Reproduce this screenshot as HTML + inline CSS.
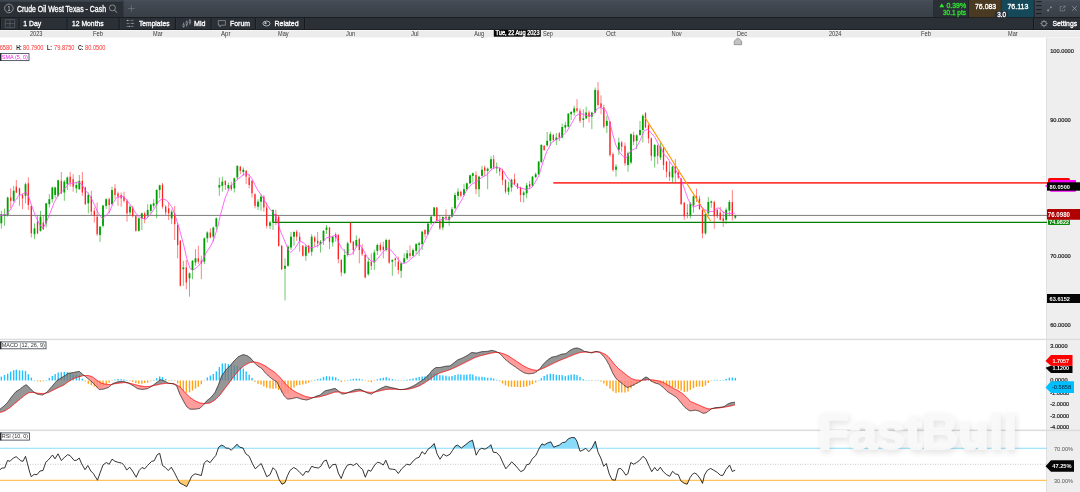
<!DOCTYPE html>
<html lang="en"><head><meta charset="utf-8"><title>Crude Oil West Texas - Cash</title>
<style>html,body{margin:0;padding:0;background:#fff;overflow:hidden}body{width:1080px;height:492px;font-family:"Liberation Sans", Arial, sans-serif}svg text{white-space:pre}</style>
</head><body>
<svg width="1080" height="492" viewBox="0 0 1080 492" font-family='"Liberation Sans", Arial, sans-serif' style="display:block">
<defs>
<linearGradient id="tabg" x1="0" y1="0" x2="0" y2="1"><stop offset="0" stop-color="#49515a"/><stop offset="0.12" stop-color="#434a53"/><stop offset="1" stop-color="#383f47"/></linearGradient>
<filter id="wmblur" x="-10%" y="-30%" width="120%" height="170%"><feGaussianBlur stdDeviation="3"/></filter>
<clipPath id="plot"><rect x="0" y="37.5" width="1047" height="455"/></clipPath>
</defs>
<rect x="0.00" y="0.00" width="1080.00" height="492.00" fill="#ffffff" />
<rect x="1047.00" y="37.50" width="33.00" height="455.00" fill="#eeeeee" />
<line x1="1046.50" y1="37.50" x2="1046.50" y2="492.00" stroke="#e0e0e0" stroke-width="1" />
<g clip-path="url(#plot)">
<line x1="0.00" y1="215.40" x2="1047.00" y2="215.40" stroke="#7a7a7a" stroke-width="1" />
<line x1="272.80" y1="222.30" x2="1047.00" y2="222.30" stroke="#008000" stroke-width="1.3" />
<line x1="553.30" y1="182.90" x2="1047.00" y2="182.90" stroke="#ff3b3b" stroke-width="1.6" />
<path d="M1.33 210.83V228.67" stroke="#00a000" stroke-width="0.75" stroke-opacity="0.75"/>
<rect x="0.43" y="214.17" width="1.8" height="9.17" fill="#00a000"/>
<path d="M4.50 208.67V225.83" stroke="#00a000" stroke-width="0.75" stroke-opacity="0.75"/>
<rect x="3.60" y="214.17" width="1.8" height="1.67" fill="#00a000"/>
<path d="M7.67 196.67V216.67" stroke="#00a000" stroke-width="0.75" stroke-opacity="0.75"/>
<rect x="6.77" y="197.50" width="1.8" height="17.50" fill="#00a000"/>
<path d="M10.67 188.33V208.33" stroke="#ff2222" stroke-width="0.75" stroke-opacity="0.75"/>
<rect x="10.02" y="197.50" width="1.3" height="3.33" fill="#ff2222"/>
<path d="M13.67 185.83V202.50" stroke="#00a000" stroke-width="0.75" stroke-opacity="0.75"/>
<rect x="12.77" y="190.83" width="1.8" height="10.00" fill="#00a000"/>
<path d="M16.33 180.00V193.33" stroke="#ff2222" stroke-width="0.75" stroke-opacity="0.75"/>
<rect x="15.68" y="186.67" width="1.3" height="5.83" fill="#ff2222"/>
<path d="M19.50 187.50V205.83" stroke="#ff2222" stroke-width="0.75" stroke-opacity="0.75"/>
<rect x="18.85" y="188.33" width="1.3" height="6.67" fill="#ff2222"/>
<path d="M22.50 193.33V209.17" stroke="#ff2222" stroke-width="0.75" stroke-opacity="0.75"/>
<rect x="21.85" y="195.00" width="1.3" height="3.33" fill="#ff2222"/>
<path d="M25.50 182.50V203.33" stroke="#00a000" stroke-width="0.75" stroke-opacity="0.75"/>
<rect x="24.60" y="184.17" width="1.8" height="11.67" fill="#00a000"/>
<path d="M28.33 177.50V210.00" stroke="#ff2222" stroke-width="0.75" stroke-opacity="0.75"/>
<rect x="27.68" y="183.33" width="1.3" height="21.67" fill="#ff2222"/>
<path d="M31.33 205.83V237.50" stroke="#ff2222" stroke-width="0.75" stroke-opacity="0.75"/>
<rect x="30.68" y="205.83" width="1.3" height="27.50" fill="#ff2222"/>
<path d="M34.50 223.33V239.17" stroke="#00a000" stroke-width="0.75" stroke-opacity="0.75"/>
<rect x="33.60" y="228.33" width="1.8" height="5.83" fill="#00a000"/>
<path d="M37.50 215.83V234.17" stroke="#ff2222" stroke-width="0.75" stroke-opacity="0.75"/>
<rect x="36.85" y="221.67" width="1.3" height="11.67" fill="#ff2222"/>
<path d="M40.50 210.83V231.67" stroke="#00a000" stroke-width="0.75" stroke-opacity="0.75"/>
<rect x="39.60" y="216.67" width="1.8" height="14.17" fill="#00a000"/>
<path d="M43.33 215.83V230.00" stroke="#ff2222" stroke-width="0.75" stroke-opacity="0.75"/>
<rect x="42.68" y="222.50" width="1.3" height="6.67" fill="#ff2222"/>
<path d="M46.17 203.00V227.50" stroke="#00a000" stroke-width="0.75" stroke-opacity="0.75"/>
<rect x="45.27" y="203.33" width="1.8" height="20.00" fill="#00a000"/>
<path d="M49.33 194.17V207.50" stroke="#00a000" stroke-width="0.75" stroke-opacity="0.75"/>
<rect x="48.43" y="199.17" width="1.8" height="5.00" fill="#00a000"/>
<path d="M52.33 186.67V202.50" stroke="#00a000" stroke-width="0.75" stroke-opacity="0.75"/>
<rect x="51.43" y="187.50" width="1.8" height="11.67" fill="#00a000"/>
<path d="M55.17 186.67V198.33" stroke="#00a000" stroke-width="0.75" stroke-opacity="0.75"/>
<rect x="54.27" y="187.50" width="1.8" height="7.50" fill="#00a000"/>
<path d="M58.17 179.67V196.67" stroke="#00a000" stroke-width="0.75" stroke-opacity="0.75"/>
<rect x="57.27" y="180.33" width="1.8" height="15.50" fill="#00a000"/>
<path d="M61.33 172.00V194.17" stroke="#ff2222" stroke-width="0.75" stroke-opacity="0.75"/>
<rect x="60.68" y="180.83" width="1.3" height="12.50" fill="#ff2222"/>
<path d="M64.33 180.00V200.83" stroke="#00a000" stroke-width="0.75" stroke-opacity="0.75"/>
<rect x="63.43" y="181.67" width="1.8" height="10.83" fill="#00a000"/>
<path d="M67.33 176.33V190.00" stroke="#00a000" stroke-width="0.75" stroke-opacity="0.75"/>
<rect x="66.43" y="177.50" width="1.8" height="6.67" fill="#00a000"/>
<path d="M70.17 172.00V186.67" stroke="#ff2222" stroke-width="0.75" stroke-opacity="0.75"/>
<rect x="69.52" y="176.67" width="1.3" height="5.83" fill="#ff2222"/>
<path d="M73.17 174.17V191.67" stroke="#ff2222" stroke-width="0.75" stroke-opacity="0.75"/>
<rect x="72.52" y="179.17" width="1.3" height="7.50" fill="#ff2222"/>
<path d="M76.33 181.67V193.00" stroke="#00a000" stroke-width="0.75" stroke-opacity="0.75"/>
<rect x="75.43" y="185.00" width="1.8" height="3.33" fill="#00a000"/>
<path d="M79.33 175.00V190.00" stroke="#00a000" stroke-width="0.75" stroke-opacity="0.75"/>
<rect x="78.43" y="180.83" width="1.8" height="8.33" fill="#00a000"/>
<path d="M82.33 172.00V195.83" stroke="#ff2222" stroke-width="0.75" stroke-opacity="0.75"/>
<rect x="81.68" y="180.83" width="1.3" height="11.67" fill="#ff2222"/>
<path d="M85.33 186.67V205.00" stroke="#ff2222" stroke-width="0.75" stroke-opacity="0.75"/>
<rect x="84.68" y="187.50" width="1.3" height="16.67" fill="#ff2222"/>
<path d="M88.33 192.50V213.33" stroke="#00a000" stroke-width="0.75" stroke-opacity="0.75"/>
<rect x="87.43" y="195.00" width="1.8" height="8.33" fill="#00a000"/>
<path d="M91.33 190.83V215.00" stroke="#ff2222" stroke-width="0.75" stroke-opacity="0.75"/>
<rect x="90.68" y="196.67" width="1.3" height="15.00" fill="#ff2222"/>
<path d="M94.33 207.50V222.50" stroke="#ff2222" stroke-width="0.75" stroke-opacity="0.75"/>
<rect x="93.68" y="210.83" width="1.3" height="5.00" fill="#ff2222"/>
<path d="M97.17 202.50V235.83" stroke="#ff2222" stroke-width="0.75" stroke-opacity="0.75"/>
<rect x="96.52" y="216.67" width="1.3" height="17.50" fill="#ff2222"/>
<path d="M100.00 225.83V242.00" stroke="#00a000" stroke-width="0.75" stroke-opacity="0.75"/>
<rect x="99.10" y="226.67" width="1.8" height="8.33" fill="#00a000"/>
<path d="M103.00 205.00V227.50" stroke="#00a000" stroke-width="0.75" stroke-opacity="0.75"/>
<rect x="102.10" y="205.50" width="1.8" height="20.33" fill="#00a000"/>
<path d="M106.17 198.33V209.17" stroke="#00a000" stroke-width="0.75" stroke-opacity="0.75"/>
<rect x="105.27" y="199.17" width="1.8" height="6.67" fill="#00a000"/>
<path d="M109.17 197.50V213.33" stroke="#ff2222" stroke-width="0.75" stroke-opacity="0.75"/>
<rect x="108.52" y="199.17" width="1.3" height="5.83" fill="#ff2222"/>
<path d="M112.00 186.67V205.00" stroke="#00a000" stroke-width="0.75" stroke-opacity="0.75"/>
<rect x="111.10" y="190.00" width="1.8" height="14.17" fill="#00a000"/>
<path d="M115.00 184.17V198.33" stroke="#ff2222" stroke-width="0.75" stroke-opacity="0.75"/>
<rect x="114.35" y="188.33" width="1.3" height="6.67" fill="#ff2222"/>
<path d="M118.00 191.67V205.83" stroke="#ff2222" stroke-width="0.75" stroke-opacity="0.75"/>
<rect x="117.35" y="193.33" width="1.3" height="3.33" fill="#ff2222"/>
<path d="M121.17 192.50V206.67" stroke="#ff2222" stroke-width="0.75" stroke-opacity="0.75"/>
<rect x="120.52" y="195.00" width="1.3" height="3.33" fill="#ff2222"/>
<path d="M124.00 191.67V202.50" stroke="#ff2222" stroke-width="0.75" stroke-opacity="0.75"/>
<rect x="123.35" y="196.67" width="1.3" height="4.17" fill="#ff2222"/>
<path d="M127.00 199.17V221.67" stroke="#ff2222" stroke-width="0.75" stroke-opacity="0.75"/>
<rect x="126.35" y="200.83" width="1.3" height="12.50" fill="#ff2222"/>
<path d="M130.00 205.00V215.00" stroke="#00a000" stroke-width="0.75" stroke-opacity="0.75"/>
<rect x="129.10" y="206.67" width="1.8" height="5.83" fill="#00a000"/>
<path d="M132.67 205.83V217.50" stroke="#ff2222" stroke-width="0.75" stroke-opacity="0.75"/>
<rect x="132.02" y="207.50" width="1.3" height="8.33" fill="#ff2222"/>
<path d="M135.83 215.83V231.67" stroke="#ff2222" stroke-width="0.75" stroke-opacity="0.75"/>
<rect x="135.18" y="215.83" width="1.3" height="15.00" fill="#ff2222"/>
<path d="M138.83 217.50V231.67" stroke="#00a000" stroke-width="0.75" stroke-opacity="0.75"/>
<rect x="137.93" y="218.33" width="1.8" height="12.50" fill="#00a000"/>
<path d="M141.83 212.50V230.00" stroke="#00a000" stroke-width="0.75" stroke-opacity="0.75"/>
<rect x="140.93" y="213.33" width="1.8" height="5.00" fill="#00a000"/>
<path d="M144.67 211.67V223.33" stroke="#ff2222" stroke-width="0.75" stroke-opacity="0.75"/>
<rect x="144.02" y="213.33" width="1.3" height="5.83" fill="#ff2222"/>
<path d="M147.67 204.17V217.50" stroke="#00a000" stroke-width="0.75" stroke-opacity="0.75"/>
<rect x="146.77" y="210.00" width="1.8" height="5.00" fill="#00a000"/>
<path d="M150.83 203.67V213.33" stroke="#00a000" stroke-width="0.75" stroke-opacity="0.75"/>
<rect x="149.93" y="204.67" width="1.8" height="6.17" fill="#00a000"/>
<path d="M153.67 199.17V208.33" stroke="#00a000" stroke-width="0.75" stroke-opacity="0.75"/>
<rect x="152.77" y="203.33" width="1.8" height="2.50" fill="#00a000"/>
<path d="M156.67 189.17V218.33" stroke="#00a000" stroke-width="0.75" stroke-opacity="0.75"/>
<rect x="155.77" y="190.00" width="1.8" height="14.17" fill="#00a000"/>
<path d="M159.67 184.67V198.33" stroke="#00a000" stroke-width="0.75" stroke-opacity="0.75"/>
<rect x="158.77" y="185.33" width="1.8" height="4.67" fill="#00a000"/>
<path d="M162.50 183.00V208.67" stroke="#ff2222" stroke-width="0.75" stroke-opacity="0.75"/>
<rect x="161.85" y="184.67" width="1.3" height="22.00" fill="#ff2222"/>
<path d="M165.67 205.00V215.00" stroke="#ff2222" stroke-width="0.75" stroke-opacity="0.75"/>
<rect x="165.02" y="206.67" width="1.3" height="5.83" fill="#ff2222"/>
<path d="M168.67 202.50V220.00" stroke="#ff2222" stroke-width="0.75" stroke-opacity="0.75"/>
<rect x="168.02" y="208.33" width="1.3" height="5.00" fill="#ff2222"/>
<path d="M171.67 209.67V224.17" stroke="#00a000" stroke-width="0.75" stroke-opacity="0.75"/>
<rect x="170.77" y="211.67" width="1.8" height="6.67" fill="#00a000"/>
<path d="M174.67 205.83V240.00" stroke="#ff2222" stroke-width="0.75" stroke-opacity="0.75"/>
<rect x="174.02" y="213.33" width="1.3" height="10.83" fill="#ff2222"/>
<path d="M177.67 223.33V258.33" stroke="#ff2222" stroke-width="0.75" stroke-opacity="0.75"/>
<rect x="177.02" y="225.00" width="1.3" height="20.00" fill="#ff2222"/>
<path d="M180.33 240.00V286.33" stroke="#ff2222" stroke-width="0.75" stroke-opacity="0.75"/>
<rect x="179.68" y="240.83" width="1.3" height="45.00" fill="#ff2222"/>
<path d="M183.33 260.83V285.83" stroke="#00a000" stroke-width="0.75" stroke-opacity="0.75"/>
<rect x="182.43" y="267.50" width="1.8" height="1.67" fill="#00a000"/>
<path d="M186.33 260.00V289.17" stroke="#ff2222" stroke-width="0.75" stroke-opacity="0.75"/>
<rect x="185.68" y="267.50" width="1.3" height="15.00" fill="#ff2222"/>
<path d="M189.50 272.50V296.67" stroke="#00a000" stroke-width="0.75" stroke-opacity="0.75"/>
<rect x="188.60" y="273.33" width="1.8" height="5.00" fill="#00a000"/>
<path d="M192.50 260.00V279.17" stroke="#00a000" stroke-width="0.75" stroke-opacity="0.75"/>
<rect x="191.60" y="260.83" width="1.8" height="9.17" fill="#00a000"/>
<path d="M195.50 249.17V265.83" stroke="#00a000" stroke-width="0.75" stroke-opacity="0.75"/>
<rect x="194.60" y="258.33" width="1.8" height="4.17" fill="#00a000"/>
<path d="M198.33 245.83V264.17" stroke="#ff2222" stroke-width="0.75" stroke-opacity="0.75"/>
<rect x="197.68" y="258.33" width="1.3" height="3.33" fill="#ff2222"/>
<path d="M201.33 255.83V279.17" stroke="#ff2222" stroke-width="0.75" stroke-opacity="0.75"/>
<rect x="200.68" y="260.83" width="1.3" height="2.50" fill="#ff2222"/>
<path d="M204.33 237.50V264.17" stroke="#00a000" stroke-width="0.75" stroke-opacity="0.75"/>
<rect x="203.43" y="238.33" width="1.8" height="23.33" fill="#00a000"/>
<path d="M207.33 231.33V242.50" stroke="#00a000" stroke-width="0.75" stroke-opacity="0.75"/>
<rect x="206.43" y="232.50" width="1.8" height="5.83" fill="#00a000"/>
<path d="M210.33 228.33V238.33" stroke="#ff2222" stroke-width="0.75" stroke-opacity="0.75"/>
<rect x="209.68" y="232.50" width="1.3" height="5.00" fill="#ff2222"/>
<path d="M213.33 226.67V241.67" stroke="#00a000" stroke-width="0.75" stroke-opacity="0.75"/>
<rect x="212.43" y="227.50" width="1.8" height="9.17" fill="#00a000"/>
<path d="M216.33 217.50V230.00" stroke="#00a000" stroke-width="0.75" stroke-opacity="0.75"/>
<rect x="215.43" y="218.33" width="1.8" height="8.33" fill="#00a000"/>
<path d="M219.33 177.50V195.83" stroke="#00a000" stroke-width="0.75" stroke-opacity="0.75"/>
<rect x="218.43" y="185.00" width="1.8" height="2.50" fill="#00a000"/>
<path d="M222.33 176.67V191.67" stroke="#00a000" stroke-width="0.75" stroke-opacity="0.75"/>
<rect x="221.43" y="181.67" width="1.8" height="4.17" fill="#00a000"/>
<path d="M225.33 180.33V190.00" stroke="#ff2222" stroke-width="0.75" stroke-opacity="0.75"/>
<rect x="224.68" y="180.83" width="1.3" height="4.17" fill="#ff2222"/>
<path d="M228.33 182.50V190.83" stroke="#00a000" stroke-width="0.75" stroke-opacity="0.75"/>
<rect x="227.43" y="185.00" width="1.8" height="3.33" fill="#00a000"/>
<path d="M231.33 181.67V190.83" stroke="#ff2222" stroke-width="0.75" stroke-opacity="0.75"/>
<rect x="230.68" y="185.00" width="1.3" height="4.17" fill="#ff2222"/>
<path d="M234.33 177.50V192.50" stroke="#00a000" stroke-width="0.75" stroke-opacity="0.75"/>
<rect x="233.43" y="178.33" width="1.8" height="10.00" fill="#00a000"/>
<path d="M237.33 165.33V179.17" stroke="#00a000" stroke-width="0.75" stroke-opacity="0.75"/>
<rect x="236.43" y="165.83" width="1.8" height="11.67" fill="#00a000"/>
<path d="M240.33 165.83V174.17" stroke="#ff2222" stroke-width="0.75" stroke-opacity="0.75"/>
<rect x="239.68" y="166.67" width="1.3" height="4.17" fill="#ff2222"/>
<path d="M243.33 167.50V175.83" stroke="#00a000" stroke-width="0.75" stroke-opacity="0.75"/>
<rect x="242.43" y="169.67" width="1.8" height="2.33" fill="#00a000"/>
<path d="M246.17 170.00V184.17" stroke="#ff2222" stroke-width="0.75" stroke-opacity="0.75"/>
<rect x="245.52" y="170.83" width="1.3" height="5.83" fill="#ff2222"/>
<path d="M249.17 174.17V188.33" stroke="#ff2222" stroke-width="0.75" stroke-opacity="0.75"/>
<rect x="248.52" y="177.50" width="1.3" height="7.50" fill="#ff2222"/>
<path d="M252.00 180.00V197.50" stroke="#ff2222" stroke-width="0.75" stroke-opacity="0.75"/>
<rect x="251.35" y="180.83" width="1.3" height="12.50" fill="#ff2222"/>
<path d="M255.00 193.33V208.33" stroke="#ff2222" stroke-width="0.75" stroke-opacity="0.75"/>
<rect x="254.35" y="194.17" width="1.3" height="11.67" fill="#ff2222"/>
<path d="M258.00 199.17V210.00" stroke="#00a000" stroke-width="0.75" stroke-opacity="0.75"/>
<rect x="257.10" y="201.67" width="1.8" height="5.00" fill="#00a000"/>
<path d="M261.00 194.17V210.83" stroke="#00a000" stroke-width="0.75" stroke-opacity="0.75"/>
<rect x="260.10" y="196.67" width="1.8" height="5.00" fill="#00a000"/>
<path d="M263.83 195.00V211.67" stroke="#ff2222" stroke-width="0.75" stroke-opacity="0.75"/>
<rect x="263.18" y="196.67" width="1.3" height="10.83" fill="#ff2222"/>
<path d="M266.67 202.50V228.33" stroke="#ff2222" stroke-width="0.75" stroke-opacity="0.75"/>
<rect x="266.02" y="207.50" width="1.3" height="18.33" fill="#ff2222"/>
<path d="M270.00 220.83V229.17" stroke="#00a000" stroke-width="0.75" stroke-opacity="0.75"/>
<rect x="269.10" y="222.50" width="1.8" height="3.33" fill="#00a000"/>
<path d="M273.00 209.17V230.00" stroke="#00a000" stroke-width="0.75" stroke-opacity="0.75"/>
<rect x="272.10" y="210.00" width="1.8" height="12.50" fill="#00a000"/>
<path d="M275.83 209.67V225.00" stroke="#ff2222" stroke-width="0.75" stroke-opacity="0.75"/>
<rect x="275.18" y="214.17" width="1.3" height="8.33" fill="#ff2222"/>
<path d="M278.67 215.00V246.67" stroke="#ff2222" stroke-width="0.75" stroke-opacity="0.75"/>
<rect x="278.02" y="216.67" width="1.3" height="29.17" fill="#ff2222"/>
<path d="M281.67 245.00V270.00" stroke="#ff2222" stroke-width="0.75" stroke-opacity="0.75"/>
<rect x="281.02" y="245.83" width="1.3" height="23.33" fill="#ff2222"/>
<path d="M285.00 258.33V300.33" stroke="#00a000" stroke-width="0.75" stroke-opacity="0.75"/>
<rect x="284.10" y="265.83" width="1.8" height="2.83" fill="#00a000"/>
<path d="M288.00 245.00V266.67" stroke="#00a000" stroke-width="0.75" stroke-opacity="0.75"/>
<rect x="287.10" y="246.67" width="1.8" height="19.17" fill="#00a000"/>
<path d="M291.00 232.00V250.00" stroke="#00a000" stroke-width="0.75" stroke-opacity="0.75"/>
<rect x="290.10" y="236.67" width="1.8" height="10.83" fill="#00a000"/>
<path d="M294.00 231.33V245.83" stroke="#00a000" stroke-width="0.75" stroke-opacity="0.75"/>
<rect x="293.10" y="232.00" width="1.8" height="4.67" fill="#00a000"/>
<path d="M296.67 230.00V240.83" stroke="#ff2222" stroke-width="0.75" stroke-opacity="0.75"/>
<rect x="296.02" y="231.67" width="1.3" height="5.00" fill="#ff2222"/>
<path d="M299.67 232.50V251.67" stroke="#ff2222" stroke-width="0.75" stroke-opacity="0.75"/>
<rect x="299.02" y="236.67" width="1.3" height="4.17" fill="#ff2222"/>
<path d="M302.83 245.00V256.67" stroke="#ff2222" stroke-width="0.75" stroke-opacity="0.75"/>
<rect x="302.18" y="245.83" width="1.3" height="10.00" fill="#ff2222"/>
<path d="M305.83 245.00V260.83" stroke="#00a000" stroke-width="0.75" stroke-opacity="0.75"/>
<rect x="304.93" y="246.67" width="1.8" height="9.17" fill="#00a000"/>
<path d="M308.67 244.67V253.33" stroke="#ff2222" stroke-width="0.75" stroke-opacity="0.75"/>
<rect x="308.02" y="245.83" width="1.3" height="6.67" fill="#ff2222"/>
<path d="M311.67 234.17V255.83" stroke="#00a000" stroke-width="0.75" stroke-opacity="0.75"/>
<rect x="310.77" y="236.67" width="1.8" height="15.00" fill="#00a000"/>
<path d="M314.67 235.83V246.67" stroke="#ff2222" stroke-width="0.75" stroke-opacity="0.75"/>
<rect x="314.02" y="237.50" width="1.3" height="4.17" fill="#ff2222"/>
<path d="M317.67 232.00V247.50" stroke="#ff2222" stroke-width="0.75" stroke-opacity="0.75"/>
<rect x="317.02" y="240.83" width="1.3" height="2.50" fill="#ff2222"/>
<path d="M320.50 240.00V252.50" stroke="#00a000" stroke-width="0.75" stroke-opacity="0.75"/>
<rect x="319.60" y="241.67" width="1.8" height="2.50" fill="#00a000"/>
<path d="M323.50 230.00V245.00" stroke="#00a000" stroke-width="0.75" stroke-opacity="0.75"/>
<rect x="322.60" y="230.83" width="1.8" height="10.00" fill="#00a000"/>
<path d="M326.50 225.00V234.17" stroke="#00a000" stroke-width="0.75" stroke-opacity="0.75"/>
<rect x="325.60" y="227.50" width="1.8" height="2.50" fill="#00a000"/>
<path d="M329.50 227.00V249.17" stroke="#ff2222" stroke-width="0.75" stroke-opacity="0.75"/>
<rect x="328.85" y="227.50" width="1.3" height="14.17" fill="#ff2222"/>
<path d="M332.67 235.83V246.67" stroke="#00a000" stroke-width="0.75" stroke-opacity="0.75"/>
<rect x="331.77" y="236.67" width="1.8" height="5.83" fill="#00a000"/>
<path d="M335.67 232.50V241.67" stroke="#ff2222" stroke-width="0.75" stroke-opacity="0.75"/>
<rect x="335.02" y="234.17" width="1.3" height="3.33" fill="#ff2222"/>
<path d="M338.33 234.17V263.33" stroke="#ff2222" stroke-width="0.75" stroke-opacity="0.75"/>
<rect x="337.68" y="235.00" width="1.3" height="24.17" fill="#ff2222"/>
<path d="M341.33 259.17V276.33" stroke="#ff2222" stroke-width="0.75" stroke-opacity="0.75"/>
<rect x="340.68" y="260.00" width="1.3" height="12.50" fill="#ff2222"/>
<path d="M344.67 249.17V274.17" stroke="#00a000" stroke-width="0.75" stroke-opacity="0.75"/>
<rect x="343.77" y="255.00" width="1.8" height="18.00" fill="#00a000"/>
<path d="M347.67 241.67V256.67" stroke="#00a000" stroke-width="0.75" stroke-opacity="0.75"/>
<rect x="346.77" y="243.33" width="1.8" height="11.67" fill="#00a000"/>
<path d="M350.50 222.50V243.33" stroke="#ff2222" stroke-width="0.75" stroke-opacity="0.75"/>
<rect x="349.85" y="223.00" width="1.3" height="19.50" fill="#ff2222"/>
<path d="M353.33 240.83V255.00" stroke="#ff2222" stroke-width="0.75" stroke-opacity="0.75"/>
<rect x="352.68" y="241.67" width="1.3" height="8.33" fill="#ff2222"/>
<path d="M356.33 235.33V247.50" stroke="#00a000" stroke-width="0.75" stroke-opacity="0.75"/>
<rect x="355.43" y="240.00" width="1.8" height="5.83" fill="#00a000"/>
<path d="M359.33 237.50V263.33" stroke="#ff2222" stroke-width="0.75" stroke-opacity="0.75"/>
<rect x="358.68" y="239.17" width="1.3" height="10.83" fill="#ff2222"/>
<path d="M362.17 244.17V255.83" stroke="#ff2222" stroke-width="0.75" stroke-opacity="0.75"/>
<rect x="361.52" y="248.33" width="1.3" height="5.83" fill="#ff2222"/>
<path d="M365.17 254.17V278.33" stroke="#ff2222" stroke-width="0.75" stroke-opacity="0.75"/>
<rect x="364.52" y="255.00" width="1.3" height="22.50" fill="#ff2222"/>
<path d="M368.33 257.50V275.83" stroke="#00a000" stroke-width="0.75" stroke-opacity="0.75"/>
<rect x="367.43" y="261.67" width="1.8" height="12.50" fill="#00a000"/>
<path d="M371.33 253.33V270.00" stroke="#ff2222" stroke-width="0.75" stroke-opacity="0.75"/>
<rect x="370.68" y="261.67" width="1.3" height="4.17" fill="#ff2222"/>
<path d="M374.33 249.67V270.00" stroke="#00a000" stroke-width="0.75" stroke-opacity="0.75"/>
<rect x="373.43" y="252.50" width="1.8" height="10.00" fill="#00a000"/>
<path d="M377.33 243.67V255.00" stroke="#00a000" stroke-width="0.75" stroke-opacity="0.75"/>
<rect x="376.43" y="245.00" width="1.8" height="5.83" fill="#00a000"/>
<path d="M380.33 242.50V251.67" stroke="#ff2222" stroke-width="0.75" stroke-opacity="0.75"/>
<rect x="379.68" y="245.00" width="1.3" height="5.00" fill="#ff2222"/>
<path d="M383.33 241.67V258.33" stroke="#ff2222" stroke-width="0.75" stroke-opacity="0.75"/>
<rect x="382.68" y="246.67" width="1.3" height="3.33" fill="#ff2222"/>
<path d="M386.17 238.67V251.67" stroke="#00a000" stroke-width="0.75" stroke-opacity="0.75"/>
<rect x="385.27" y="240.00" width="1.8" height="10.00" fill="#00a000"/>
<path d="M389.17 239.17V264.17" stroke="#ff2222" stroke-width="0.75" stroke-opacity="0.75"/>
<rect x="388.52" y="240.00" width="1.3" height="22.50" fill="#ff2222"/>
<path d="M392.33 259.17V275.83" stroke="#00a000" stroke-width="0.75" stroke-opacity="0.75"/>
<rect x="391.43" y="260.00" width="1.8" height="1.67" fill="#00a000"/>
<path d="M395.33 257.50V266.67" stroke="#ff2222" stroke-width="0.75" stroke-opacity="0.75"/>
<rect x="394.68" y="258.33" width="1.3" height="1.67" fill="#ff2222"/>
<path d="M398.33 256.67V274.17" stroke="#ff2222" stroke-width="0.75" stroke-opacity="0.75"/>
<rect x="397.68" y="261.67" width="1.3" height="8.33" fill="#ff2222"/>
<path d="M401.17 262.50V278.00" stroke="#00a000" stroke-width="0.75" stroke-opacity="0.75"/>
<rect x="400.27" y="263.33" width="1.8" height="7.50" fill="#00a000"/>
<path d="M404.17 253.33V263.33" stroke="#00a000" stroke-width="0.75" stroke-opacity="0.75"/>
<rect x="403.27" y="258.33" width="1.8" height="4.17" fill="#00a000"/>
<path d="M407.17 250.00V260.00" stroke="#00a000" stroke-width="0.75" stroke-opacity="0.75"/>
<rect x="406.27" y="253.33" width="1.8" height="5.00" fill="#00a000"/>
<path d="M410.00 245.33V258.33" stroke="#ff2222" stroke-width="0.75" stroke-opacity="0.75"/>
<rect x="409.35" y="253.33" width="1.3" height="2.50" fill="#ff2222"/>
<path d="M413.00 248.33V256.67" stroke="#00a000" stroke-width="0.75" stroke-opacity="0.75"/>
<rect x="412.10" y="250.00" width="1.8" height="5.83" fill="#00a000"/>
<path d="M416.17 243.00V254.17" stroke="#00a000" stroke-width="0.75" stroke-opacity="0.75"/>
<rect x="415.27" y="244.17" width="1.8" height="6.67" fill="#00a000"/>
<path d="M419.17 241.67V255.83" stroke="#00a000" stroke-width="0.75" stroke-opacity="0.75"/>
<rect x="418.27" y="243.33" width="1.8" height="1.67" fill="#00a000"/>
<path d="M422.17 230.83V250.00" stroke="#00a000" stroke-width="0.75" stroke-opacity="0.75"/>
<rect x="421.27" y="231.67" width="1.8" height="12.50" fill="#00a000"/>
<path d="M425.00 229.17V237.50" stroke="#ff2222" stroke-width="0.75" stroke-opacity="0.75"/>
<rect x="424.35" y="230.00" width="1.3" height="4.17" fill="#ff2222"/>
<path d="M428.00 223.00V235.00" stroke="#00a000" stroke-width="0.75" stroke-opacity="0.75"/>
<rect x="427.10" y="223.67" width="1.8" height="10.50" fill="#00a000"/>
<path d="M431.17 215.33V225.00" stroke="#00a000" stroke-width="0.75" stroke-opacity="0.75"/>
<rect x="430.27" y="216.67" width="1.8" height="6.67" fill="#00a000"/>
<path d="M434.17 207.00V216.67" stroke="#00a000" stroke-width="0.75" stroke-opacity="0.75"/>
<rect x="433.27" y="207.50" width="1.8" height="8.33" fill="#00a000"/>
<path d="M436.83 207.00V221.67" stroke="#ff2222" stroke-width="0.75" stroke-opacity="0.75"/>
<rect x="436.18" y="207.50" width="1.3" height="13.33" fill="#ff2222"/>
<path d="M439.83 215.83V230.00" stroke="#ff2222" stroke-width="0.75" stroke-opacity="0.75"/>
<rect x="439.18" y="220.83" width="1.3" height="7.50" fill="#ff2222"/>
<path d="M442.83 216.33V230.33" stroke="#00a000" stroke-width="0.75" stroke-opacity="0.75"/>
<rect x="441.93" y="217.00" width="1.8" height="10.50" fill="#00a000"/>
<path d="M446.00 209.17V220.83" stroke="#ff2222" stroke-width="0.75" stroke-opacity="0.75"/>
<rect x="445.35" y="216.67" width="1.3" height="1.67" fill="#ff2222"/>
<path d="M449.17 215.00V225.83" stroke="#00a000" stroke-width="0.75" stroke-opacity="0.75"/>
<rect x="448.27" y="216.67" width="1.8" height="3.33" fill="#00a000"/>
<path d="M452.00 207.00V217.50" stroke="#00a000" stroke-width="0.75" stroke-opacity="0.75"/>
<rect x="451.10" y="209.17" width="1.8" height="7.50" fill="#00a000"/>
<path d="M455.00 192.50V209.17" stroke="#00a000" stroke-width="0.75" stroke-opacity="0.75"/>
<rect x="454.10" y="195.00" width="1.8" height="13.33" fill="#00a000"/>
<path d="M458.00 188.33V200.00" stroke="#00a000" stroke-width="0.75" stroke-opacity="0.75"/>
<rect x="457.10" y="191.67" width="1.8" height="4.17" fill="#00a000"/>
<path d="M460.83 190.83V197.50" stroke="#ff2222" stroke-width="0.75" stroke-opacity="0.75"/>
<rect x="460.18" y="191.67" width="1.3" height="4.17" fill="#ff2222"/>
<path d="M464.00 184.17V195.83" stroke="#00a000" stroke-width="0.75" stroke-opacity="0.75"/>
<rect x="463.10" y="189.17" width="1.8" height="5.83" fill="#00a000"/>
<path d="M466.83 182.50V190.83" stroke="#00a000" stroke-width="0.75" stroke-opacity="0.75"/>
<rect x="465.93" y="183.33" width="1.8" height="5.83" fill="#00a000"/>
<path d="M470.00 174.67V184.17" stroke="#00a000" stroke-width="0.75" stroke-opacity="0.75"/>
<rect x="469.10" y="175.33" width="1.8" height="8.00" fill="#00a000"/>
<path d="M472.83 172.50V182.50" stroke="#00a000" stroke-width="0.75" stroke-opacity="0.75"/>
<rect x="471.93" y="173.33" width="1.8" height="2.50" fill="#00a000"/>
<path d="M476.00 171.33V194.17" stroke="#ff2222" stroke-width="0.75" stroke-opacity="0.75"/>
<rect x="475.35" y="175.00" width="1.3" height="14.17" fill="#ff2222"/>
<path d="M479.00 175.83V197.00" stroke="#00a000" stroke-width="0.75" stroke-opacity="0.75"/>
<rect x="478.10" y="176.67" width="1.8" height="12.50" fill="#00a000"/>
<path d="M482.00 165.83V176.67" stroke="#00a000" stroke-width="0.75" stroke-opacity="0.75"/>
<rect x="481.10" y="169.67" width="1.8" height="6.17" fill="#00a000"/>
<path d="M484.67 165.50V175.83" stroke="#ff2222" stroke-width="0.75" stroke-opacity="0.75"/>
<rect x="484.02" y="167.50" width="1.3" height="3.33" fill="#ff2222"/>
<path d="M487.67 167.50V189.17" stroke="#00a000" stroke-width="0.75" stroke-opacity="0.75"/>
<rect x="486.77" y="168.67" width="1.8" height="2.17" fill="#00a000"/>
<path d="M491.00 156.33V169.17" stroke="#00a000" stroke-width="0.75" stroke-opacity="0.75"/>
<rect x="490.10" y="159.17" width="1.8" height="9.17" fill="#00a000"/>
<path d="M493.67 155.00V169.17" stroke="#ff2222" stroke-width="0.75" stroke-opacity="0.75"/>
<rect x="493.02" y="159.17" width="1.3" height="8.33" fill="#ff2222"/>
<path d="M496.67 162.50V173.33" stroke="#00a000" stroke-width="0.75" stroke-opacity="0.75"/>
<rect x="495.77" y="166.67" width="1.8" height="1.67" fill="#00a000"/>
<path d="M499.67 167.50V175.83" stroke="#ff2222" stroke-width="0.75" stroke-opacity="0.75"/>
<rect x="499.02" y="168.33" width="1.3" height="3.00" fill="#ff2222"/>
<path d="M502.50 168.67V185.00" stroke="#ff2222" stroke-width="0.75" stroke-opacity="0.75"/>
<rect x="501.85" y="170.83" width="1.3" height="9.17" fill="#ff2222"/>
<path d="M505.50 179.17V193.67" stroke="#ff2222" stroke-width="0.75" stroke-opacity="0.75"/>
<rect x="504.85" y="180.00" width="1.3" height="11.67" fill="#ff2222"/>
<path d="M508.50 181.67V195.00" stroke="#00a000" stroke-width="0.75" stroke-opacity="0.75"/>
<rect x="507.60" y="187.50" width="1.8" height="4.17" fill="#00a000"/>
<path d="M511.50 178.67V191.67" stroke="#00a000" stroke-width="0.75" stroke-opacity="0.75"/>
<rect x="510.60" y="179.67" width="1.8" height="7.83" fill="#00a000"/>
<path d="M514.50 173.67V185.00" stroke="#ff2222" stroke-width="0.75" stroke-opacity="0.75"/>
<rect x="513.85" y="179.17" width="1.3" height="5.00" fill="#ff2222"/>
<path d="M517.50 183.00V189.17" stroke="#ff2222" stroke-width="0.75" stroke-opacity="0.75"/>
<rect x="516.85" y="183.67" width="1.3" height="3.83" fill="#ff2222"/>
<path d="M520.50 186.67V202.00" stroke="#ff2222" stroke-width="0.75" stroke-opacity="0.75"/>
<rect x="519.85" y="187.50" width="1.3" height="7.50" fill="#ff2222"/>
<path d="M523.67 190.83V202.50" stroke="#00a000" stroke-width="0.75" stroke-opacity="0.75"/>
<rect x="522.77" y="192.50" width="1.8" height="2.50" fill="#00a000"/>
<path d="M526.67 183.00V198.33" stroke="#00a000" stroke-width="0.75" stroke-opacity="0.75"/>
<rect x="525.77" y="185.33" width="1.8" height="8.00" fill="#00a000"/>
<path d="M529.67 180.83V189.17" stroke="#ff2222" stroke-width="0.75" stroke-opacity="0.75"/>
<rect x="529.02" y="184.17" width="1.3" height="2.50" fill="#ff2222"/>
<path d="M532.50 175.83V186.67" stroke="#00a000" stroke-width="0.75" stroke-opacity="0.75"/>
<rect x="531.60" y="176.67" width="1.8" height="9.17" fill="#00a000"/>
<path d="M535.67 172.50V178.33" stroke="#00a000" stroke-width="0.75" stroke-opacity="0.75"/>
<rect x="534.77" y="174.17" width="1.8" height="2.83" fill="#00a000"/>
<path d="M538.67 160.83V175.00" stroke="#00a000" stroke-width="0.75" stroke-opacity="0.75"/>
<rect x="537.77" y="161.67" width="1.8" height="12.50" fill="#00a000"/>
<path d="M541.33 144.17V163.33" stroke="#00a000" stroke-width="0.75" stroke-opacity="0.75"/>
<rect x="540.43" y="145.00" width="1.8" height="17.00" fill="#00a000"/>
<path d="M544.17 145.00V150.83" stroke="#ff2222" stroke-width="0.75" stroke-opacity="0.75"/>
<rect x="543.52" y="145.83" width="1.3" height="4.17" fill="#ff2222"/>
<path d="M547.17 132.00V146.67" stroke="#00a000" stroke-width="0.75" stroke-opacity="0.75"/>
<rect x="546.27" y="140.83" width="1.8" height="4.50" fill="#00a000"/>
<path d="M550.33 131.67V145.83" stroke="#00a000" stroke-width="0.75" stroke-opacity="0.75"/>
<rect x="549.43" y="134.17" width="1.8" height="6.67" fill="#00a000"/>
<path d="M553.33 133.67V141.67" stroke="#ff2222" stroke-width="0.75" stroke-opacity="0.75"/>
<rect x="552.68" y="135.00" width="1.3" height="5.00" fill="#ff2222"/>
<path d="M556.33 133.00V145.00" stroke="#00a000" stroke-width="0.75" stroke-opacity="0.75"/>
<rect x="555.43" y="137.50" width="1.8" height="2.50" fill="#00a000"/>
<path d="M559.33 132.00V140.83" stroke="#ff2222" stroke-width="0.75" stroke-opacity="0.75"/>
<rect x="558.68" y="133.33" width="1.3" height="4.17" fill="#ff2222"/>
<path d="M562.17 123.67V138.33" stroke="#00a000" stroke-width="0.75" stroke-opacity="0.75"/>
<rect x="561.27" y="127.00" width="1.8" height="10.50" fill="#00a000"/>
<path d="M565.33 121.67V131.67" stroke="#00a000" stroke-width="0.75" stroke-opacity="0.75"/>
<rect x="564.43" y="125.00" width="1.8" height="2.50" fill="#00a000"/>
<path d="M568.33 113.00V127.50" stroke="#00a000" stroke-width="0.75" stroke-opacity="0.75"/>
<rect x="567.43" y="113.67" width="1.8" height="13.00" fill="#00a000"/>
<path d="M571.17 110.83V120.00" stroke="#00a000" stroke-width="0.75" stroke-opacity="0.75"/>
<rect x="570.27" y="112.00" width="1.8" height="2.17" fill="#00a000"/>
<path d="M574.17 105.83V115.83" stroke="#00a000" stroke-width="0.75" stroke-opacity="0.75"/>
<rect x="573.27" y="108.33" width="1.8" height="4.17" fill="#00a000"/>
<path d="M577.00 99.17V112.50" stroke="#ff2222" stroke-width="0.75" stroke-opacity="0.75"/>
<rect x="576.35" y="108.33" width="1.3" height="2.50" fill="#ff2222"/>
<path d="M580.00 108.33V123.00" stroke="#ff2222" stroke-width="0.75" stroke-opacity="0.75"/>
<rect x="579.35" y="110.83" width="1.3" height="10.00" fill="#ff2222"/>
<path d="M583.33 109.17V127.50" stroke="#00a000" stroke-width="0.75" stroke-opacity="0.75"/>
<rect x="582.43" y="118.33" width="1.8" height="1.67" fill="#00a000"/>
<path d="M586.17 106.67V119.17" stroke="#00a000" stroke-width="0.75" stroke-opacity="0.75"/>
<rect x="585.27" y="112.50" width="1.8" height="5.83" fill="#00a000"/>
<path d="M589.00 110.33V122.50" stroke="#ff2222" stroke-width="0.75" stroke-opacity="0.75"/>
<rect x="588.35" y="112.50" width="1.3" height="4.17" fill="#ff2222"/>
<path d="M591.83 111.67V129.17" stroke="#00a000" stroke-width="0.75" stroke-opacity="0.75"/>
<rect x="590.93" y="112.50" width="1.8" height="4.17" fill="#00a000"/>
<path d="M595.17 87.50V113.33" stroke="#00a000" stroke-width="0.75" stroke-opacity="0.75"/>
<rect x="594.27" y="90.00" width="1.8" height="22.50" fill="#00a000"/>
<path d="M598.00 82.00V106.67" stroke="#ff2222" stroke-width="0.75" stroke-opacity="0.75"/>
<rect x="597.35" y="90.33" width="1.3" height="14.67" fill="#ff2222"/>
<path d="M601.00 95.33V114.17" stroke="#ff2222" stroke-width="0.75" stroke-opacity="0.75"/>
<rect x="600.35" y="103.33" width="1.3" height="4.17" fill="#ff2222"/>
<path d="M603.83 104.67V128.33" stroke="#ff2222" stroke-width="0.75" stroke-opacity="0.75"/>
<rect x="603.18" y="107.50" width="1.3" height="19.17" fill="#ff2222"/>
<path d="M606.83 115.83V133.00" stroke="#00a000" stroke-width="0.75" stroke-opacity="0.75"/>
<rect x="605.93" y="120.83" width="1.8" height="5.00" fill="#00a000"/>
<path d="M610.00 120.83V156.67" stroke="#ff2222" stroke-width="0.75" stroke-opacity="0.75"/>
<rect x="609.35" y="121.67" width="1.3" height="33.33" fill="#ff2222"/>
<path d="M613.00 152.50V171.67" stroke="#ff2222" stroke-width="0.75" stroke-opacity="0.75"/>
<rect x="612.35" y="154.17" width="1.3" height="15.83" fill="#ff2222"/>
<path d="M616.00 164.17V176.67" stroke="#00a000" stroke-width="0.75" stroke-opacity="0.75"/>
<rect x="615.10" y="166.67" width="1.8" height="3.00" fill="#00a000"/>
<path d="M618.83 137.50V155.00" stroke="#00a000" stroke-width="0.75" stroke-opacity="0.75"/>
<rect x="617.93" y="142.50" width="1.8" height="7.50" fill="#00a000"/>
<path d="M621.67 140.83V151.67" stroke="#ff2222" stroke-width="0.75" stroke-opacity="0.75"/>
<rect x="621.02" y="142.50" width="1.3" height="4.17" fill="#ff2222"/>
<path d="M625.00 142.50V165.83" stroke="#ff2222" stroke-width="0.75" stroke-opacity="0.75"/>
<rect x="624.35" y="145.83" width="1.3" height="17.50" fill="#ff2222"/>
<path d="M628.00 151.67V171.67" stroke="#00a000" stroke-width="0.75" stroke-opacity="0.75"/>
<rect x="627.10" y="153.33" width="1.8" height="11.67" fill="#00a000"/>
<path d="M631.00 133.33V164.17" stroke="#00a000" stroke-width="0.75" stroke-opacity="0.75"/>
<rect x="630.10" y="134.17" width="1.8" height="28.33" fill="#00a000"/>
<path d="M633.67 131.67V145.00" stroke="#ff2222" stroke-width="0.75" stroke-opacity="0.75"/>
<rect x="633.02" y="135.00" width="1.3" height="6.67" fill="#ff2222"/>
<path d="M636.67 134.17V149.17" stroke="#00a000" stroke-width="0.75" stroke-opacity="0.75"/>
<rect x="635.77" y="135.33" width="1.8" height="5.50" fill="#00a000"/>
<path d="M640.00 120.83V135.83" stroke="#00a000" stroke-width="0.75" stroke-opacity="0.75"/>
<rect x="639.10" y="130.00" width="1.8" height="5.00" fill="#00a000"/>
<path d="M642.83 114.17V142.50" stroke="#00a000" stroke-width="0.75" stroke-opacity="0.75"/>
<rect x="641.93" y="115.83" width="1.8" height="14.17" fill="#00a000"/>
<path d="M645.50 112.00V128.33" stroke="#ff2222" stroke-width="0.75" stroke-opacity="0.75"/>
<rect x="644.85" y="113.33" width="1.3" height="14.17" fill="#ff2222"/>
<path d="M648.50 124.17V143.33" stroke="#ff2222" stroke-width="0.75" stroke-opacity="0.75"/>
<rect x="647.85" y="125.33" width="1.3" height="13.00" fill="#ff2222"/>
<path d="M651.33 137.50V160.83" stroke="#ff2222" stroke-width="0.75" stroke-opacity="0.75"/>
<rect x="650.68" y="138.33" width="1.3" height="17.50" fill="#ff2222"/>
<path d="M654.67 144.17V167.50" stroke="#00a000" stroke-width="0.75" stroke-opacity="0.75"/>
<rect x="653.77" y="145.00" width="1.8" height="11.67" fill="#00a000"/>
<path d="M657.67 144.67V164.17" stroke="#ff2222" stroke-width="0.75" stroke-opacity="0.75"/>
<rect x="657.02" y="145.33" width="1.3" height="10.50" fill="#ff2222"/>
<path d="M660.50 142.50V160.00" stroke="#00a000" stroke-width="0.75" stroke-opacity="0.75"/>
<rect x="659.60" y="146.67" width="1.8" height="10.83" fill="#00a000"/>
<path d="M663.50 146.67V170.00" stroke="#ff2222" stroke-width="0.75" stroke-opacity="0.75"/>
<rect x="662.85" y="148.00" width="1.3" height="17.00" fill="#ff2222"/>
<path d="M666.50 160.83V177.50" stroke="#ff2222" stroke-width="0.75" stroke-opacity="0.75"/>
<rect x="665.85" y="161.67" width="1.3" height="10.00" fill="#ff2222"/>
<path d="M669.50 161.67V180.83" stroke="#ff2222" stroke-width="0.75" stroke-opacity="0.75"/>
<rect x="668.85" y="171.67" width="1.3" height="5.00" fill="#ff2222"/>
<path d="M672.50 165.83V182.50" stroke="#00a000" stroke-width="0.75" stroke-opacity="0.75"/>
<rect x="671.60" y="166.67" width="1.8" height="10.83" fill="#00a000"/>
<path d="M675.33 159.17V182.50" stroke="#ff2222" stroke-width="0.75" stroke-opacity="0.75"/>
<rect x="674.68" y="165.83" width="1.3" height="7.50" fill="#ff2222"/>
<path d="M678.33 170.00V179.17" stroke="#ff2222" stroke-width="0.75" stroke-opacity="0.75"/>
<rect x="677.68" y="172.50" width="1.3" height="5.00" fill="#ff2222"/>
<path d="M681.14 177.84V204.87" stroke="#ff2222" stroke-width="0.75" stroke-opacity="0.75"/>
<rect x="680.49" y="178.56" width="1.3" height="25.60" fill="#ff2222"/>
<path d="M684.27 202.03V219.81" stroke="#ff2222" stroke-width="0.75" stroke-opacity="0.75"/>
<rect x="683.62" y="202.74" width="1.3" height="13.51" fill="#ff2222"/>
<path d="M687.40 204.16V218.39" stroke="#ff2222" stroke-width="0.75" stroke-opacity="0.75"/>
<rect x="686.75" y="212.70" width="1.3" height="1.42" fill="#ff2222"/>
<path d="M690.38 202.03V218.39" stroke="#00a000" stroke-width="0.75" stroke-opacity="0.75"/>
<rect x="689.48" y="203.45" width="1.8" height="12.09" fill="#00a000"/>
<path d="M693.51 195.63V212.70" stroke="#00a000" stroke-width="0.75" stroke-opacity="0.75"/>
<rect x="692.61" y="196.34" width="1.8" height="9.25" fill="#00a000"/>
<path d="M696.50 188.51V202.03" stroke="#ff2222" stroke-width="0.75" stroke-opacity="0.75"/>
<rect x="695.85" y="196.34" width="1.3" height="2.13" fill="#ff2222"/>
<path d="M699.49 195.63V209.85" stroke="#ff2222" stroke-width="0.75" stroke-opacity="0.75"/>
<rect x="698.84" y="198.47" width="1.3" height="10.67" fill="#ff2222"/>
<path d="M702.48 209.14V238.30" stroke="#ff2222" stroke-width="0.75" stroke-opacity="0.75"/>
<rect x="701.83" y="209.85" width="1.3" height="23.47" fill="#ff2222"/>
<path d="M705.46 213.41V234.74" stroke="#00a000" stroke-width="0.75" stroke-opacity="0.75"/>
<rect x="704.56" y="214.12" width="1.8" height="19.20" fill="#00a000"/>
<path d="M708.31 197.05V214.83" stroke="#00a000" stroke-width="0.75" stroke-opacity="0.75"/>
<rect x="707.41" y="202.03" width="1.8" height="11.38" fill="#00a000"/>
<path d="M711.29 200.60V207.72" stroke="#00a000" stroke-width="0.75" stroke-opacity="0.75"/>
<rect x="710.39" y="201.32" width="1.8" height="1.42" fill="#00a000"/>
<path d="M714.28 200.60V228.77" stroke="#ff2222" stroke-width="0.75" stroke-opacity="0.75"/>
<rect x="713.63" y="202.03" width="1.3" height="14.22" fill="#ff2222"/>
<path d="M717.27 208.43V218.39" stroke="#ff2222" stroke-width="0.75" stroke-opacity="0.75"/>
<rect x="716.62" y="209.85" width="1.3" height="6.40" fill="#ff2222"/>
<path d="M720.26 207.01V220.52" stroke="#ff2222" stroke-width="0.75" stroke-opacity="0.75"/>
<rect x="719.61" y="212.70" width="1.3" height="7.11" fill="#ff2222"/>
<path d="M723.24 211.27V226.92" stroke="#ff2222" stroke-width="0.75" stroke-opacity="0.75"/>
<rect x="722.59" y="218.39" width="1.3" height="2.84" fill="#ff2222"/>
<path d="M726.09 207.72V224.08" stroke="#00a000" stroke-width="0.75" stroke-opacity="0.75"/>
<rect x="725.19" y="209.85" width="1.8" height="9.96" fill="#00a000"/>
<path d="M729.36 199.89V216.25" stroke="#00a000" stroke-width="0.75" stroke-opacity="0.75"/>
<rect x="728.46" y="202.03" width="1.8" height="8.53" fill="#00a000"/>
<path d="M732.35 189.94V220.52" stroke="#ff2222" stroke-width="0.75" stroke-opacity="0.75"/>
<rect x="731.70" y="202.03" width="1.3" height="13.51" fill="#ff2222"/>
<path d="M735.33 214.83V219.10" stroke="#00a000" stroke-width="0.75" stroke-opacity="0.75"/>
<rect x="734.43" y="215.54" width="1.8" height="2.13" fill="#00a000"/>
<line x1="645.30" y1="118.00" x2="710.60" y2="221.00" stroke="#ff9900" stroke-width="1.2" />
<polyline points="0.0,215.8 6.7,214.2 10.8,209.2 15.0,200.8 19.2,195.0 22.5,194.7 25.5,191.7 28.3,195.8 31.7,205.8 35.8,216.7 40.0,225.0 43.0,228.3 45.8,223.3 50.0,213.3 54.2,202.5 58.3,195.0 64.2,189.2 69.2,183.3 73.3,183.3 78.3,182.0 81.7,184.2 85.0,190.0 90.0,195.8 94.2,204.2 98.3,213.3 102.5,218.7 106.7,215.0 110.0,210.8 113.3,202.5 116.7,197.5 123.3,196.3 126.7,200.0 131.7,206.7 135.8,213.3 140.0,217.5 145.8,219.2 150.0,215.0 155.0,207.5 159.2,200.8 162.5,198.8 166.7,200.3 171.7,206.7 175.0,215.0 179.8,230.0 180.0,231.7 183.3,243.3 186.7,258.3 190.0,268.3 192.5,270.3 196.7,267.5 201.7,262.5 205.8,253.3 210.8,245.8 214.2,238.3 218.3,225.0 220.0,216.7 225.0,198.3 230.0,186.7 236.7,180.0 244.2,174.2 248.3,174.2 251.7,178.3 256.7,188.3 261.7,195.8 266.7,204.2 270.0,209.2 273.3,212.5 276.7,218.3 280.0,230.0 285.0,241.7 286.7,245.8 288.3,250.0 290.8,252.5 295.0,248.3 299.7,240.8 304.2,243.3 308.7,248.0 313.3,247.5 318.3,245.3 323.3,241.7 326.7,237.5 330.8,237.0 335.8,235.0 338.3,241.7 341.7,248.3 346.7,253.3 350.0,255.0 353.3,252.5 356.7,245.8 359.8,245.3 360.0,245.0 363.3,250.0 367.5,257.5 370.8,260.8 375.0,261.7 379.2,256.7 383.3,251.7 386.7,248.7 390.8,250.0 395.0,255.0 399.2,260.8 402.5,263.7 406.7,262.5 411.7,258.3 416.7,254.2 421.7,247.5 426.7,236.7 431.7,226.7 435.8,220.8 440.0,220.3 444.2,218.3 448.3,220.0 452.5,215.8 456.7,208.3 461.7,200.0 466.7,190.0 471.7,184.2 476.7,181.7 481.7,177.5 486.7,175.0 491.7,169.2 495.8,167.5 500.0,168.0 503.3,170.8 506.7,176.7 511.7,182.5 516.7,186.7 521.7,188.3 526.7,189.7 531.7,187.5 535.0,182.5 539.2,175.0 540.0,171.7 543.7,160.0 546.7,151.7 551.7,142.5 556.7,139.2 561.7,136.7 566.7,131.7 571.7,123.3 575.8,115.8 580.0,113.3 584.2,114.7 589.2,116.3 593.3,114.2 597.5,108.3 600.8,107.5 605.8,110.3 609.2,120.0 612.5,133.3 615.8,145.0 619.2,151.7 623.3,156.7 626.7,157.5 630.8,150.8 635.8,148.3 640.0,140.8 644.2,130.8 647.5,129.2 650.8,132.5 655.0,137.5 658.3,144.2 661.7,150.0 665.0,155.8 666.7,156.7 670.8,163.3 675.0,168.3 678.3,175.0 681.3,180.0 682.1,182.1 685.0,190.6 687.8,198.5 690.7,204.2 693.5,207.0 697.1,205.6 699.9,204.9 702.8,208.4 706.3,210.6 709.9,211.7 714.1,211.3 717.7,207.7 720.5,209.1 723.4,212.3 726.9,213.4 731.2,213.4 734.8,213.1" fill="none" stroke="#ff44ff" stroke-width="0.8" stroke-linejoin="round" />
<rect x="0.63" y="376.61" width="1.40" height="3.89" fill="#22c1ff" />
<rect x="3.80" y="375.00" width="1.40" height="5.50" fill="#22c1ff" />
<rect x="6.97" y="373.71" width="1.40" height="6.79" fill="#22c1ff" />
<rect x="9.97" y="371.62" width="1.40" height="8.88" fill="#22c1ff" />
<rect x="12.97" y="370.32" width="1.40" height="10.18" fill="#22c1ff" />
<rect x="15.63" y="369.64" width="1.40" height="10.86" fill="#22c1ff" />
<rect x="18.80" y="370.38" width="1.40" height="10.12" fill="#22c1ff" />
<rect x="21.80" y="370.46" width="1.40" height="10.04" fill="#22c1ff" />
<rect x="24.80" y="370.93" width="1.40" height="9.57" fill="#22c1ff" />
<rect x="27.63" y="374.17" width="1.40" height="6.33" fill="#22c1ff" />
<rect x="30.63" y="377.67" width="1.40" height="2.83" fill="#22c1ff" />
<rect x="33.80" y="380.00" width="1.40" height="0.50" fill="#22c1ff" />
<rect x="36.80" y="380.50" width="1.40" height="0.97" fill="#ffa31a" />
<rect x="39.80" y="380.50" width="1.40" height="1.19" fill="#ffa31a" />
<rect x="42.63" y="380.50" width="1.40" height="0.83" fill="#ffa31a" />
<rect x="45.47" y="380.00" width="1.40" height="0.50" fill="#22c1ff" />
<rect x="48.63" y="377.89" width="1.40" height="2.61" fill="#22c1ff" />
<rect x="51.63" y="375.90" width="1.40" height="4.60" fill="#22c1ff" />
<rect x="54.47" y="374.08" width="1.40" height="6.42" fill="#22c1ff" />
<rect x="57.47" y="372.54" width="1.40" height="7.96" fill="#22c1ff" />
<rect x="60.63" y="372.11" width="1.40" height="8.39" fill="#22c1ff" />
<rect x="63.63" y="371.90" width="1.40" height="8.60" fill="#22c1ff" />
<rect x="66.63" y="372.10" width="1.40" height="8.40" fill="#22c1ff" />
<rect x="69.47" y="372.96" width="1.40" height="7.54" fill="#22c1ff" />
<rect x="72.47" y="374.26" width="1.40" height="6.24" fill="#22c1ff" />
<rect x="75.63" y="374.73" width="1.40" height="5.77" fill="#22c1ff" />
<rect x="78.63" y="375.27" width="1.40" height="5.23" fill="#22c1ff" />
<rect x="81.63" y="378.73" width="1.40" height="1.77" fill="#22c1ff" />
<rect x="84.63" y="380.50" width="1.40" height="0.93" fill="#ffa31a" />
<rect x="87.63" y="380.50" width="1.40" height="3.33" fill="#ffa31a" />
<rect x="90.63" y="380.50" width="1.40" height="4.75" fill="#ffa31a" />
<rect x="93.63" y="380.50" width="1.40" height="6.01" fill="#ffa31a" />
<rect x="96.47" y="380.50" width="1.40" height="6.98" fill="#ffa31a" />
<rect x="99.30" y="380.50" width="1.40" height="7.03" fill="#ffa31a" />
<rect x="102.30" y="380.50" width="1.40" height="5.59" fill="#ffa31a" />
<rect x="105.47" y="380.50" width="1.40" height="3.94" fill="#ffa31a" />
<rect x="108.47" y="380.50" width="1.40" height="2.22" fill="#ffa31a" />
<rect x="111.30" y="380.50" width="1.40" height="0.50" fill="#ffa31a" />
<rect x="114.30" y="379.61" width="1.40" height="0.89" fill="#22c1ff" />
<rect x="117.30" y="379.01" width="1.40" height="1.49" fill="#22c1ff" />
<rect x="120.47" y="379.09" width="1.40" height="1.41" fill="#22c1ff" />
<rect x="123.30" y="379.46" width="1.40" height="1.04" fill="#22c1ff" />
<rect x="126.30" y="380.00" width="1.40" height="0.50" fill="#22c1ff" />
<rect x="129.30" y="380.50" width="1.40" height="0.61" fill="#ffa31a" />
<rect x="131.97" y="380.50" width="1.40" height="1.41" fill="#ffa31a" />
<rect x="135.13" y="380.50" width="1.40" height="2.67" fill="#ffa31a" />
<rect x="138.13" y="380.50" width="1.40" height="3.33" fill="#ffa31a" />
<rect x="141.13" y="380.50" width="1.40" height="3.25" fill="#ffa31a" />
<rect x="143.97" y="380.50" width="1.40" height="2.53" fill="#ffa31a" />
<rect x="146.97" y="380.50" width="1.40" height="2.08" fill="#ffa31a" />
<rect x="150.13" y="380.50" width="1.40" height="0.61" fill="#ffa31a" />
<rect x="152.97" y="379.80" width="1.40" height="0.70" fill="#22c1ff" />
<rect x="155.97" y="378.06" width="1.40" height="2.44" fill="#22c1ff" />
<rect x="158.97" y="376.44" width="1.40" height="4.06" fill="#22c1ff" />
<rect x="161.80" y="377.08" width="1.40" height="3.42" fill="#22c1ff" />
<rect x="164.97" y="378.90" width="1.40" height="1.60" fill="#22c1ff" />
<rect x="167.97" y="380.50" width="1.40" height="0.50" fill="#ffa31a" />
<rect x="170.97" y="380.00" width="1.40" height="0.50" fill="#22c1ff" />
<rect x="173.97" y="380.50" width="1.40" height="0.42" fill="#ffa31a" />
<rect x="176.97" y="380.50" width="1.40" height="2.92" fill="#ffa31a" />
<rect x="179.63" y="380.50" width="1.40" height="7.89" fill="#ffa31a" />
<rect x="182.63" y="380.50" width="1.40" height="10.22" fill="#ffa31a" />
<rect x="185.63" y="380.50" width="1.40" height="12.25" fill="#ffa31a" />
<rect x="188.80" y="380.50" width="1.40" height="11.79" fill="#ffa31a" />
<rect x="191.80" y="380.50" width="1.40" height="10.00" fill="#ffa31a" />
<rect x="194.80" y="380.50" width="1.40" height="8.03" fill="#ffa31a" />
<rect x="197.63" y="380.50" width="1.40" height="6.33" fill="#ffa31a" />
<rect x="200.63" y="380.50" width="1.40" height="3.82" fill="#ffa31a" />
<rect x="203.63" y="380.50" width="1.40" height="0.50" fill="#ffa31a" />
<rect x="206.63" y="377.44" width="1.40" height="3.06" fill="#22c1ff" />
<rect x="209.63" y="375.60" width="1.40" height="4.90" fill="#22c1ff" />
<rect x="212.63" y="374.00" width="1.40" height="6.50" fill="#22c1ff" />
<rect x="215.63" y="371.33" width="1.40" height="9.17" fill="#22c1ff" />
<rect x="218.63" y="367.08" width="1.40" height="13.42" fill="#22c1ff" />
<rect x="221.63" y="363.51" width="1.40" height="16.99" fill="#22c1ff" />
<rect x="224.63" y="363.31" width="1.40" height="17.19" fill="#22c1ff" />
<rect x="227.63" y="364.11" width="1.40" height="16.39" fill="#22c1ff" />
<rect x="230.63" y="364.84" width="1.40" height="15.66" fill="#22c1ff" />
<rect x="233.63" y="365.28" width="1.40" height="15.22" fill="#22c1ff" />
<rect x="236.63" y="365.89" width="1.40" height="14.61" fill="#22c1ff" />
<rect x="239.63" y="367.41" width="1.40" height="13.09" fill="#22c1ff" />
<rect x="242.63" y="368.61" width="1.40" height="11.89" fill="#22c1ff" />
<rect x="245.47" y="371.49" width="1.40" height="9.01" fill="#22c1ff" />
<rect x="248.47" y="374.67" width="1.40" height="5.83" fill="#22c1ff" />
<rect x="251.30" y="377.99" width="1.40" height="2.51" fill="#22c1ff" />
<rect x="254.30" y="380.50" width="1.40" height="1.33" fill="#ffa31a" />
<rect x="257.30" y="380.50" width="1.40" height="3.33" fill="#ffa31a" />
<rect x="260.30" y="380.50" width="1.40" height="4.10" fill="#ffa31a" />
<rect x="263.13" y="380.50" width="1.40" height="5.79" fill="#ffa31a" />
<rect x="265.97" y="380.50" width="1.40" height="7.22" fill="#ffa31a" />
<rect x="269.30" y="380.50" width="1.40" height="8.00" fill="#ffa31a" />
<rect x="272.30" y="380.50" width="1.40" height="8.30" fill="#ffa31a" />
<rect x="275.13" y="380.50" width="1.40" height="7.83" fill="#ffa31a" />
<rect x="277.97" y="380.50" width="1.40" height="9.50" fill="#ffa31a" />
<rect x="280.97" y="380.50" width="1.40" height="11.89" fill="#ffa31a" />
<rect x="284.30" y="380.50" width="1.40" height="13.33" fill="#ffa31a" />
<rect x="287.30" y="380.50" width="1.40" height="12.77" fill="#ffa31a" />
<rect x="290.30" y="380.50" width="1.40" height="9.75" fill="#ffa31a" />
<rect x="293.30" y="380.50" width="1.40" height="7.12" fill="#ffa31a" />
<rect x="295.97" y="380.50" width="1.40" height="5.00" fill="#ffa31a" />
<rect x="298.97" y="380.50" width="1.40" height="4.50" fill="#ffa31a" />
<rect x="302.13" y="380.50" width="1.40" height="3.97" fill="#ffa31a" />
<rect x="305.13" y="380.50" width="1.40" height="3.33" fill="#ffa31a" />
<rect x="307.97" y="380.50" width="1.40" height="2.14" fill="#ffa31a" />
<rect x="310.97" y="380.50" width="1.40" height="0.83" fill="#ffa31a" />
<rect x="313.97" y="379.89" width="1.40" height="0.61" fill="#22c1ff" />
<rect x="316.97" y="379.19" width="1.40" height="1.31" fill="#22c1ff" />
<rect x="319.80" y="378.55" width="1.40" height="1.95" fill="#22c1ff" />
<rect x="322.80" y="376.85" width="1.40" height="3.65" fill="#22c1ff" />
<rect x="325.80" y="376.15" width="1.40" height="4.35" fill="#22c1ff" />
<rect x="328.80" y="376.45" width="1.40" height="4.05" fill="#22c1ff" />
<rect x="331.97" y="376.68" width="1.40" height="3.82" fill="#22c1ff" />
<rect x="334.97" y="377.33" width="1.40" height="3.17" fill="#22c1ff" />
<rect x="337.63" y="379.33" width="1.40" height="1.17" fill="#22c1ff" />
<rect x="340.63" y="380.50" width="1.40" height="1.57" fill="#ffa31a" />
<rect x="343.97" y="380.50" width="1.40" height="0.78" fill="#ffa31a" />
<rect x="346.97" y="380.00" width="1.40" height="0.50" fill="#22c1ff" />
<rect x="349.80" y="379.55" width="1.40" height="0.95" fill="#22c1ff" />
<rect x="352.63" y="378.89" width="1.40" height="1.61" fill="#22c1ff" />
<rect x="355.63" y="378.59" width="1.40" height="1.91" fill="#22c1ff" />
<rect x="358.63" y="378.80" width="1.40" height="1.70" fill="#22c1ff" />
<rect x="361.47" y="379.57" width="1.40" height="0.93" fill="#22c1ff" />
<rect x="364.47" y="380.50" width="1.40" height="0.50" fill="#ffa31a" />
<rect x="367.63" y="380.50" width="1.40" height="1.03" fill="#ffa31a" />
<rect x="370.63" y="380.50" width="1.40" height="1.80" fill="#ffa31a" />
<rect x="373.63" y="380.50" width="1.40" height="0.50" fill="#ffa31a" />
<rect x="376.63" y="379.31" width="1.40" height="1.19" fill="#22c1ff" />
<rect x="379.63" y="378.27" width="1.40" height="2.23" fill="#22c1ff" />
<rect x="382.63" y="377.68" width="1.40" height="2.82" fill="#22c1ff" />
<rect x="385.47" y="377.21" width="1.40" height="3.29" fill="#22c1ff" />
<rect x="388.47" y="378.31" width="1.40" height="2.19" fill="#22c1ff" />
<rect x="391.63" y="379.13" width="1.40" height="1.37" fill="#22c1ff" />
<rect x="394.63" y="379.73" width="1.40" height="0.77" fill="#22c1ff" />
<rect x="397.63" y="380.00" width="1.40" height="0.50" fill="#22c1ff" />
<rect x="400.47" y="380.50" width="1.40" height="0.50" fill="#ffa31a" />
<rect x="403.47" y="380.00" width="1.40" height="0.50" fill="#22c1ff" />
<rect x="406.47" y="379.73" width="1.40" height="0.77" fill="#22c1ff" />
<rect x="409.30" y="379.17" width="1.40" height="1.33" fill="#22c1ff" />
<rect x="412.30" y="378.47" width="1.40" height="2.03" fill="#22c1ff" />
<rect x="415.47" y="377.69" width="1.40" height="2.81" fill="#22c1ff" />
<rect x="418.47" y="376.89" width="1.40" height="3.61" fill="#22c1ff" />
<rect x="421.47" y="376.52" width="1.40" height="3.98" fill="#22c1ff" />
<rect x="424.30" y="376.33" width="1.40" height="4.17" fill="#22c1ff" />
<rect x="427.30" y="375.33" width="1.40" height="5.17" fill="#22c1ff" />
<rect x="430.47" y="373.89" width="1.40" height="6.61" fill="#22c1ff" />
<rect x="433.47" y="373.28" width="1.40" height="7.22" fill="#22c1ff" />
<rect x="436.13" y="373.58" width="1.40" height="6.92" fill="#22c1ff" />
<rect x="439.13" y="375.08" width="1.40" height="5.42" fill="#22c1ff" />
<rect x="442.13" y="375.36" width="1.40" height="5.14" fill="#22c1ff" />
<rect x="445.30" y="375.73" width="1.40" height="4.77" fill="#22c1ff" />
<rect x="448.47" y="376.47" width="1.40" height="4.03" fill="#22c1ff" />
<rect x="451.30" y="376.03" width="1.40" height="4.47" fill="#22c1ff" />
<rect x="454.30" y="375.00" width="1.40" height="5.50" fill="#22c1ff" />
<rect x="457.30" y="374.30" width="1.40" height="6.20" fill="#22c1ff" />
<rect x="460.13" y="374.58" width="1.40" height="5.92" fill="#22c1ff" />
<rect x="463.30" y="374.67" width="1.40" height="5.83" fill="#22c1ff" />
<rect x="466.13" y="374.64" width="1.40" height="5.86" fill="#22c1ff" />
<rect x="469.30" y="374.11" width="1.40" height="6.39" fill="#22c1ff" />
<rect x="472.13" y="374.53" width="1.40" height="5.97" fill="#22c1ff" />
<rect x="475.30" y="376.27" width="1.40" height="4.23" fill="#22c1ff" />
<rect x="478.30" y="376.71" width="1.40" height="3.79" fill="#22c1ff" />
<rect x="481.30" y="376.78" width="1.40" height="3.72" fill="#22c1ff" />
<rect x="483.97" y="377.25" width="1.40" height="3.25" fill="#22c1ff" />
<rect x="486.97" y="377.84" width="1.40" height="2.66" fill="#22c1ff" />
<rect x="490.30" y="377.83" width="1.40" height="2.67" fill="#22c1ff" />
<rect x="492.97" y="378.59" width="1.40" height="1.91" fill="#22c1ff" />
<rect x="495.97" y="379.80" width="1.40" height="0.70" fill="#22c1ff" />
<rect x="498.97" y="380.50" width="1.40" height="0.84" fill="#ffa31a" />
<rect x="501.80" y="380.50" width="1.40" height="2.98" fill="#ffa31a" />
<rect x="504.80" y="380.50" width="1.40" height="4.98" fill="#ffa31a" />
<rect x="507.80" y="380.50" width="1.40" height="6.14" fill="#ffa31a" />
<rect x="510.80" y="380.50" width="1.40" height="6.39" fill="#ffa31a" />
<rect x="513.80" y="380.50" width="1.40" height="6.39" fill="#ffa31a" />
<rect x="516.80" y="380.50" width="1.40" height="6.56" fill="#ffa31a" />
<rect x="519.80" y="380.50" width="1.40" height="6.69" fill="#ffa31a" />
<rect x="522.97" y="380.50" width="1.40" height="6.53" fill="#ffa31a" />
<rect x="525.97" y="380.50" width="1.40" height="5.93" fill="#ffa31a" />
<rect x="528.97" y="380.50" width="1.40" height="4.92" fill="#ffa31a" />
<rect x="531.80" y="380.50" width="1.40" height="3.69" fill="#ffa31a" />
<rect x="534.97" y="380.50" width="1.40" height="1.98" fill="#ffa31a" />
<rect x="537.97" y="380.00" width="1.40" height="0.50" fill="#22c1ff" />
<rect x="540.63" y="378.20" width="1.40" height="2.30" fill="#22c1ff" />
<rect x="543.47" y="375.98" width="1.40" height="4.52" fill="#22c1ff" />
<rect x="546.47" y="374.42" width="1.40" height="6.08" fill="#22c1ff" />
<rect x="549.63" y="373.74" width="1.40" height="6.76" fill="#22c1ff" />
<rect x="552.63" y="374.00" width="1.40" height="6.50" fill="#22c1ff" />
<rect x="555.63" y="374.81" width="1.40" height="5.69" fill="#22c1ff" />
<rect x="558.63" y="374.98" width="1.40" height="5.52" fill="#22c1ff" />
<rect x="561.47" y="375.14" width="1.40" height="5.36" fill="#22c1ff" />
<rect x="564.63" y="376.04" width="1.40" height="4.46" fill="#22c1ff" />
<rect x="567.63" y="375.28" width="1.40" height="5.22" fill="#22c1ff" />
<rect x="570.47" y="374.57" width="1.40" height="5.93" fill="#22c1ff" />
<rect x="573.47" y="374.33" width="1.40" height="6.17" fill="#22c1ff" />
<rect x="576.30" y="375.05" width="1.40" height="5.45" fill="#22c1ff" />
<rect x="579.30" y="376.88" width="1.40" height="3.62" fill="#22c1ff" />
<rect x="582.63" y="379.12" width="1.40" height="1.38" fill="#22c1ff" />
<rect x="585.47" y="380.04" width="1.40" height="0.46" fill="#22c1ff" />
<rect x="588.30" y="380.00" width="1.40" height="0.50" fill="#22c1ff" />
<rect x="591.13" y="380.50" width="1.40" height="0.62" fill="#ffa31a" />
<rect x="594.47" y="380.10" width="1.40" height="0.40" fill="#22c1ff" />
<rect x="597.30" y="380.00" width="1.40" height="0.50" fill="#22c1ff" />
<rect x="600.30" y="380.50" width="1.40" height="1.22" fill="#ffa31a" />
<rect x="603.13" y="380.50" width="1.40" height="3.01" fill="#ffa31a" />
<rect x="606.13" y="380.50" width="1.40" height="5.38" fill="#ffa31a" />
<rect x="609.30" y="380.50" width="1.40" height="8.13" fill="#ffa31a" />
<rect x="612.30" y="380.50" width="1.40" height="10.88" fill="#ffa31a" />
<rect x="615.30" y="380.50" width="1.40" height="12.47" fill="#ffa31a" />
<rect x="618.13" y="380.50" width="1.40" height="11.90" fill="#ffa31a" />
<rect x="620.97" y="380.50" width="1.40" height="11.97" fill="#ffa31a" />
<rect x="624.30" y="380.50" width="1.40" height="12.04" fill="#ffa31a" />
<rect x="627.30" y="380.50" width="1.40" height="11.13" fill="#ffa31a" />
<rect x="630.30" y="380.50" width="1.40" height="7.89" fill="#ffa31a" />
<rect x="632.97" y="380.50" width="1.40" height="5.49" fill="#ffa31a" />
<rect x="635.97" y="380.50" width="1.40" height="3.20" fill="#ffa31a" />
<rect x="639.30" y="380.50" width="1.40" height="1.33" fill="#ffa31a" />
<rect x="642.13" y="379.51" width="1.40" height="0.99" fill="#22c1ff" />
<rect x="644.80" y="377.83" width="1.40" height="2.67" fill="#22c1ff" />
<rect x="647.80" y="379.01" width="1.40" height="1.49" fill="#22c1ff" />
<rect x="650.63" y="380.50" width="1.40" height="1.23" fill="#ffa31a" />
<rect x="653.97" y="380.50" width="1.40" height="2.60" fill="#ffa31a" />
<rect x="656.97" y="380.50" width="1.40" height="3.02" fill="#ffa31a" />
<rect x="659.80" y="380.50" width="1.40" height="3.68" fill="#ffa31a" />
<rect x="662.80" y="380.50" width="1.40" height="5.07" fill="#ffa31a" />
<rect x="665.80" y="380.50" width="1.40" height="6.37" fill="#ffa31a" />
<rect x="668.80" y="380.50" width="1.40" height="6.83" fill="#ffa31a" />
<rect x="671.80" y="380.50" width="1.40" height="6.89" fill="#ffa31a" />
<rect x="674.63" y="380.50" width="1.40" height="7.28" fill="#ffa31a" />
<rect x="677.63" y="380.50" width="1.40" height="8.67" fill="#ffa31a" />
<rect x="680.44" y="380.50" width="1.40" height="10.16" fill="#ffa31a" />
<rect x="683.57" y="380.50" width="1.40" height="11.52" fill="#ffa31a" />
<rect x="686.70" y="380.50" width="1.40" height="11.07" fill="#ffa31a" />
<rect x="689.68" y="380.50" width="1.40" height="9.45" fill="#ffa31a" />
<rect x="692.81" y="380.50" width="1.40" height="7.65" fill="#ffa31a" />
<rect x="695.80" y="380.50" width="1.40" height="6.28" fill="#ffa31a" />
<rect x="698.79" y="380.50" width="1.40" height="5.93" fill="#ffa31a" />
<rect x="701.78" y="380.50" width="1.40" height="6.44" fill="#ffa31a" />
<rect x="704.76" y="380.50" width="1.40" height="5.08" fill="#ffa31a" />
<rect x="707.61" y="380.50" width="1.40" height="2.50" fill="#ffa31a" />
<rect x="710.59" y="380.50" width="1.40" height="0.50" fill="#ffa31a" />
<rect x="713.58" y="380.01" width="1.40" height="0.49" fill="#22c1ff" />
<rect x="716.57" y="379.84" width="1.40" height="0.66" fill="#22c1ff" />
<rect x="719.56" y="380.00" width="1.40" height="0.50" fill="#22c1ff" />
<rect x="722.54" y="379.95" width="1.40" height="0.55" fill="#22c1ff" />
<rect x="725.39" y="378.87" width="1.40" height="1.63" fill="#22c1ff" />
<rect x="728.66" y="377.62" width="1.40" height="2.88" fill="#22c1ff" />
<rect x="731.65" y="377.49" width="1.40" height="3.01" fill="#22c1ff" />
<rect x="734.63" y="377.94" width="1.40" height="2.56" fill="#22c1ff" />
<polygon points="0.0,409.2 0.5,408.8 1.0,408.4 1.5,408.0 2.0,407.7 2.5,407.3 3.0,406.9 3.5,406.5 4.0,406.0 4.5,405.5 5.0,405.0 5.5,404.5 6.0,404.0 6.5,403.5 7.0,403.0 7.5,402.5 8.0,401.8 8.5,401.1 9.0,400.4 9.5,399.7 10.0,399.0 10.5,398.3 11.0,397.6 11.5,396.9 12.0,396.3 12.5,395.7 13.0,395.1 13.5,394.5 14.0,393.9 14.5,393.3 15.0,392.7 15.5,392.1 16.0,391.6 16.5,391.3 17.0,391.0 17.5,390.7 18.0,390.4 18.5,390.1 19.0,389.8 19.5,389.5 20.0,389.2 20.5,388.7 21.0,388.3 21.5,387.9 22.0,387.5 22.5,387.0 23.0,386.6 23.5,386.2 24.0,386.0 24.5,385.7 25.0,385.4 25.5,385.1 26.0,384.9 26.5,384.8 27.0,385.3 27.5,385.8 28.0,386.3 28.5,386.8 29.0,387.3 29.5,387.8 30.0,388.3 30.5,388.8 31.0,389.3 31.5,389.8 32.0,390.3 32.5,390.8 33.0,391.3 33.5,391.8 34.0,392.1 34.5,392.4 35.0,392.7 35.0,392.8 34.5,392.7 34.0,392.6 33.5,392.5 33.0,392.5 32.5,392.5 32.0,392.5 31.5,392.5 31.0,392.5 30.5,392.5 30.0,392.5 29.5,392.5 29.0,392.6 28.5,392.9 28.0,393.2 27.5,393.5 27.0,393.8 26.5,394.1 26.0,394.4 25.5,394.7 25.0,395.0 24.5,395.4 24.0,395.8 23.5,396.2 23.0,396.7 22.5,397.1 22.0,397.5 21.5,397.9 21.0,398.3 20.5,398.8 20.0,399.2 19.5,399.6 19.0,400.0 18.5,400.4 18.0,400.8 17.5,401.2 17.0,401.7 16.5,402.1 16.0,402.5 15.5,402.9 15.0,403.3 14.5,403.8 14.0,404.2 13.5,404.6 13.0,405.0 12.5,405.4 12.0,405.8 11.5,406.2 11.0,406.7 10.5,407.1 10.0,407.5 9.5,407.8 9.0,408.2 8.5,408.5 8.0,408.8 7.5,409.2 7.0,409.5 6.5,409.8 6.0,410.2 5.5,410.5 5.0,410.8 4.5,411.0 4.0,411.2 3.5,411.3 3.0,411.5 2.5,411.7 2.0,411.8 1.5,412.0 1.0,412.2 0.5,412.3 0.0,412.5" fill="#787878" fill-opacity="0.78"/>
<polygon points="46.0,392.9 46.5,392.6 47.0,392.1 47.5,391.5 48.0,390.9 48.5,390.4 49.0,389.8 49.5,389.2 50.0,388.6 50.5,388.0 51.0,387.4 51.5,386.9 52.0,386.3 52.5,385.7 53.0,385.1 53.5,384.6 54.0,384.0 54.5,383.4 55.0,382.9 55.5,382.3 56.0,381.7 56.5,381.1 57.0,380.6 57.5,380.0 58.0,379.7 58.5,379.4 59.0,379.1 59.5,378.9 60.0,378.6 60.5,378.3 61.0,378.0 61.5,377.7 62.0,377.4 62.5,377.1 63.0,376.9 63.5,376.6 64.0,376.2 64.5,375.9 65.0,375.6 65.5,375.2 66.0,374.9 66.5,374.6 67.0,374.2 67.5,373.9 68.0,373.6 68.5,373.3 69.0,373.2 69.5,373.1 70.0,373.1 70.5,373.0 71.0,372.9 71.5,372.8 72.0,372.7 72.5,372.6 73.0,372.6 73.5,372.5 74.0,372.4 74.5,372.3 75.0,372.2 75.5,372.1 76.0,372.0 76.5,371.9 77.0,371.8 77.5,371.7 78.0,371.6 78.5,371.5 79.0,371.4 79.5,371.6 80.0,372.0 80.5,372.5 81.0,372.9 81.5,373.3 82.0,373.7 82.5,374.2 83.0,374.6 83.5,375.0 84.0,375.4 84.0,375.5 83.5,375.5 83.0,375.6 82.5,375.8 82.0,375.9 81.5,376.1 81.0,376.2 80.5,376.4 80.0,376.5 79.5,376.6 79.0,376.8 78.5,376.9 78.0,377.1 77.5,377.3 77.0,377.4 76.5,377.6 76.0,377.8 75.5,377.9 75.0,378.1 74.5,378.3 74.0,378.4 73.5,378.6 73.0,378.9 72.5,379.2 72.0,379.5 71.5,379.8 71.0,380.1 70.5,380.4 70.0,380.7 69.5,381.0 69.0,381.3 68.5,381.6 68.0,381.9 67.5,382.3 67.0,382.6 66.5,383.0 66.0,383.4 65.5,383.7 65.0,384.1 64.5,384.5 64.0,384.8 63.5,385.2 63.0,385.5 62.5,385.7 62.0,385.9 61.5,386.1 61.0,386.3 60.5,386.6 60.0,386.8 59.5,387.0 59.0,387.2 58.5,387.4 58.0,387.7 57.5,387.9 57.0,388.2 56.5,388.4 56.0,388.7 55.5,388.9 55.0,389.2 54.5,389.4 54.0,389.7 53.5,389.9 53.0,390.2 52.5,390.4 52.0,390.7 51.5,390.9 51.0,391.2 50.5,391.4 50.0,391.7 49.5,391.9 49.0,392.2 48.5,392.4 48.0,392.6 47.5,392.7 47.0,392.8 46.5,392.9 46.0,393.0" fill="#787878" fill-opacity="0.78"/>
<polygon points="112.5,384.0 113.0,383.6 113.5,383.3 114.0,383.1 114.5,382.9 115.0,382.8 115.5,382.6 116.0,382.4 116.5,382.3 117.0,382.1 117.5,381.9 118.0,381.8 118.5,381.7 119.0,381.6 119.5,381.6 120.0,381.6 120.5,381.5 121.0,381.5 121.5,381.5 122.0,381.4 122.5,381.4 123.0,381.4 123.5,381.4 124.0,381.6 124.5,381.7 125.0,381.9 125.5,382.1 126.0,382.2 126.5,382.4 127.0,382.6 127.5,382.7 128.0,382.9 128.0,383.0 127.5,382.9 127.0,382.8 126.5,382.8 126.0,382.7 125.5,382.6 125.0,382.5 124.5,382.6 124.0,382.6 123.5,382.6 123.0,382.7 122.5,382.8 122.0,382.8 121.5,382.9 121.0,382.9 120.5,382.9 120.0,383.0 119.5,383.1 119.0,383.1 118.5,383.2 118.0,383.3 117.5,383.3 117.0,383.4 116.5,383.5 116.0,383.5 115.5,383.6 115.0,383.7 114.5,383.8 114.0,383.9 113.5,384.0 113.0,384.1 112.5,384.2" fill="#787878" fill-opacity="0.78"/>
<polygon points="153.0,385.4 153.5,385.0 154.0,384.6 154.5,384.2 155.0,383.8 155.5,383.4 156.0,383.0 156.5,382.6 157.0,382.2 157.5,381.9 158.0,381.5 158.5,381.1 159.0,380.7 159.5,380.3 160.0,379.9 160.5,379.7 161.0,379.9 161.5,380.0 162.0,380.2 162.5,380.3 163.0,380.5 163.5,380.6 164.0,380.8 164.5,381.0 165.0,381.3 165.5,381.6 166.0,381.9 166.5,382.2 167.0,382.5 167.5,382.8 168.0,383.1 168.0,383.3 167.5,383.3 167.0,383.3 166.5,383.3 166.0,383.3 165.5,383.3 165.0,383.3 164.5,383.4 164.0,383.5 163.5,383.6 163.0,383.7 162.5,383.8 162.0,383.8 161.5,383.9 161.0,384.0 160.5,384.1 160.0,384.2 159.5,384.3 159.0,384.4 158.5,384.5 158.0,384.6 157.5,384.8 157.0,384.9 156.5,385.0 156.0,385.1 155.5,385.2 155.0,385.3 154.5,385.4 154.0,385.5 153.5,385.6 153.0,385.7" fill="#787878" fill-opacity="0.78"/>
<polygon points="171.5,383.5 172.0,383.6 172.5,383.6 173.0,383.6 173.5,383.8 173.5,383.9 173.0,383.8 172.5,383.8 172.0,383.7 171.5,383.6" fill="#787878" fill-opacity="0.78"/>
<polygon points="204.5,403.5 205.0,402.9 205.5,402.3 206.0,401.7 206.5,401.0 207.0,400.6 207.5,400.2 208.0,399.8 208.5,399.4 209.0,399.0 209.5,398.6 210.0,398.2 210.5,397.8 211.0,397.3 211.5,396.7 212.0,396.1 212.5,395.5 213.0,394.9 213.5,394.3 214.0,393.7 214.5,393.1 215.0,392.5 215.5,391.4 216.0,390.2 216.5,389.1 217.0,388.0 217.5,386.9 218.0,385.8 218.5,384.5 219.0,383.2 219.5,381.8 220.0,380.4 220.5,379.0 221.0,377.7 221.5,376.3 222.0,375.4 222.5,374.7 223.0,374.0 223.5,373.3 224.0,372.6 224.5,371.9 225.0,371.2 225.5,370.5 226.0,369.8 226.5,369.3 227.0,368.8 227.5,368.3 228.0,367.8 228.5,367.3 229.0,366.8 229.5,366.3 230.0,365.8 230.5,365.2 231.0,364.6 231.5,364.0 232.0,363.4 232.5,362.8 233.0,362.2 233.5,361.6 234.0,361.0 234.5,360.5 235.0,360.0 235.5,359.5 236.0,359.0 236.5,358.5 237.0,358.0 237.5,357.5 238.0,357.0 238.5,356.6 239.0,356.4 239.5,356.2 240.0,355.9 240.5,355.7 241.0,355.5 241.5,355.3 242.0,355.1 242.5,354.9 243.0,354.6 243.5,354.6 244.0,354.7 244.5,354.9 245.0,355.0 245.5,355.2 246.0,355.4 246.5,355.5 247.0,355.7 247.5,355.8 248.0,356.2 248.5,356.6 249.0,357.0 249.5,357.3 250.0,357.7 250.5,358.1 251.0,358.5 251.5,359.2 252.0,359.8 252.5,360.4 253.0,361.0 253.5,361.7 253.5,362.1 253.0,362.2 252.5,362.2 252.0,362.3 251.5,362.4 251.0,362.4 250.5,362.4 250.0,362.5 249.5,362.8 249.0,363.0 248.5,363.2 248.0,363.5 247.5,363.8 247.0,364.0 246.5,364.2 246.0,364.5 245.5,364.8 245.0,365.0 244.5,365.4 244.0,365.8 243.5,366.2 243.0,366.7 242.5,367.1 242.0,367.5 241.5,367.9 241.0,368.3 240.5,368.8 240.0,369.2 239.5,369.8 239.0,370.3 238.5,370.9 238.0,371.5 237.5,372.1 237.0,372.7 236.5,373.2 236.0,373.8 235.5,374.4 235.0,375.0 234.5,375.7 234.0,376.3 233.5,377.0 233.0,377.7 232.5,378.3 232.0,379.0 231.5,379.7 231.0,380.3 230.5,381.0 230.0,381.7 229.5,382.3 229.0,383.0 228.5,383.7 228.0,384.3 227.5,385.0 227.0,385.7 226.5,386.3 226.0,387.0 225.5,387.7 225.0,388.3 224.5,389.0 224.0,389.7 223.5,390.3 223.0,391.0 222.5,391.7 222.0,392.3 221.5,393.0 221.0,393.7 220.5,394.3 220.0,395.0 219.5,395.5 219.0,396.0 218.5,396.5 218.0,397.0 217.5,397.5 217.0,398.0 216.5,398.5 216.0,399.0 215.5,399.5 215.0,400.0 214.5,400.3 214.0,400.6 213.5,400.9 213.0,401.2 212.5,401.5 212.0,401.8 211.5,402.1 211.0,402.4 210.5,402.7 210.0,403.0 209.5,403.1 209.0,403.1 208.5,403.2 208.0,403.3 207.5,403.3 207.0,403.4 206.5,403.5 206.0,403.5 205.5,403.6 205.0,403.7 204.5,403.6" fill="#787878" fill-opacity="0.78"/>
<polygon points="313.5,397.5 314.0,397.2 314.5,397.0 315.0,396.7 315.5,396.5 316.0,396.3 316.5,396.1 317.0,396.0 317.5,395.8 318.0,395.6 318.5,395.5 319.0,395.3 319.5,395.2 320.0,395.0 320.5,394.6 321.0,394.2 321.5,393.8 322.0,393.3 322.5,392.9 323.0,392.5 323.5,392.1 324.0,391.7 324.5,391.2 325.0,390.8 325.5,390.7 326.0,390.6 326.5,390.5 327.0,390.4 327.5,390.2 328.0,390.1 328.5,390.0 329.0,389.9 329.5,389.8 330.0,389.7 330.5,389.5 331.0,389.4 331.5,389.3 332.0,389.1 332.5,389.0 333.0,388.9 333.5,388.7 334.0,388.6 334.5,388.5 335.0,388.3 335.5,388.7 336.0,389.1 336.5,389.5 337.0,389.8 337.5,390.2 338.0,390.6 338.5,391.0 339.0,391.5 339.0,392.0 338.5,392.0 338.0,392.0 337.5,392.0 337.0,392.0 336.5,392.0 336.0,392.0 335.5,392.0 335.0,392.0 334.5,392.2 334.0,392.3 333.5,392.5 333.0,392.7 332.5,392.8 332.0,393.0 331.5,393.2 331.0,393.3 330.5,393.5 330.0,393.7 329.5,393.8 329.0,394.0 328.5,394.2 328.0,394.3 327.5,394.5 327.0,394.7 326.5,394.8 326.0,395.0 325.5,395.2 325.0,395.3 324.5,395.5 324.0,395.6 323.5,395.7 323.0,395.9 322.5,396.0 322.0,396.1 321.5,396.3 321.0,396.4 320.5,396.5 320.0,396.7 319.5,396.8 319.0,396.8 318.5,396.9 318.0,397.0 317.5,397.1 317.0,397.2 316.5,397.2 316.0,397.3 315.5,397.4 315.0,397.5 314.5,397.5 314.0,397.5 313.5,397.5" fill="#787878" fill-opacity="0.78"/>
<polygon points="347.5,392.7 348.0,392.5 348.5,392.3 349.0,392.1 349.5,391.9 350.0,391.7 350.5,391.5 351.0,391.3 351.5,391.1 352.0,390.9 352.5,390.7 353.0,390.5 353.5,390.3 354.0,390.1 354.5,389.9 355.0,389.7 355.5,389.6 356.0,389.6 356.5,389.5 357.0,389.5 357.5,389.4 358.0,389.4 358.5,389.3 359.0,389.3 359.5,389.2 360.0,389.2 360.5,389.5 361.0,389.7 361.5,390.0 362.0,390.2 362.5,390.4 363.0,390.7 363.5,390.9 364.0,391.2 364.5,391.4 364.5,391.6 364.0,391.5 363.5,391.4 363.0,391.3 362.5,391.3 362.0,391.2 361.5,391.1 361.0,391.0 360.5,390.9 360.0,390.9 359.5,390.9 359.0,391.0 358.5,391.1 358.0,391.1 357.5,391.2 357.0,391.3 356.5,391.4 356.0,391.5 355.5,391.6 355.0,391.7 354.5,391.8 354.0,391.8 353.5,391.9 353.0,392.0 352.5,392.1 352.0,392.2 351.5,392.2 351.0,392.3 350.5,392.4 350.0,392.5 349.5,392.6 349.0,392.6 348.5,392.6 348.0,392.7 347.5,392.8" fill="#787878" fill-opacity="0.78"/>
<polygon points="374.5,392.0 375.0,391.7 375.5,391.4 376.0,391.1 376.5,390.8 377.0,390.5 377.5,390.2 378.0,389.9 378.5,389.6 379.0,389.3 379.5,389.0 380.0,388.7 380.5,388.5 381.0,388.2 381.5,388.0 382.0,387.8 382.5,387.6 383.0,387.4 383.5,387.2 384.0,387.0 384.5,386.7 385.0,386.5 385.5,386.3 386.0,386.2 386.5,386.3 387.0,386.5 387.5,386.6 388.0,386.7 388.5,386.9 389.0,387.0 389.5,387.1 390.0,387.3 390.5,387.4 391.0,387.5 391.5,387.6 392.0,387.7 392.5,387.8 393.0,387.9 393.5,388.0 394.0,388.1 394.5,388.2 395.0,388.3 395.5,388.5 396.0,388.6 396.5,388.7 397.0,388.9 397.5,389.0 398.0,389.1 398.5,389.3 399.0,389.4 399.0,389.4 398.5,389.4 398.0,389.4 397.5,389.3 397.0,389.3 396.5,389.3 396.0,389.2 395.5,389.2 395.0,389.2 394.5,389.2 394.0,389.2 393.5,389.2 393.0,389.2 392.5,389.2 392.0,389.2 391.5,389.2 391.0,389.2 390.5,389.2 390.0,389.2 389.5,389.2 389.0,389.3 388.5,389.3 388.0,389.4 387.5,389.4 387.0,389.5 386.5,389.5 386.0,389.6 385.5,389.6 385.0,389.7 384.5,389.8 384.0,389.9 383.5,390.0 383.0,390.1 382.5,390.2 382.0,390.4 381.5,390.5 381.0,390.6 380.5,390.7 380.0,390.8 379.5,390.9 379.0,391.1 378.5,391.2 378.0,391.3 377.5,391.4 377.0,391.5 376.5,391.6 376.0,391.8 375.5,391.9 375.0,392.0 374.5,392.1" fill="#787878" fill-opacity="0.78"/>
<polygon points="402.0,389.5 402.5,389.4 403.0,389.4 403.5,389.3 404.0,389.3 404.5,389.2 405.0,389.2 405.5,389.0 406.0,388.8 406.5,388.7 407.0,388.5 407.5,388.3 408.0,388.2 408.5,388.0 409.0,387.8 409.5,387.7 410.0,387.5 410.5,387.2 411.0,387.0 411.5,386.8 412.0,386.5 412.5,386.2 413.0,386.0 413.5,385.8 414.0,385.5 414.5,385.2 415.0,385.0 415.5,384.7 416.0,384.3 416.5,384.0 417.0,383.7 417.5,383.3 418.0,383.0 418.5,382.7 419.0,382.3 419.5,382.0 420.0,381.7 420.5,381.3 421.0,381.0 421.5,380.7 422.0,380.3 422.5,380.0 423.0,379.7 423.5,379.3 424.0,379.0 424.5,378.7 425.0,378.3 425.5,377.8 426.0,377.3 426.5,376.8 427.0,376.3 427.5,375.8 428.0,375.3 428.5,374.8 429.0,374.3 429.5,373.8 430.0,373.1 430.5,372.5 431.0,371.9 431.5,371.2 432.0,370.6 432.5,370.0 433.0,369.6 433.5,369.2 434.0,368.9 434.5,368.5 435.0,368.1 435.5,367.8 436.0,367.5 436.5,367.5 437.0,367.5 437.5,367.5 438.0,367.5 438.5,367.5 439.0,367.5 439.5,367.5 440.0,367.5 440.5,367.4 441.0,367.3 441.5,367.1 442.0,367.0 442.5,366.9 443.0,366.8 443.5,366.7 444.0,366.6 444.5,366.4 445.0,366.3 445.5,366.3 446.0,366.2 446.5,366.2 447.0,366.1 447.5,366.1 448.0,366.0 448.5,366.0 449.0,365.9 449.5,365.9 450.0,365.8 450.5,365.5 451.0,365.1 451.5,364.7 452.0,364.3 452.5,364.0 453.0,363.6 453.5,363.2 454.0,362.8 454.5,362.4 455.0,362.0 455.5,361.6 456.0,361.2 456.5,360.8 457.0,360.4 457.5,360.0 458.0,359.8 458.5,359.6 459.0,359.4 459.5,359.2 460.0,359.0 460.5,358.8 461.0,358.6 461.5,358.4 462.0,358.2 462.5,357.9 463.0,357.7 463.5,357.4 464.0,357.2 464.5,356.9 465.0,356.7 465.5,356.4 466.0,356.2 466.5,355.9 467.0,355.6 467.5,355.3 468.0,354.9 468.5,354.6 469.0,354.3 469.5,353.9 470.0,353.6 470.5,353.3 471.0,352.9 471.5,352.6 472.0,352.5 472.5,352.6 473.0,352.6 473.5,352.7 474.0,352.7 474.5,352.8 475.0,352.8 475.5,352.9 476.0,352.9 476.5,353.0 477.0,352.9 477.5,352.8 478.0,352.6 478.5,352.5 479.0,352.4 479.5,352.2 480.0,352.1 480.5,352.0 481.0,351.8 481.5,351.7 482.0,351.6 482.5,351.6 483.0,351.6 483.5,351.6 484.0,351.5 484.5,351.5 485.0,351.5 485.5,351.4 486.0,351.4 486.5,351.4 487.0,351.4 487.5,351.3 488.0,351.2 488.5,351.1 489.0,351.0 489.5,350.9 490.0,350.7 490.5,350.6 491.0,350.5 491.5,350.4 492.0,350.4 492.5,350.5 493.0,350.7 493.5,350.8 494.0,350.9 494.5,351.0 495.0,351.1 495.5,351.3 496.0,351.4 496.5,351.7 497.0,352.0 497.5,352.3 497.5,352.5 497.0,352.5 496.5,352.5 496.0,352.5 495.5,352.5 495.0,352.5 494.5,352.6 494.0,352.7 493.5,352.8 493.0,352.8 492.5,352.9 492.0,353.0 491.5,353.1 491.0,353.2 490.5,353.2 490.0,353.3 489.5,353.5 489.0,353.6 488.5,353.7 488.0,353.9 487.5,354.0 487.0,354.1 486.5,354.3 486.0,354.4 485.5,354.5 485.0,354.7 484.5,354.8 484.0,354.9 483.5,355.0 483.0,355.1 482.5,355.2 482.0,355.4 481.5,355.5 481.0,355.6 480.5,355.7 480.0,355.8 479.5,356.0 479.0,356.2 478.5,356.3 478.0,356.5 477.5,356.7 477.0,356.8 476.5,357.0 476.0,357.2 475.5,357.3 475.0,357.5 474.5,357.8 474.0,358.0 473.5,358.2 473.0,358.5 472.5,358.8 472.0,359.0 471.5,359.2 471.0,359.5 470.5,359.8 470.0,360.0 469.5,360.2 469.0,360.5 468.5,360.8 468.0,361.0 467.5,361.2 467.0,361.5 466.5,361.8 466.0,362.0 465.5,362.2 465.0,362.5 464.5,362.8 464.0,363.0 463.5,363.2 463.0,363.5 462.5,363.8 462.0,364.0 461.5,364.2 461.0,364.5 460.5,364.8 460.0,365.0 459.5,365.2 459.0,365.5 458.5,365.8 458.0,366.0 457.5,366.2 457.0,366.5 456.5,366.8 456.0,367.0 455.5,367.2 455.0,367.5 454.5,367.7 454.0,367.9 453.5,368.1 453.0,368.4 452.5,368.6 452.0,368.8 451.5,369.0 451.0,369.2 450.5,369.5 450.0,369.7 449.5,369.8 449.0,370.0 448.5,370.2 448.0,370.3 447.5,370.5 447.0,370.7 446.5,370.8 446.0,371.0 445.5,371.2 445.0,371.3 444.5,371.5 444.0,371.6 443.5,371.8 443.0,371.9 442.5,372.1 442.0,372.2 441.5,372.4 441.0,372.5 440.5,372.7 440.0,372.8 439.5,373.1 439.0,373.3 438.5,373.6 438.0,373.8 437.5,374.1 437.0,374.3 436.5,374.6 436.0,374.8 435.5,375.1 435.0,375.3 434.5,375.7 434.0,376.1 433.5,376.5 433.0,376.9 432.5,377.2 432.0,377.6 431.5,378.0 431.0,378.4 430.5,378.8 430.0,379.2 429.5,379.5 429.0,379.8 428.5,380.2 428.0,380.5 427.5,380.8 427.0,381.2 426.5,381.5 426.0,381.8 425.5,382.2 425.0,382.5 424.5,382.8 424.0,383.1 423.5,383.4 423.0,383.7 422.5,384.0 422.0,384.3 421.5,384.6 421.0,384.9 420.5,385.2 420.0,385.5 419.5,385.7 419.0,385.9 418.5,386.1 418.0,386.3 417.5,386.5 417.0,386.7 416.5,386.9 416.0,387.1 415.5,387.3 415.0,387.5 414.5,387.6 414.0,387.8 413.5,387.9 413.0,388.0 412.5,388.2 412.0,388.3 411.5,388.4 411.0,388.6 410.5,388.7 410.0,388.8 409.5,388.9 409.0,389.0 408.5,389.0 408.0,389.1 407.5,389.2 407.0,389.2 406.5,389.3 406.0,389.4 405.5,389.4 405.0,389.5 404.5,389.5 404.0,389.5 403.5,389.5 403.0,389.5 402.5,389.5 402.0,389.5" fill="#787878" fill-opacity="0.78"/>
<polygon points="538.5,369.9 539.0,369.5 539.5,369.0 540.0,368.5 540.5,367.8 541.0,367.2 541.5,366.5 542.0,365.9 542.5,365.2 543.0,364.6 543.5,364.0 544.0,363.5 544.5,363.0 545.0,362.5 545.5,362.0 546.0,361.5 546.5,361.0 547.0,360.5 547.5,360.0 548.0,359.7 548.5,359.3 549.0,359.0 549.5,358.6 550.0,358.3 550.5,358.0 551.0,357.6 551.5,357.3 552.0,357.1 552.5,357.0 553.0,356.9 553.5,356.8 554.0,356.7 554.5,356.6 555.0,356.5 555.5,356.4 556.0,356.3 556.5,356.2 557.0,356.0 557.5,355.8 558.0,355.6 558.5,355.4 559.0,355.2 559.5,355.0 560.0,354.8 560.5,354.6 561.0,354.4 561.5,354.2 562.0,354.1 562.5,354.1 563.0,354.0 563.5,353.9 564.0,353.9 564.5,353.8 565.0,353.8 565.5,353.7 566.0,353.5 566.5,353.1 567.0,352.7 567.5,352.3 568.0,351.9 568.5,351.5 569.0,351.1 569.5,350.7 570.0,350.3 570.5,350.1 571.0,349.9 571.5,349.6 572.0,349.4 572.5,349.1 573.0,348.9 573.5,348.7 574.0,348.4 574.5,348.3 575.0,348.2 575.5,348.2 576.0,348.1 576.5,348.1 577.0,348.1 577.5,348.0 578.0,348.2 578.5,348.4 579.0,348.5 579.5,348.7 580.0,348.9 580.5,349.1 581.0,349.3 581.5,349.6 582.0,349.9 582.5,350.2 583.0,350.6 583.5,350.9 584.0,351.2 584.5,351.4 585.0,351.5 585.5,351.5 586.0,351.6 586.5,351.7 587.0,351.8 587.5,351.9 588.0,351.9 588.5,352.1 589.0,352.2 589.5,352.4 589.5,352.4 589.0,352.4 588.5,352.4 588.0,352.3 587.5,352.2 587.0,352.2 586.5,352.1 586.0,352.1 585.5,352.1 585.0,352.0 584.5,352.1 584.0,352.1 583.5,352.1 583.0,352.2 582.5,352.2 582.0,352.3 581.5,352.4 581.0,352.4 580.5,352.4 580.0,352.5 579.5,352.7 579.0,352.8 578.5,353.0 578.0,353.2 577.5,353.3 577.0,353.5 576.5,353.7 576.0,353.8 575.5,354.0 575.0,354.2 574.5,354.4 574.0,354.6 573.5,354.8 573.0,355.0 572.5,355.2 572.0,355.4 571.5,355.6 571.0,355.8 570.5,356.0 570.0,356.2 569.5,356.4 569.0,356.6 568.5,356.8 568.0,357.0 567.5,357.2 567.0,357.5 566.5,357.7 566.0,357.9 565.5,358.1 565.0,358.3 564.5,358.5 564.0,358.7 563.5,358.9 563.0,359.1 562.5,359.3 562.0,359.5 561.5,359.7 561.0,359.9 560.5,360.1 560.0,360.3 559.5,360.5 559.0,360.8 558.5,361.0 558.0,361.2 557.5,361.4 557.0,361.6 556.5,361.9 556.0,362.1 555.5,362.3 555.0,362.5 554.5,362.8 554.0,363.0 553.5,363.2 553.0,363.5 552.5,363.8 552.0,364.0 551.5,364.2 551.0,364.5 550.5,364.8 550.0,365.0 549.5,365.2 549.0,365.5 548.5,365.8 548.0,366.0 547.5,366.2 547.0,366.5 546.5,366.8 546.0,367.0 545.5,367.2 545.0,367.5 544.5,367.7 544.0,367.9 543.5,368.1 543.0,368.3 542.5,368.5 542.0,368.8 541.5,369.0 541.0,369.2 540.5,369.4 540.0,369.6 539.5,369.8 539.0,369.9 538.5,370.0" fill="#787878" fill-opacity="0.78"/>
<polygon points="594.0,352.1 594.5,351.9 595.0,351.7 595.5,351.5 596.0,351.4 596.5,351.5 597.0,351.6 597.5,351.7 598.0,351.8 598.5,351.9 599.0,352.0 599.0,352.0 598.5,352.0 598.0,352.0 597.5,352.0 597.0,352.0 596.5,352.0 596.0,352.0 595.5,352.0 595.0,352.0 594.5,352.1 594.0,352.1" fill="#787878" fill-opacity="0.78"/>
<polygon points="642.0,379.9 642.5,379.4 643.0,379.0 643.5,378.6 644.0,378.2 644.5,377.9 645.0,377.6 645.5,377.2 646.0,377.1 646.5,377.3 647.0,377.5 647.5,377.7 648.0,377.9 648.5,378.2 649.0,378.8 649.5,379.3 649.5,379.7 649.0,379.7 648.5,379.7 648.0,379.7 647.5,379.7 647.0,379.8 646.5,379.8 646.0,379.9 645.5,379.9 645.0,379.9 644.5,380.0 644.0,380.0 643.5,380.1 643.0,380.1 642.5,380.1 642.0,380.2" fill="#787878" fill-opacity="0.78"/>
<polygon points="711.5,408.7 712.0,408.6 712.5,408.4 713.0,408.3 713.5,408.2 714.0,408.0 714.5,407.9 715.0,407.8 715.5,407.6 716.0,407.6 716.5,407.6 717.0,407.5 717.5,407.5 718.0,407.5 718.5,407.4 719.0,407.4 719.5,407.4 720.0,407.3 720.5,407.2 721.0,407.1 721.5,407.1 722.0,407.0 722.5,406.9 723.0,406.8 723.5,406.7 724.0,406.6 724.5,406.4 725.0,406.0 725.5,405.6 726.0,405.3 726.5,404.9 727.0,404.6 727.5,404.2 728.0,403.9 728.5,403.7 729.0,403.5 729.5,403.3 730.0,403.1 730.5,402.9 731.0,402.7 731.5,402.6 732.0,402.6 732.5,402.5 733.0,402.4 733.5,402.4 734.0,402.3 734.5,402.3 735.0,402.2 735.0,404.8 734.5,405.0 734.0,405.1 733.5,405.2 733.0,405.4 732.5,405.5 732.0,405.6 731.5,405.7 731.0,405.9 730.5,406.0 730.0,406.1 729.5,406.2 729.0,406.3 728.5,406.4 728.0,406.5 727.5,406.6 727.0,406.7 726.5,406.8 726.0,406.9 725.5,406.9 725.0,407.0 724.5,407.1 724.0,407.2 723.5,407.3 723.0,407.4 722.5,407.4 722.0,407.5 721.5,407.6 721.0,407.7 720.5,407.7 720.0,407.8 719.5,407.9 719.0,408.0 718.5,408.0 718.0,408.1 717.5,408.1 717.0,408.2 716.5,408.2 716.0,408.3 715.5,408.3 715.0,408.4 714.5,408.4 714.0,408.5 713.5,408.5 713.0,408.6 712.5,408.6 712.0,408.7 711.5,408.8" fill="#787878" fill-opacity="0.78"/>
<polygon points="35.5,393.0 36.0,393.3 36.5,393.6 37.0,393.9 37.5,394.2 38.0,394.2 38.5,394.3 39.0,394.4 39.5,394.5 40.0,394.6 40.5,394.7 41.0,394.8 41.5,394.8 42.0,394.9 42.5,395.0 43.0,394.7 43.5,394.4 44.0,394.1 44.5,393.8 45.0,393.5 45.5,393.2 45.5,393.2 45.0,393.3 44.5,393.4 44.0,393.5 43.5,393.6 43.0,393.6 42.5,393.6 42.0,393.6 41.5,393.5 41.0,393.5 40.5,393.5 40.0,393.4 39.5,393.4 39.0,393.4 38.5,393.3 38.0,393.3 37.5,393.2 37.0,393.1 36.5,393.0 36.0,392.9 35.5,392.9" fill="#ff8585" fill-opacity="0.8"/>
<polygon points="84.5,375.8 85.0,376.2 85.5,376.6 86.0,377.0 86.5,377.4 87.0,377.8 87.5,378.2 88.0,378.6 88.5,379.0 89.0,379.4 89.5,379.8 90.0,380.2 90.5,380.6 91.0,381.0 91.5,381.5 92.0,382.0 92.5,382.5 93.0,383.0 93.5,383.5 94.0,384.0 94.5,384.5 95.0,385.0 95.5,385.5 96.0,386.1 96.5,386.6 97.0,387.2 97.5,387.7 98.0,388.2 98.5,388.8 99.0,389.3 99.5,389.5 100.0,389.4 100.5,389.4 101.0,389.4 101.5,389.3 102.0,389.3 102.5,389.2 103.0,389.2 103.5,389.1 104.0,388.9 104.5,388.8 105.0,388.6 105.5,388.4 106.0,388.3 106.5,388.1 107.0,387.9 107.5,387.8 108.0,387.6 108.5,387.4 109.0,386.9 109.5,386.5 110.0,386.1 110.5,385.7 111.0,385.3 111.5,384.9 112.0,384.4 112.0,384.3 111.5,384.4 111.0,384.5 110.5,384.6 110.0,384.7 109.5,384.6 109.0,384.6 108.5,384.5 108.0,384.5 107.5,384.4 107.0,384.4 106.5,384.3 106.0,384.3 105.5,384.2 105.0,384.2 104.5,384.0 104.0,383.9 103.5,383.7 103.0,383.6 102.5,383.5 102.0,383.3 101.5,383.2 101.0,383.0 100.5,382.8 100.0,382.4 99.5,382.0 99.0,381.7 98.5,381.3 98.0,381.0 97.5,380.6 97.0,380.2 96.5,379.9 96.0,379.5 95.5,379.2 95.0,378.8 94.5,378.4 94.0,378.1 93.5,377.7 93.0,377.4 92.5,377.0 92.0,376.8 91.5,376.6 91.0,376.5 90.5,376.3 90.0,376.1 89.5,375.9 89.0,375.7 88.5,375.6 88.0,375.5 87.5,375.5 87.0,375.5 86.5,375.5 86.0,375.5 85.5,375.5 85.0,375.5 84.5,375.5" fill="#ff8585" fill-opacity="0.8"/>
<polygon points="128.5,383.1 129.0,383.4 129.5,383.7 130.0,383.9 130.5,384.2 131.0,384.5 131.5,384.8 132.0,385.1 132.5,385.4 133.0,385.6 133.5,385.9 134.0,386.3 134.5,386.6 135.0,387.0 135.5,387.3 136.0,387.6 136.5,388.0 137.0,388.3 137.5,388.7 138.0,388.8 138.5,388.8 139.0,388.9 139.5,389.0 140.0,389.1 140.5,389.2 141.0,389.2 141.5,389.3 142.0,389.4 142.5,389.5 143.0,389.4 143.5,389.3 144.0,389.2 144.5,389.2 145.0,389.1 145.5,389.0 146.0,388.9 146.5,388.8 147.0,388.8 147.5,388.7 148.0,388.4 148.5,388.1 149.0,387.8 149.5,387.5 150.0,387.2 150.5,387.0 151.0,386.7 151.5,386.4 152.0,386.1 152.5,385.8 152.5,385.8 152.0,385.9 151.5,386.0 151.0,386.1 150.5,386.2 150.0,386.3 149.5,386.4 149.0,386.4 148.5,386.4 148.0,386.5 147.5,386.5 147.0,386.5 146.5,386.6 146.0,386.6 145.5,386.6 145.0,386.7 144.5,386.6 144.0,386.5 143.5,386.4 143.0,386.3 142.5,386.2 142.0,386.2 141.5,386.1 141.0,386.0 140.5,385.9 140.0,385.8 139.5,385.7 139.0,385.6 138.5,385.5 138.0,385.4 137.5,385.2 137.0,385.1 136.5,385.0 136.0,384.9 135.5,384.8 135.0,384.7 134.5,384.5 134.0,384.4 133.5,384.3 133.0,384.1 132.5,384.0 132.0,383.9 131.5,383.7 131.0,383.6 130.5,383.5 130.0,383.3 129.5,383.2 129.0,383.2 128.5,383.1" fill="#ff8585" fill-opacity="0.8"/>
<polygon points="168.5,383.3 169.0,383.4 169.5,383.4 170.0,383.4 170.5,383.5 171.0,383.5 171.0,383.5 170.5,383.4 170.0,383.3 169.5,383.3 169.0,383.3 168.5,383.3" fill="#ff8585" fill-opacity="0.8"/>
<polygon points="174.0,384.1 174.5,384.4 175.0,384.8 175.5,385.1 176.0,385.4 176.5,385.7 177.0,386.7 177.5,388.0 178.0,389.3 178.5,390.7 179.0,392.0 179.5,393.3 180.0,394.5 180.5,395.4 181.0,396.4 181.5,397.3 182.0,398.3 182.5,399.2 183.0,400.2 183.5,401.1 184.0,402.0 184.5,402.9 185.0,403.8 185.5,404.6 186.0,405.5 186.5,406.4 187.0,406.9 187.5,407.3 188.0,407.7 188.5,408.0 189.0,408.4 189.5,408.8 190.0,409.2 190.5,409.2 191.0,409.2 191.5,409.2 192.0,409.2 192.5,409.2 193.0,409.2 193.5,409.2 194.0,409.2 194.5,409.2 195.0,409.2 195.5,409.1 196.0,409.0 196.5,408.9 197.0,408.8 197.5,408.8 198.0,408.7 198.5,408.6 199.0,408.5 199.5,408.4 200.0,408.3 200.5,407.8 201.0,407.3 201.5,406.8 202.0,406.3 202.5,405.8 203.0,405.3 203.5,404.8 204.0,404.2 204.0,403.5 203.5,403.5 203.0,403.4 202.5,403.3 202.0,403.3 201.5,403.2 201.0,403.1 200.5,403.1 200.0,403.0 199.5,402.8 199.0,402.6 198.5,402.4 198.0,402.1 197.5,401.9 197.0,401.7 196.5,401.5 196.0,401.3 195.5,401.0 195.0,400.8 194.5,400.5 194.0,400.2 193.5,399.8 193.0,399.5 192.5,399.2 192.0,398.8 191.5,398.5 191.0,398.2 190.5,397.8 190.0,397.5 189.5,397.0 189.0,396.5 188.5,396.0 188.0,395.5 187.5,395.0 187.0,394.5 186.5,394.0 186.0,393.5 185.5,393.0 185.0,392.5 184.5,391.9 184.0,391.4 183.5,390.8 183.0,390.2 182.5,389.7 182.0,389.1 181.5,388.5 181.0,388.0 180.5,387.4 180.0,386.9 179.5,386.5 179.0,386.2 178.5,386.0 178.0,385.7 177.5,385.5 177.0,385.2 176.5,384.9 176.0,384.7 175.5,384.4 175.0,384.2 174.5,384.1 174.0,384.0" fill="#ff8585" fill-opacity="0.8"/>
<polygon points="254.0,362.3 254.5,362.8 255.0,363.3 255.5,363.8 256.0,364.3 256.5,364.8 257.0,365.3 257.5,365.8 258.0,366.1 258.5,366.4 259.0,366.7 259.5,367.0 260.0,367.3 260.5,367.6 261.0,367.9 261.5,368.2 262.0,368.7 262.5,369.4 263.0,370.0 263.5,370.6 264.0,371.2 264.5,371.9 265.0,372.5 265.5,373.0 266.0,373.5 266.5,374.0 267.0,374.5 267.5,375.0 268.0,375.5 268.5,376.0 269.0,376.4 269.5,376.8 270.0,377.2 270.5,377.6 271.0,378.0 271.5,378.4 272.0,378.8 272.5,379.2 273.0,379.5 273.5,379.8 274.0,380.1 274.5,380.4 275.0,380.7 275.5,381.0 276.0,381.3 276.5,381.6 277.0,382.3 277.5,383.3 278.0,384.3 278.5,385.3 279.0,386.3 279.5,387.3 280.0,388.3 280.5,389.2 281.0,390.1 281.5,391.0 282.0,391.9 282.5,392.8 283.0,393.7 283.5,394.6 284.0,395.5 284.5,396.2 285.0,396.7 285.5,397.2 286.0,397.7 286.5,398.2 287.0,398.7 287.5,399.2 288.0,399.1 288.5,399.0 289.0,399.0 289.5,398.9 290.0,398.9 290.5,398.8 291.0,398.7 291.5,398.7 292.0,398.6 292.5,398.5 293.0,398.4 293.5,398.2 294.0,398.1 294.5,398.0 295.0,397.9 295.5,397.8 296.0,397.7 296.5,397.5 297.0,397.6 297.5,397.8 298.0,397.9 298.5,398.1 299.0,398.3 299.5,398.4 300.0,398.6 300.5,398.8 301.0,398.9 301.5,399.1 302.0,399.2 302.5,399.3 303.0,399.4 303.5,399.5 304.0,399.6 304.5,399.6 305.0,399.7 305.5,399.8 306.0,399.9 306.5,400.0 307.0,399.9 307.5,399.7 308.0,399.6 308.5,399.4 309.0,399.2 309.5,399.1 310.0,398.9 310.5,398.7 311.0,398.6 311.5,398.4 312.0,398.2 312.5,397.9 313.0,397.7 313.0,397.5 312.5,397.5 312.0,397.5 311.5,397.5 311.0,397.5 310.5,397.5 310.0,397.5 309.5,397.4 309.0,397.3 308.5,397.1 308.0,397.0 307.5,396.9 307.0,396.8 306.5,396.7 306.0,396.6 305.5,396.4 305.0,396.3 304.5,396.1 304.0,395.9 303.5,395.7 303.0,395.5 302.5,395.2 302.0,395.0 301.5,394.8 301.0,394.6 300.5,394.4 300.0,394.2 299.5,393.9 299.0,393.7 298.5,393.4 298.0,393.2 297.5,392.9 297.0,392.7 296.5,392.4 296.0,392.2 295.5,391.9 295.0,391.7 294.5,391.3 294.0,391.0 293.5,390.7 293.0,390.3 292.5,390.0 292.0,389.7 291.5,389.3 291.0,389.0 290.5,388.7 290.0,388.3 289.5,387.8 289.0,387.3 288.5,386.8 288.0,386.3 287.5,385.8 287.0,385.3 286.5,384.8 286.0,384.3 285.5,383.8 285.0,383.3 284.5,382.8 284.0,382.2 283.5,381.6 283.0,381.0 282.5,380.4 282.0,379.8 281.5,379.2 281.0,378.7 280.5,378.1 280.0,377.5 279.5,377.0 279.0,376.5 278.5,376.0 278.0,375.5 277.5,375.0 277.0,374.5 276.5,374.0 276.0,373.5 275.5,373.0 275.0,372.5 274.5,372.2 274.0,371.8 273.5,371.5 273.0,371.2 272.5,370.8 272.0,370.5 271.5,370.2 271.0,369.8 270.5,369.5 270.0,369.2 269.5,368.8 269.0,368.5 268.5,368.2 268.0,367.8 267.5,367.5 267.0,367.2 266.5,366.8 266.0,366.5 265.5,366.2 265.0,365.8 264.5,365.6 264.0,365.3 263.5,365.1 263.0,364.8 262.5,364.6 262.0,364.3 261.5,364.1 261.0,363.8 260.5,363.6 260.0,363.3 259.5,363.2 259.0,363.1 258.5,362.9 258.0,362.8 257.5,362.7 257.0,362.5 256.5,362.4 256.0,362.3 255.5,362.1 255.0,362.0 254.5,362.1 254.0,362.1" fill="#ff8585" fill-opacity="0.8"/>
<polygon points="339.5,392.0 340.0,392.5 340.5,393.0 341.0,393.5 341.5,394.0 342.0,394.1 342.5,394.0 343.0,394.0 343.5,393.9 344.0,393.8 344.5,393.7 345.0,393.7 345.5,393.5 346.0,393.3 346.5,393.1 347.0,392.9 347.0,392.8 346.5,392.9 346.0,392.9 345.5,392.9 345.0,393.0 344.5,392.9 344.0,392.8 343.5,392.7 343.0,392.6 342.5,392.5 342.0,392.4 341.5,392.3 341.0,392.2 340.5,392.1 340.0,392.0 339.5,392.0" fill="#ff8585" fill-opacity="0.8"/>
<polygon points="365.0,391.7 365.5,392.0 366.0,392.2 366.5,392.5 367.0,392.7 367.5,393.0 368.0,393.2 368.5,393.3 369.0,393.5 369.5,393.6 370.0,393.8 370.5,393.9 371.0,394.1 371.5,394.1 372.0,393.7 372.5,393.4 373.0,393.0 373.5,392.7 374.0,392.3 374.0,392.1 373.5,392.1 373.0,392.2 372.5,392.2 372.0,392.3 371.5,392.4 371.0,392.4 370.5,392.4 370.0,392.5 369.5,392.4 369.0,392.3 368.5,392.2 368.0,392.2 367.5,392.1 367.0,392.0 366.5,391.9 366.0,391.8 365.5,391.8 365.0,391.7" fill="#ff8585" fill-opacity="0.8"/>
<polygon points="399.5,389.5 400.0,389.7 400.5,389.6 401.0,389.6 401.5,389.5 401.5,389.5 401.0,389.5 400.5,389.5 400.0,389.5 399.5,389.5" fill="#ff8585" fill-opacity="0.8"/>
<polygon points="498.0,352.5 498.5,352.8 499.0,353.1 499.5,353.4 500.0,353.7 500.5,354.2 501.0,354.8 501.5,355.3 502.0,355.9 502.5,356.4 503.0,357.0 503.5,357.5 504.0,358.1 504.5,358.6 505.0,359.2 505.5,359.6 506.0,360.0 506.5,360.4 507.0,360.8 507.5,361.2 508.0,361.7 508.5,362.1 509.0,362.5 509.5,362.9 510.0,363.3 510.5,363.7 511.0,364.0 511.5,364.3 512.0,364.7 512.5,365.0 513.0,365.3 513.5,365.7 514.0,366.0 514.5,366.3 515.0,366.7 515.5,367.0 516.0,367.4 516.5,367.8 517.0,368.1 517.5,368.5 518.0,368.9 518.5,369.2 519.0,369.6 519.5,370.0 520.0,370.3 520.5,370.6 521.0,370.9 521.5,371.2 522.0,371.5 522.5,371.8 523.0,372.1 523.5,372.4 524.0,372.7 524.5,372.9 525.0,373.0 525.5,373.2 526.0,373.3 526.5,373.4 527.0,373.5 527.5,373.6 528.0,373.8 528.5,373.8 529.0,373.8 529.5,373.7 530.0,373.7 530.5,373.6 531.0,373.6 531.5,373.5 532.0,373.5 532.5,373.4 533.0,373.4 533.5,373.2 534.0,373.0 534.5,372.8 535.0,372.5 535.5,372.2 536.0,372.0 536.5,371.8 537.0,371.4 537.5,370.9 538.0,370.4 538.0,370.2 537.5,370.3 537.0,370.3 536.5,370.3 536.0,370.2 535.5,370.2 535.0,370.1 534.5,370.1 534.0,370.1 533.5,370.0 533.0,369.9 532.5,369.7 532.0,369.6 531.5,369.4 531.0,369.2 530.5,369.1 530.0,368.9 529.5,368.7 529.0,368.6 528.5,368.4 528.0,368.2 527.5,367.9 527.0,367.7 526.5,367.4 526.0,367.2 525.5,366.9 525.0,366.7 524.5,366.4 524.0,366.2 523.5,365.9 523.0,365.6 522.5,365.3 522.0,364.9 521.5,364.6 521.0,364.3 520.5,363.9 520.0,363.6 519.5,363.3 519.0,362.9 518.5,362.6 518.0,362.3 517.5,361.9 517.0,361.6 516.5,361.3 516.0,360.9 515.5,360.6 515.0,360.3 514.5,359.9 514.0,359.6 513.5,359.3 513.0,358.9 512.5,358.6 512.0,358.3 511.5,357.9 511.0,357.6 510.5,357.3 510.0,356.9 509.5,356.6 509.0,356.3 508.5,355.9 508.0,355.7 507.5,355.5 507.0,355.3 506.5,355.0 506.0,354.8 505.5,354.6 505.0,354.4 504.5,354.2 504.0,354.0 503.5,353.7 503.0,353.6 502.5,353.4 502.0,353.3 501.5,353.2 501.0,353.0 500.5,352.9 500.0,352.7 499.5,352.6 499.0,352.5 498.5,352.5 498.0,352.5" fill="#ff8585" fill-opacity="0.8"/>
<polygon points="590.0,352.5 590.5,352.6 591.0,352.8 591.5,352.9 592.0,352.9 592.5,352.7 593.0,352.5 593.5,352.3 593.5,352.1 593.0,352.2 592.5,352.2 592.0,352.3 591.5,352.4 591.0,352.4 590.5,352.4 590.0,352.5" fill="#ff8585" fill-opacity="0.8"/>
<polygon points="599.5,352.3 600.0,352.8 600.5,353.2 601.0,353.7 601.5,354.1 602.0,354.6 602.5,355.0 603.0,355.6 603.5,356.2 604.0,356.9 604.5,357.5 605.0,358.1 605.5,358.8 606.0,359.5 606.5,360.3 607.0,361.2 607.5,362.1 608.0,363.0 608.5,363.8 609.0,364.7 609.5,365.8 610.0,366.9 610.5,368.0 611.0,369.1 611.5,370.2 612.0,371.4 612.5,372.5 613.0,373.4 613.5,374.2 614.0,375.1 614.5,376.0 615.0,376.9 615.5,377.7 616.0,378.5 616.5,378.9 617.0,379.3 617.5,379.7 618.0,380.1 618.5,380.5 619.0,380.9 619.5,381.3 620.0,381.7 620.5,382.1 621.0,382.5 621.5,383.0 622.0,383.4 622.5,383.9 623.0,384.3 623.5,384.7 624.0,385.2 624.5,385.6 625.0,385.9 625.5,386.2 626.0,386.5 626.5,386.9 627.0,387.2 627.5,387.5 628.0,387.3 628.5,387.1 629.0,386.9 629.5,386.7 630.0,386.5 630.5,386.3 631.0,386.1 631.5,385.9 632.0,385.7 632.5,385.4 633.0,385.1 633.5,384.9 634.0,384.6 634.5,384.4 635.0,384.1 635.5,383.8 636.0,383.6 636.5,383.3 637.0,383.1 637.5,382.9 638.0,382.6 638.5,382.4 639.0,382.1 639.5,381.9 640.0,381.7 640.5,381.2 641.0,380.8 641.5,380.3 641.5,380.2 641.0,380.3 640.5,380.3 640.0,380.3 639.5,380.3 639.0,380.3 638.5,380.2 638.0,380.2 637.5,380.1 637.0,380.1 636.5,380.1 636.0,380.0 635.5,379.9 635.0,379.7 634.5,379.6 634.0,379.4 633.5,379.3 633.0,379.1 632.5,378.9 632.0,378.8 631.5,378.6 631.0,378.2 630.5,377.9 630.0,377.5 629.5,377.2 629.0,376.9 628.5,376.5 628.0,376.2 627.5,375.8 627.0,375.4 626.5,375.0 626.0,374.6 625.5,374.2 625.0,373.8 624.5,373.4 624.0,373.0 623.5,372.6 623.0,372.2 622.5,371.8 622.0,371.4 621.5,371.0 621.0,370.6 620.5,370.2 620.0,369.8 619.5,369.4 619.0,369.0 618.5,368.5 618.0,368.0 617.5,367.5 617.0,367.0 616.5,366.5 616.0,366.0 615.5,365.5 615.0,365.0 614.5,364.4 614.0,363.8 613.5,363.1 613.0,362.5 612.5,361.9 612.0,361.2 611.5,360.6 611.0,360.0 610.5,359.4 610.0,358.8 609.5,358.1 609.0,357.5 608.5,356.9 608.0,356.4 607.5,356.0 607.0,355.7 606.5,355.3 606.0,354.9 605.5,354.5 605.0,354.2 604.5,354.0 604.0,353.7 603.5,353.5 603.0,353.3 602.5,353.1 602.0,352.9 601.5,352.6 601.0,352.4 600.5,352.2 600.0,352.0 599.5,352.0" fill="#ff8585" fill-opacity="0.8"/>
<polygon points="650.0,379.9 650.5,380.5 651.0,380.9 651.5,381.2 652.0,381.4 652.5,381.7 653.0,382.0 653.5,382.2 654.0,382.5 654.5,382.7 655.0,383.0 655.5,383.1 656.0,383.3 656.5,383.4 657.0,383.6 657.5,383.7 658.0,383.8 658.5,384.0 659.0,384.1 659.5,384.4 660.0,384.8 660.5,385.2 661.0,385.6 661.5,386.0 662.0,386.4 662.5,386.8 663.0,387.2 663.5,387.7 664.0,388.2 664.5,388.7 665.0,389.2 665.5,389.7 666.0,390.2 666.5,390.7 667.0,391.2 667.5,391.7 668.0,392.0 668.5,392.3 669.0,392.6 669.5,392.9 670.0,393.2 670.5,393.5 671.0,393.8 671.5,394.1 672.0,394.4 672.5,394.7 673.0,395.1 673.5,395.4 674.0,395.7 674.5,396.1 675.0,396.4 675.5,396.7 676.0,397.1 676.5,397.4 677.0,397.9 677.5,398.5 678.0,399.1 678.5,399.7 679.0,400.3 679.5,400.9 680.0,401.5 680.5,402.1 681.0,402.7 681.5,403.3 682.0,403.9 682.5,404.5 683.0,405.1 683.5,405.7 684.0,406.3 684.5,406.9 685.0,407.5 685.5,407.9 686.0,408.2 686.5,408.6 687.0,409.0 687.5,409.4 688.0,409.8 688.5,410.1 689.0,410.4 689.5,410.6 690.0,410.9 690.5,410.8 691.0,410.8 691.5,410.7 692.0,410.6 692.5,410.6 693.0,410.5 693.5,410.4 694.0,410.4 694.5,410.3 695.0,410.3 695.5,410.2 696.0,410.3 696.5,410.4 697.0,410.5 697.5,410.7 698.0,410.8 698.5,411.0 699.0,411.1 699.5,411.3 700.0,411.6 700.5,411.9 701.0,412.2 701.5,412.5 702.0,412.8 702.5,413.1 703.0,413.3 703.5,413.2 704.0,413.2 704.5,413.1 705.0,413.1 705.5,413.0 706.0,412.8 706.5,412.5 707.0,412.1 707.5,411.8 708.0,411.5 708.5,411.2 709.0,410.7 709.5,410.3 710.0,409.9 710.5,409.5 711.0,409.0 711.0,408.8 710.5,408.9 710.0,408.9 709.5,409.0 709.0,409.0 708.5,408.8 708.0,408.7 707.5,408.6 707.0,408.4 706.5,408.3 706.0,408.1 705.5,408.0 705.0,407.8 704.5,407.5 704.0,407.3 703.5,407.1 703.0,406.9 702.5,406.7 702.0,406.5 701.5,406.2 701.0,406.0 700.5,405.8 700.0,405.6 699.5,405.4 699.0,405.2 698.5,405.0 698.0,404.8 697.5,404.5 697.0,404.3 696.5,404.1 696.0,403.9 695.5,403.7 695.0,403.5 694.5,403.2 694.0,403.0 693.5,402.8 693.0,402.6 692.5,402.3 692.0,402.1 691.5,401.9 691.0,401.7 690.5,401.4 690.0,401.2 689.5,400.6 689.0,400.0 688.5,399.4 688.0,398.8 687.5,398.3 687.0,397.8 686.5,397.3 686.0,396.8 685.5,396.3 685.0,395.8 684.5,395.3 684.0,394.8 683.5,394.3 683.0,393.9 682.5,393.6 682.0,393.3 681.5,392.9 681.0,392.6 680.5,392.3 680.0,391.9 679.5,391.6 679.0,391.3 678.5,390.9 678.0,390.7 677.5,390.4 677.0,390.2 676.5,389.9 676.0,389.7 675.5,389.4 675.0,389.2 674.5,388.9 674.0,388.7 673.5,388.4 673.0,388.1 672.5,387.8 672.0,387.5 671.5,387.2 671.0,386.9 670.5,386.6 670.0,386.3 669.5,386.0 669.0,385.7 668.5,385.4 668.0,385.1 667.5,384.9 667.0,384.6 666.5,384.3 666.0,384.0 665.5,383.7 665.0,383.4 664.5,383.2 664.0,382.9 663.5,382.6 663.0,382.4 662.5,382.2 662.0,382.1 661.5,381.9 661.0,381.7 660.5,381.6 660.0,381.4 659.5,381.2 659.0,381.1 658.5,380.9 658.0,380.8 657.5,380.7 657.0,380.6 656.5,380.5 656.0,380.4 655.5,380.4 655.0,380.3 654.5,380.2 654.0,380.1 653.5,380.0 653.0,380.0 652.5,379.9 652.0,379.9 651.5,379.9 651.0,379.8 650.5,379.8 650.0,379.8" fill="#ff8585" fill-opacity="0.8"/>
<polyline points="0.0,412.5 0.5,412.3 1.0,412.2 1.5,412.0 2.0,411.8 2.5,411.7 3.0,411.5 3.5,411.3 4.0,411.2 4.5,411.0 5.0,410.8 5.5,410.5 6.0,410.2 6.5,409.8 7.0,409.5 7.5,409.2 8.0,408.8 8.5,408.5 9.0,408.2 9.5,407.8 10.0,407.5 10.5,407.1 11.0,406.7 11.5,406.2 12.0,405.8 12.5,405.4 13.0,405.0 13.5,404.6 14.0,404.2 14.5,403.8 15.0,403.3 15.5,402.9 16.0,402.5 16.5,402.1 17.0,401.7 17.5,401.2 18.0,400.8 18.5,400.4 19.0,400.0 19.5,399.6 20.0,399.2 20.5,398.8 21.0,398.3 21.5,397.9 22.0,397.5 22.5,397.1 23.0,396.7 23.5,396.2 24.0,395.8 24.5,395.4 25.0,395.0 25.5,394.7 26.0,394.4 26.5,394.1 27.0,393.8 27.5,393.5 28.0,393.2 28.5,392.9 29.0,392.6 29.5,392.5 30.0,392.5 30.5,392.5 31.0,392.5 31.5,392.5 32.0,392.5 32.5,392.5 33.0,392.5 33.5,392.5 34.0,392.6 34.5,392.7 35.0,392.8 35.5,392.9 36.0,392.9 36.5,393.0 37.0,393.1 37.5,393.2 38.0,393.3 38.5,393.3 39.0,393.4 39.5,393.4 40.0,393.4 40.5,393.5 41.0,393.5 41.5,393.5 42.0,393.6 42.5,393.6 43.0,393.6 43.5,393.6 44.0,393.5 44.5,393.4 45.0,393.3 45.5,393.2 46.0,393.0 46.5,392.9 47.0,392.8 47.5,392.7 48.0,392.6 48.5,392.4 49.0,392.2 49.5,391.9 50.0,391.7 50.5,391.4 51.0,391.2 51.5,390.9 52.0,390.7 52.5,390.4 53.0,390.2 53.5,389.9 54.0,389.7 54.5,389.4 55.0,389.2 55.5,388.9 56.0,388.7 56.5,388.4 57.0,388.2 57.5,387.9 58.0,387.7 58.5,387.4 59.0,387.2 59.5,387.0 60.0,386.8 60.5,386.6 61.0,386.3 61.5,386.1 62.0,385.9 62.5,385.7 63.0,385.5 63.5,385.2 64.0,384.8 64.5,384.5 65.0,384.1 65.5,383.7 66.0,383.4 66.5,383.0 67.0,382.6 67.5,382.3 68.0,381.9 68.5,381.6 69.0,381.3 69.5,381.0 70.0,380.7 70.5,380.4 71.0,380.1 71.5,379.8 72.0,379.5 72.5,379.2 73.0,378.9 73.5,378.6 74.0,378.4 74.5,378.3 75.0,378.1 75.5,377.9 76.0,377.8 76.5,377.6 77.0,377.4 77.5,377.3 78.0,377.1 78.5,376.9 79.0,376.8 79.5,376.6 80.0,376.5 80.5,376.4 81.0,376.2 81.5,376.1 82.0,375.9 82.5,375.8 83.0,375.6 83.5,375.5 84.0,375.5 84.5,375.5 85.0,375.5 85.5,375.5 86.0,375.5 86.5,375.5 87.0,375.5 87.5,375.5 88.0,375.5 88.5,375.6 89.0,375.7 89.5,375.9 90.0,376.1 90.5,376.3 91.0,376.5 91.5,376.6 92.0,376.8 92.5,377.0 93.0,377.4 93.5,377.7 94.0,378.1 94.5,378.4 95.0,378.8 95.5,379.2 96.0,379.5 96.5,379.9 97.0,380.2 97.5,380.6 98.0,381.0 98.5,381.3 99.0,381.7 99.5,382.0 100.0,382.4 100.5,382.8 101.0,383.0 101.5,383.2 102.0,383.3 102.5,383.5 103.0,383.6 103.5,383.7 104.0,383.9 104.5,384.0 105.0,384.2 105.5,384.2 106.0,384.3 106.5,384.3 107.0,384.4 107.5,384.4 108.0,384.5 108.5,384.5 109.0,384.6 109.5,384.6 110.0,384.7 110.5,384.6 111.0,384.5 111.5,384.4 112.0,384.3 112.5,384.2 113.0,384.1 113.5,384.0 114.0,383.9 114.5,383.8 115.0,383.7 115.5,383.6 116.0,383.5 116.5,383.5 117.0,383.4 117.5,383.3 118.0,383.3 118.5,383.2 119.0,383.1 119.5,383.1 120.0,383.0 120.5,382.9 121.0,382.9 121.5,382.9 122.0,382.8 122.5,382.8 123.0,382.7 123.5,382.6 124.0,382.6 124.5,382.6 125.0,382.5 125.5,382.6 126.0,382.7 126.5,382.8 127.0,382.8 127.5,382.9 128.0,383.0 128.5,383.1 129.0,383.2 129.5,383.2 130.0,383.3 130.5,383.5 131.0,383.6 131.5,383.7 132.0,383.9 132.5,384.0 133.0,384.1 133.5,384.3 134.0,384.4 134.5,384.5 135.0,384.7 135.5,384.8 136.0,384.9 136.5,385.0 137.0,385.1 137.5,385.2 138.0,385.4 138.5,385.5 139.0,385.6 139.5,385.7 140.0,385.8 140.5,385.9 141.0,386.0 141.5,386.1 142.0,386.2 142.5,386.2 143.0,386.3 143.5,386.4 144.0,386.5 144.5,386.6 145.0,386.7 145.5,386.6 146.0,386.6 146.5,386.6 147.0,386.5 147.5,386.5 148.0,386.5 148.5,386.4 149.0,386.4 149.5,386.4 150.0,386.3 150.5,386.2 151.0,386.1 151.5,386.0 152.0,385.9 152.5,385.8 153.0,385.7 153.5,385.6 154.0,385.5 154.5,385.4 155.0,385.3 155.5,385.2 156.0,385.1 156.5,385.0 157.0,384.9 157.5,384.8 158.0,384.6 158.5,384.5 159.0,384.4 159.5,384.3 160.0,384.2 160.5,384.1 161.0,384.0 161.5,383.9 162.0,383.8 162.5,383.8 163.0,383.7 163.5,383.6 164.0,383.5 164.5,383.4 165.0,383.3 165.5,383.3 166.0,383.3 166.5,383.3 167.0,383.3 167.5,383.3 168.0,383.3 168.5,383.3 169.0,383.3 169.5,383.3 170.0,383.3 170.5,383.4 171.0,383.5 171.5,383.6 172.0,383.7 172.5,383.8 173.0,383.8 173.5,383.9 174.0,384.0 174.5,384.1 175.0,384.2 175.5,384.4 176.0,384.7 176.5,384.9 177.0,385.2 177.5,385.5 178.0,385.7 178.5,386.0 179.0,386.2 179.5,386.5 180.0,386.9 180.5,387.4 181.0,388.0 181.5,388.5 182.0,389.1 182.5,389.7 183.0,390.2 183.5,390.8 184.0,391.4 184.5,391.9 185.0,392.5 185.5,393.0 186.0,393.5 186.5,394.0 187.0,394.5 187.5,395.0 188.0,395.5 188.5,396.0 189.0,396.5 189.5,397.0 190.0,397.5 190.5,397.8 191.0,398.2 191.5,398.5 192.0,398.8 192.5,399.2 193.0,399.5 193.5,399.8 194.0,400.2 194.5,400.5 195.0,400.8 195.5,401.0 196.0,401.3 196.5,401.5 197.0,401.7 197.5,401.9 198.0,402.1 198.5,402.4 199.0,402.6 199.5,402.8 200.0,403.0 200.5,403.1 201.0,403.1 201.5,403.2 202.0,403.3 202.5,403.3 203.0,403.4 203.5,403.5 204.0,403.5 204.5,403.6 205.0,403.7 205.5,403.6 206.0,403.5 206.5,403.5 207.0,403.4 207.5,403.3 208.0,403.3 208.5,403.2 209.0,403.1 209.5,403.1 210.0,403.0 210.5,402.7 211.0,402.4 211.5,402.1 212.0,401.8 212.5,401.5 213.0,401.2 213.5,400.9 214.0,400.6 214.5,400.3 215.0,400.0 215.5,399.5 216.0,399.0 216.5,398.5 217.0,398.0 217.5,397.5 218.0,397.0 218.5,396.5 219.0,396.0 219.5,395.5 220.0,395.0 220.5,394.3 221.0,393.7 221.5,393.0 222.0,392.3 222.5,391.7 223.0,391.0 223.5,390.3 224.0,389.7 224.5,389.0 225.0,388.3 225.5,387.7 226.0,387.0 226.5,386.3 227.0,385.7 227.5,385.0 228.0,384.3 228.5,383.7 229.0,383.0 229.5,382.3 230.0,381.7 230.5,381.0 231.0,380.3 231.5,379.7 232.0,379.0 232.5,378.3 233.0,377.7 233.5,377.0 234.0,376.3 234.5,375.7 235.0,375.0 235.5,374.4 236.0,373.8 236.5,373.2 237.0,372.7 237.5,372.1 238.0,371.5 238.5,370.9 239.0,370.3 239.5,369.8 240.0,369.2 240.5,368.8 241.0,368.3 241.5,367.9 242.0,367.5 242.5,367.1 243.0,366.7 243.5,366.2 244.0,365.8 244.5,365.4 245.0,365.0 245.5,364.8 246.0,364.5 246.5,364.2 247.0,364.0 247.5,363.8 248.0,363.5 248.5,363.2 249.0,363.0 249.5,362.8 250.0,362.5 250.5,362.4 251.0,362.4 251.5,362.4 252.0,362.3 252.5,362.2 253.0,362.2 253.5,362.1 254.0,362.1 254.5,362.1 255.0,362.0 255.5,362.1 256.0,362.3 256.5,362.4 257.0,362.5 257.5,362.7 258.0,362.8 258.5,362.9 259.0,363.1 259.5,363.2 260.0,363.3 260.5,363.6 261.0,363.8 261.5,364.1 262.0,364.3 262.5,364.6 263.0,364.8 263.5,365.1 264.0,365.3 264.5,365.6 265.0,365.8 265.5,366.2 266.0,366.5 266.5,366.8 267.0,367.2 267.5,367.5 268.0,367.8 268.5,368.2 269.0,368.5 269.5,368.8 270.0,369.2 270.5,369.5 271.0,369.8 271.5,370.2 272.0,370.5 272.5,370.8 273.0,371.2 273.5,371.5 274.0,371.8 274.5,372.2 275.0,372.5 275.5,373.0 276.0,373.5 276.5,374.0 277.0,374.5 277.5,375.0 278.0,375.5 278.5,376.0 279.0,376.5 279.5,377.0 280.0,377.5 280.5,378.1 281.0,378.7 281.5,379.2 282.0,379.8 282.5,380.4 283.0,381.0 283.5,381.6 284.0,382.2 284.5,382.8 285.0,383.3 285.5,383.8 286.0,384.3 286.5,384.8 287.0,385.3 287.5,385.8 288.0,386.3 288.5,386.8 289.0,387.3 289.5,387.8 290.0,388.3 290.5,388.7 291.0,389.0 291.5,389.3 292.0,389.7 292.5,390.0 293.0,390.3 293.5,390.7 294.0,391.0 294.5,391.3 295.0,391.7 295.5,391.9 296.0,392.2 296.5,392.4 297.0,392.7 297.5,392.9 298.0,393.2 298.5,393.4 299.0,393.7 299.5,393.9 300.0,394.2 300.5,394.4 301.0,394.6 301.5,394.8 302.0,395.0 302.5,395.2 303.0,395.5 303.5,395.7 304.0,395.9 304.5,396.1 305.0,396.3 305.5,396.4 306.0,396.6 306.5,396.7 307.0,396.8 307.5,396.9 308.0,397.0 308.5,397.1 309.0,397.3 309.5,397.4 310.0,397.5 310.5,397.5 311.0,397.5 311.5,397.5 312.0,397.5 312.5,397.5 313.0,397.5 313.5,397.5 314.0,397.5 314.5,397.5 315.0,397.5 315.5,397.4 316.0,397.3 316.5,397.2 317.0,397.2 317.5,397.1 318.0,397.0 318.5,396.9 319.0,396.8 319.5,396.8 320.0,396.7 320.5,396.5 321.0,396.4 321.5,396.3 322.0,396.1 322.5,396.0 323.0,395.9 323.5,395.7 324.0,395.6 324.5,395.5 325.0,395.3 325.5,395.2 326.0,395.0 326.5,394.8 327.0,394.7 327.5,394.5 328.0,394.3 328.5,394.2 329.0,394.0 329.5,393.8 330.0,393.7 330.5,393.5 331.0,393.3 331.5,393.2 332.0,393.0 332.5,392.8 333.0,392.7 333.5,392.5 334.0,392.3 334.5,392.2 335.0,392.0 335.5,392.0 336.0,392.0 336.5,392.0 337.0,392.0 337.5,392.0 338.0,392.0 338.5,392.0 339.0,392.0 339.5,392.0 340.0,392.0 340.5,392.1 341.0,392.2 341.5,392.3 342.0,392.4 342.5,392.5 343.0,392.6 343.5,392.7 344.0,392.8 344.5,392.9 345.0,393.0 345.5,392.9 346.0,392.9 346.5,392.9 347.0,392.8 347.5,392.8 348.0,392.7 348.5,392.6 349.0,392.6 349.5,392.6 350.0,392.5 350.5,392.4 351.0,392.3 351.5,392.2 352.0,392.2 352.5,392.1 353.0,392.0 353.5,391.9 354.0,391.8 354.5,391.8 355.0,391.7 355.5,391.6 356.0,391.5 356.5,391.4 357.0,391.3 357.5,391.2 358.0,391.1 358.5,391.1 359.0,391.0 359.5,390.9 360.0,390.9 360.5,390.9 361.0,391.0 361.5,391.1 362.0,391.2 362.5,391.3 363.0,391.3 363.5,391.4 364.0,391.5 364.5,391.6 365.0,391.7 365.5,391.8 366.0,391.8 366.5,391.9 367.0,392.0 367.5,392.1 368.0,392.2 368.5,392.2 369.0,392.3 369.5,392.4 370.0,392.5 370.5,392.4 371.0,392.4 371.5,392.4 372.0,392.3 372.5,392.2 373.0,392.2 373.5,392.1 374.0,392.1 374.5,392.1 375.0,392.0 375.5,391.9 376.0,391.8 376.5,391.6 377.0,391.5 377.5,391.4 378.0,391.3 378.5,391.2 379.0,391.1 379.5,390.9 380.0,390.8 380.5,390.7 381.0,390.6 381.5,390.5 382.0,390.4 382.5,390.2 383.0,390.1 383.5,390.0 384.0,389.9 384.5,389.8 385.0,389.7 385.5,389.6 386.0,389.6 386.5,389.5 387.0,389.5 387.5,389.4 388.0,389.4 388.5,389.3 389.0,389.3 389.5,389.2 390.0,389.2 390.5,389.2 391.0,389.2 391.5,389.2 392.0,389.2 392.5,389.2 393.0,389.2 393.5,389.2 394.0,389.2 394.5,389.2 395.0,389.2 395.5,389.2 396.0,389.2 396.5,389.3 397.0,389.3 397.5,389.3 398.0,389.4 398.5,389.4 399.0,389.4 399.5,389.5 400.0,389.5 400.5,389.5 401.0,389.5 401.5,389.5 402.0,389.5 402.5,389.5 403.0,389.5 403.5,389.5 404.0,389.5 404.5,389.5 405.0,389.5 405.5,389.4 406.0,389.4 406.5,389.3 407.0,389.2 407.5,389.2 408.0,389.1 408.5,389.0 409.0,389.0 409.5,388.9 410.0,388.8 410.5,388.7 411.0,388.6 411.5,388.4 412.0,388.3 412.5,388.2 413.0,388.0 413.5,387.9 414.0,387.8 414.5,387.6 415.0,387.5 415.5,387.3 416.0,387.1 416.5,386.9 417.0,386.7 417.5,386.5 418.0,386.3 418.5,386.1 419.0,385.9 419.5,385.7 420.0,385.5 420.5,385.2 421.0,384.9 421.5,384.6 422.0,384.3 422.5,384.0 423.0,383.7 423.5,383.4 424.0,383.1 424.5,382.8 425.0,382.5 425.5,382.2 426.0,381.8 426.5,381.5 427.0,381.2 427.5,380.8 428.0,380.5 428.5,380.2 429.0,379.8 429.5,379.5 430.0,379.2 430.5,378.8 431.0,378.4 431.5,378.0 432.0,377.6 432.5,377.2 433.0,376.9 433.5,376.5 434.0,376.1 434.5,375.7 435.0,375.3 435.5,375.1 436.0,374.8 436.5,374.6 437.0,374.3 437.5,374.1 438.0,373.8 438.5,373.6 439.0,373.3 439.5,373.1 440.0,372.8 440.5,372.7 441.0,372.5 441.5,372.4 442.0,372.2 442.5,372.1 443.0,371.9 443.5,371.8 444.0,371.6 444.5,371.5 445.0,371.3 445.5,371.2 446.0,371.0 446.5,370.8 447.0,370.7 447.5,370.5 448.0,370.3 448.5,370.2 449.0,370.0 449.5,369.8 450.0,369.7 450.5,369.5 451.0,369.2 451.5,369.0 452.0,368.8 452.5,368.6 453.0,368.4 453.5,368.1 454.0,367.9 454.5,367.7 455.0,367.5 455.5,367.2 456.0,367.0 456.5,366.8 457.0,366.5 457.5,366.2 458.0,366.0 458.5,365.8 459.0,365.5 459.5,365.2 460.0,365.0 460.5,364.8 461.0,364.5 461.5,364.2 462.0,364.0 462.5,363.8 463.0,363.5 463.5,363.2 464.0,363.0 464.5,362.8 465.0,362.5 465.5,362.2 466.0,362.0 466.5,361.8 467.0,361.5 467.5,361.2 468.0,361.0 468.5,360.8 469.0,360.5 469.5,360.2 470.0,360.0 470.5,359.8 471.0,359.5 471.5,359.2 472.0,359.0 472.5,358.8 473.0,358.5 473.5,358.2 474.0,358.0 474.5,357.8 475.0,357.5 475.5,357.3 476.0,357.2 476.5,357.0 477.0,356.8 477.5,356.7 478.0,356.5 478.5,356.3 479.0,356.2 479.5,356.0 480.0,355.8 480.5,355.7 481.0,355.6 481.5,355.5 482.0,355.4 482.5,355.2 483.0,355.1 483.5,355.0 484.0,354.9 484.5,354.8 485.0,354.7 485.5,354.5 486.0,354.4 486.5,354.3 487.0,354.1 487.5,354.0 488.0,353.9 488.5,353.7 489.0,353.6 489.5,353.5 490.0,353.3 490.5,353.2 491.0,353.2 491.5,353.1 492.0,353.0 492.5,352.9 493.0,352.8 493.5,352.8 494.0,352.7 494.5,352.6 495.0,352.5 495.5,352.5 496.0,352.5 496.5,352.5 497.0,352.5 497.5,352.5 498.0,352.5 498.5,352.5 499.0,352.5 499.5,352.6 500.0,352.7 500.5,352.9 501.0,353.0 501.5,353.2 502.0,353.3 502.5,353.4 503.0,353.6 503.5,353.7 504.0,354.0 504.5,354.2 505.0,354.4 505.5,354.6 506.0,354.8 506.5,355.0 507.0,355.3 507.5,355.5 508.0,355.7 508.5,355.9 509.0,356.3 509.5,356.6 510.0,356.9 510.5,357.3 511.0,357.6 511.5,357.9 512.0,358.3 512.5,358.6 513.0,358.9 513.5,359.3 514.0,359.6 514.5,359.9 515.0,360.3 515.5,360.6 516.0,360.9 516.5,361.3 517.0,361.6 517.5,361.9 518.0,362.3 518.5,362.6 519.0,362.9 519.5,363.3 520.0,363.6 520.5,363.9 521.0,364.3 521.5,364.6 522.0,364.9 522.5,365.3 523.0,365.6 523.5,365.9 524.0,366.2 524.5,366.4 525.0,366.7 525.5,366.9 526.0,367.2 526.5,367.4 527.0,367.7 527.5,367.9 528.0,368.2 528.5,368.4 529.0,368.6 529.5,368.7 530.0,368.9 530.5,369.1 531.0,369.2 531.5,369.4 532.0,369.6 532.5,369.7 533.0,369.9 533.5,370.0 534.0,370.1 534.5,370.1 535.0,370.1 535.5,370.2 536.0,370.2 536.5,370.3 537.0,370.3 537.5,370.3 538.0,370.2 538.5,370.0 539.0,369.9 539.5,369.8 540.0,369.6 540.5,369.4 541.0,369.2 541.5,369.0 542.0,368.8 542.5,368.5 543.0,368.3 543.5,368.1 544.0,367.9 544.5,367.7 545.0,367.5 545.5,367.2 546.0,367.0 546.5,366.8 547.0,366.5 547.5,366.2 548.0,366.0 548.5,365.8 549.0,365.5 549.5,365.2 550.0,365.0 550.5,364.8 551.0,364.5 551.5,364.2 552.0,364.0 552.5,363.8 553.0,363.5 553.5,363.2 554.0,363.0 554.5,362.8 555.0,362.5 555.5,362.3 556.0,362.1 556.5,361.9 557.0,361.6 557.5,361.4 558.0,361.2 558.5,361.0 559.0,360.8 559.5,360.5 560.0,360.3 560.5,360.1 561.0,359.9 561.5,359.7 562.0,359.5 562.5,359.3 563.0,359.1 563.5,358.9 564.0,358.7 564.5,358.5 565.0,358.3 565.5,358.1 566.0,357.9 566.5,357.7 567.0,357.5 567.5,357.2 568.0,357.0 568.5,356.8 569.0,356.6 569.5,356.4 570.0,356.2 570.5,356.0 571.0,355.8 571.5,355.6 572.0,355.4 572.5,355.2 573.0,355.0 573.5,354.8 574.0,354.6 574.5,354.4 575.0,354.2 575.5,354.0 576.0,353.8 576.5,353.7 577.0,353.5 577.5,353.3 578.0,353.2 578.5,353.0 579.0,352.8 579.5,352.7 580.0,352.5 580.5,352.4 581.0,352.4 581.5,352.4 582.0,352.3 582.5,352.2 583.0,352.2 583.5,352.1 584.0,352.1 584.5,352.1 585.0,352.0 585.5,352.1 586.0,352.1 586.5,352.1 587.0,352.2 587.5,352.2 588.0,352.3 588.5,352.4 589.0,352.4 589.5,352.4 590.0,352.5 590.5,352.4 591.0,352.4 591.5,352.4 592.0,352.3 592.5,352.2 593.0,352.2 593.5,352.1 594.0,352.1 594.5,352.1 595.0,352.0 595.5,352.0 596.0,352.0 596.5,352.0 597.0,352.0 597.5,352.0 598.0,352.0 598.5,352.0 599.0,352.0 599.5,352.0 600.0,352.0 600.5,352.2 601.0,352.4 601.5,352.6 602.0,352.9 602.5,353.1 603.0,353.3 603.5,353.5 604.0,353.7 604.5,354.0 605.0,354.2 605.5,354.5 606.0,354.9 606.5,355.3 607.0,355.7 607.5,356.0 608.0,356.4 608.5,356.9 609.0,357.5 609.5,358.1 610.0,358.8 610.5,359.4 611.0,360.0 611.5,360.6 612.0,361.2 612.5,361.9 613.0,362.5 613.5,363.1 614.0,363.8 614.5,364.4 615.0,365.0 615.5,365.5 616.0,366.0 616.5,366.5 617.0,367.0 617.5,367.5 618.0,368.0 618.5,368.5 619.0,369.0 619.5,369.4 620.0,369.8 620.5,370.2 621.0,370.6 621.5,371.0 622.0,371.4 622.5,371.8 623.0,372.2 623.5,372.6 624.0,373.0 624.5,373.4 625.0,373.8 625.5,374.2 626.0,374.6 626.5,375.0 627.0,375.4 627.5,375.8 628.0,376.2 628.5,376.5 629.0,376.9 629.5,377.2 630.0,377.5 630.5,377.9 631.0,378.2 631.5,378.6 632.0,378.8 632.5,378.9 633.0,379.1 633.5,379.3 634.0,379.4 634.5,379.6 635.0,379.7 635.5,379.9 636.0,380.0 636.5,380.1 637.0,380.1 637.5,380.1 638.0,380.2 638.5,380.2 639.0,380.3 639.5,380.3 640.0,380.3 640.5,380.3 641.0,380.3 641.5,380.2 642.0,380.2 642.5,380.1 643.0,380.1 643.5,380.1 644.0,380.0 644.5,380.0 645.0,379.9 645.5,379.9 646.0,379.9 646.5,379.8 647.0,379.8 647.5,379.7 648.0,379.7 648.5,379.7 649.0,379.7 649.5,379.7 650.0,379.8 650.5,379.8 651.0,379.8 651.5,379.9 652.0,379.9 652.5,379.9 653.0,380.0 653.5,380.0 654.0,380.1 654.5,380.2 655.0,380.3 655.5,380.4 656.0,380.4 656.5,380.5 657.0,380.6 657.5,380.7 658.0,380.8 658.5,380.9 659.0,381.1 659.5,381.2 660.0,381.4 660.5,381.6 661.0,381.7 661.5,381.9 662.0,382.1 662.5,382.2 663.0,382.4 663.5,382.6 664.0,382.9 664.5,383.2 665.0,383.4 665.5,383.7 666.0,384.0 666.5,384.3 667.0,384.6 667.5,384.9 668.0,385.1 668.5,385.4 669.0,385.7 669.5,386.0 670.0,386.3 670.5,386.6 671.0,386.9 671.5,387.2 672.0,387.5 672.5,387.8 673.0,388.1 673.5,388.4 674.0,388.7 674.5,388.9 675.0,389.2 675.5,389.4 676.0,389.7 676.5,389.9 677.0,390.2 677.5,390.4 678.0,390.7 678.5,390.9 679.0,391.3 679.5,391.6 680.0,391.9 680.5,392.3 681.0,392.6 681.5,392.9 682.0,393.3 682.5,393.6 683.0,393.9 683.5,394.3 684.0,394.8 684.5,395.3 685.0,395.8 685.5,396.3 686.0,396.8 686.5,397.3 687.0,397.8 687.5,398.3 688.0,398.8 688.5,399.4 689.0,400.0 689.5,400.6 690.0,401.2 690.5,401.4 691.0,401.7 691.5,401.9 692.0,402.1 692.5,402.3 693.0,402.6 693.5,402.8 694.0,403.0 694.5,403.2 695.0,403.5 695.5,403.7 696.0,403.9 696.5,404.1 697.0,404.3 697.5,404.5 698.0,404.8 698.5,405.0 699.0,405.2 699.5,405.4 700.0,405.6 700.5,405.8 701.0,406.0 701.5,406.2 702.0,406.5 702.5,406.7 703.0,406.9 703.5,407.1 704.0,407.3 704.5,407.5 705.0,407.8 705.5,408.0 706.0,408.1 706.5,408.3 707.0,408.4 707.5,408.6 708.0,408.7 708.5,408.8 709.0,409.0 709.5,409.0 710.0,408.9 710.5,408.9 711.0,408.8 711.5,408.8 712.0,408.7 712.5,408.6 713.0,408.6 713.5,408.5 714.0,408.5 714.5,408.4 715.0,408.4 715.5,408.3 716.0,408.3 716.5,408.2 717.0,408.2 717.5,408.1 718.0,408.1 718.5,408.0 719.0,408.0 719.5,407.9 720.0,407.8 720.5,407.7 721.0,407.7 721.5,407.6 722.0,407.5 722.5,407.4 723.0,407.4 723.5,407.3 724.0,407.2 724.5,407.1 725.0,407.0 725.5,406.9 726.0,406.9 726.5,406.8 727.0,406.7 727.5,406.6 728.0,406.5 728.5,406.4 729.0,406.3 729.5,406.2 730.0,406.1 730.5,406.0 731.0,405.9 731.5,405.7 732.0,405.6 732.5,405.5 733.0,405.4 733.5,405.2 734.0,405.1 734.5,405.0 735.0,404.8" fill="none" stroke="#ff1010" stroke-width="0.9" stroke-linejoin="round" />
<polyline points="0.0,409.2 0.5,408.8 1.0,408.4 1.5,408.0 2.0,407.7 2.5,407.3 3.0,406.9 3.5,406.5 4.0,406.0 4.5,405.5 5.0,405.0 5.5,404.5 6.0,404.0 6.5,403.5 7.0,403.0 7.5,402.5 8.0,401.8 8.5,401.1 9.0,400.4 9.5,399.7 10.0,399.0 10.5,398.3 11.0,397.6 11.5,396.9 12.0,396.3 12.5,395.7 13.0,395.1 13.5,394.5 14.0,393.9 14.5,393.3 15.0,392.7 15.5,392.1 16.0,391.6 16.5,391.3 17.0,391.0 17.5,390.7 18.0,390.4 18.5,390.1 19.0,389.8 19.5,389.5 20.0,389.2 20.5,388.7 21.0,388.3 21.5,387.9 22.0,387.5 22.5,387.0 23.0,386.6 23.5,386.2 24.0,386.0 24.5,385.7 25.0,385.4 25.5,385.1 26.0,384.9 26.5,384.8 27.0,385.3 27.5,385.8 28.0,386.3 28.5,386.8 29.0,387.3 29.5,387.8 30.0,388.3 30.5,388.8 31.0,389.3 31.5,389.8 32.0,390.3 32.5,390.8 33.0,391.3 33.5,391.8 34.0,392.1 34.5,392.4 35.0,392.7 35.5,393.0 36.0,393.3 36.5,393.6 37.0,393.9 37.5,394.2 38.0,394.2 38.5,394.3 39.0,394.4 39.5,394.5 40.0,394.6 40.5,394.7 41.0,394.8 41.5,394.8 42.0,394.9 42.5,395.0 43.0,394.7 43.5,394.4 44.0,394.1 44.5,393.8 45.0,393.5 45.5,393.2 46.0,392.9 46.5,392.6 47.0,392.1 47.5,391.5 48.0,390.9 48.5,390.4 49.0,389.8 49.5,389.2 50.0,388.6 50.5,388.0 51.0,387.4 51.5,386.9 52.0,386.3 52.5,385.7 53.0,385.1 53.5,384.6 54.0,384.0 54.5,383.4 55.0,382.9 55.5,382.3 56.0,381.7 56.5,381.1 57.0,380.6 57.5,380.0 58.0,379.7 58.5,379.4 59.0,379.1 59.5,378.9 60.0,378.6 60.5,378.3 61.0,378.0 61.5,377.7 62.0,377.4 62.5,377.1 63.0,376.9 63.5,376.6 64.0,376.2 64.5,375.9 65.0,375.6 65.5,375.2 66.0,374.9 66.5,374.6 67.0,374.2 67.5,373.9 68.0,373.6 68.5,373.3 69.0,373.2 69.5,373.1 70.0,373.1 70.5,373.0 71.0,372.9 71.5,372.8 72.0,372.7 72.5,372.6 73.0,372.6 73.5,372.5 74.0,372.4 74.5,372.3 75.0,372.2 75.5,372.1 76.0,372.0 76.5,371.9 77.0,371.8 77.5,371.7 78.0,371.6 78.5,371.5 79.0,371.4 79.5,371.6 80.0,372.0 80.5,372.5 81.0,372.9 81.5,373.3 82.0,373.7 82.5,374.2 83.0,374.6 83.5,375.0 84.0,375.4 84.5,375.8 85.0,376.2 85.5,376.6 86.0,377.0 86.5,377.4 87.0,377.8 87.5,378.2 88.0,378.6 88.5,379.0 89.0,379.4 89.5,379.8 90.0,380.2 90.5,380.6 91.0,381.0 91.5,381.5 92.0,382.0 92.5,382.5 93.0,383.0 93.5,383.5 94.0,384.0 94.5,384.5 95.0,385.0 95.5,385.5 96.0,386.1 96.5,386.6 97.0,387.2 97.5,387.7 98.0,388.2 98.5,388.8 99.0,389.3 99.5,389.5 100.0,389.4 100.5,389.4 101.0,389.4 101.5,389.3 102.0,389.3 102.5,389.2 103.0,389.2 103.5,389.1 104.0,388.9 104.5,388.8 105.0,388.6 105.5,388.4 106.0,388.3 106.5,388.1 107.0,387.9 107.5,387.8 108.0,387.6 108.5,387.4 109.0,386.9 109.5,386.5 110.0,386.1 110.5,385.7 111.0,385.3 111.5,384.9 112.0,384.4 112.5,384.0 113.0,383.6 113.5,383.3 114.0,383.1 114.5,382.9 115.0,382.8 115.5,382.6 116.0,382.4 116.5,382.3 117.0,382.1 117.5,381.9 118.0,381.8 118.5,381.7 119.0,381.6 119.5,381.6 120.0,381.6 120.5,381.5 121.0,381.5 121.5,381.5 122.0,381.4 122.5,381.4 123.0,381.4 123.5,381.4 124.0,381.6 124.5,381.7 125.0,381.9 125.5,382.1 126.0,382.2 126.5,382.4 127.0,382.6 127.5,382.7 128.0,382.9 128.5,383.1 129.0,383.4 129.5,383.7 130.0,383.9 130.5,384.2 131.0,384.5 131.5,384.8 132.0,385.1 132.5,385.4 133.0,385.6 133.5,385.9 134.0,386.3 134.5,386.6 135.0,387.0 135.5,387.3 136.0,387.6 136.5,388.0 137.0,388.3 137.5,388.7 138.0,388.8 138.5,388.8 139.0,388.9 139.5,389.0 140.0,389.1 140.5,389.2 141.0,389.2 141.5,389.3 142.0,389.4 142.5,389.5 143.0,389.4 143.5,389.3 144.0,389.2 144.5,389.2 145.0,389.1 145.5,389.0 146.0,388.9 146.5,388.8 147.0,388.8 147.5,388.7 148.0,388.4 148.5,388.1 149.0,387.8 149.5,387.5 150.0,387.2 150.5,387.0 151.0,386.7 151.5,386.4 152.0,386.1 152.5,385.8 153.0,385.4 153.5,385.0 154.0,384.6 154.5,384.2 155.0,383.8 155.5,383.4 156.0,383.0 156.5,382.6 157.0,382.2 157.5,381.9 158.0,381.5 158.5,381.1 159.0,380.7 159.5,380.3 160.0,379.9 160.5,379.7 161.0,379.9 161.5,380.0 162.0,380.2 162.5,380.3 163.0,380.5 163.5,380.6 164.0,380.8 164.5,381.0 165.0,381.3 165.5,381.6 166.0,381.9 166.5,382.2 167.0,382.5 167.5,382.8 168.0,383.1 168.5,383.3 169.0,383.4 169.5,383.4 170.0,383.4 170.5,383.5 171.0,383.5 171.5,383.5 172.0,383.6 172.5,383.6 173.0,383.6 173.5,383.8 174.0,384.1 174.5,384.4 175.0,384.8 175.5,385.1 176.0,385.4 176.5,385.7 177.0,386.7 177.5,388.0 178.0,389.3 178.5,390.7 179.0,392.0 179.5,393.3 180.0,394.5 180.5,395.4 181.0,396.4 181.5,397.3 182.0,398.3 182.5,399.2 183.0,400.2 183.5,401.1 184.0,402.0 184.5,402.9 185.0,403.8 185.5,404.6 186.0,405.5 186.5,406.4 187.0,406.9 187.5,407.3 188.0,407.7 188.5,408.0 189.0,408.4 189.5,408.8 190.0,409.2 190.5,409.2 191.0,409.2 191.5,409.2 192.0,409.2 192.5,409.2 193.0,409.2 193.5,409.2 194.0,409.2 194.5,409.2 195.0,409.2 195.5,409.1 196.0,409.0 196.5,408.9 197.0,408.8 197.5,408.8 198.0,408.7 198.5,408.6 199.0,408.5 199.5,408.4 200.0,408.3 200.5,407.8 201.0,407.3 201.5,406.8 202.0,406.3 202.5,405.8 203.0,405.3 203.5,404.8 204.0,404.2 204.5,403.5 205.0,402.9 205.5,402.3 206.0,401.7 206.5,401.0 207.0,400.6 207.5,400.2 208.0,399.8 208.5,399.4 209.0,399.0 209.5,398.6 210.0,398.2 210.5,397.8 211.0,397.3 211.5,396.7 212.0,396.1 212.5,395.5 213.0,394.9 213.5,394.3 214.0,393.7 214.5,393.1 215.0,392.5 215.5,391.4 216.0,390.2 216.5,389.1 217.0,388.0 217.5,386.9 218.0,385.8 218.5,384.5 219.0,383.2 219.5,381.8 220.0,380.4 220.5,379.0 221.0,377.7 221.5,376.3 222.0,375.4 222.5,374.7 223.0,374.0 223.5,373.3 224.0,372.6 224.5,371.9 225.0,371.2 225.5,370.5 226.0,369.8 226.5,369.3 227.0,368.8 227.5,368.3 228.0,367.8 228.5,367.3 229.0,366.8 229.5,366.3 230.0,365.8 230.5,365.2 231.0,364.6 231.5,364.0 232.0,363.4 232.5,362.8 233.0,362.2 233.5,361.6 234.0,361.0 234.5,360.5 235.0,360.0 235.5,359.5 236.0,359.0 236.5,358.5 237.0,358.0 237.5,357.5 238.0,357.0 238.5,356.6 239.0,356.4 239.5,356.2 240.0,355.9 240.5,355.7 241.0,355.5 241.5,355.3 242.0,355.1 242.5,354.9 243.0,354.6 243.5,354.6 244.0,354.7 244.5,354.9 245.0,355.0 245.5,355.2 246.0,355.4 246.5,355.5 247.0,355.7 247.5,355.8 248.0,356.2 248.5,356.6 249.0,357.0 249.5,357.3 250.0,357.7 250.5,358.1 251.0,358.5 251.5,359.2 252.0,359.8 252.5,360.4 253.0,361.0 253.5,361.7 254.0,362.3 254.5,362.8 255.0,363.3 255.5,363.8 256.0,364.3 256.5,364.8 257.0,365.3 257.5,365.8 258.0,366.1 258.5,366.4 259.0,366.7 259.5,367.0 260.0,367.3 260.5,367.6 261.0,367.9 261.5,368.2 262.0,368.7 262.5,369.4 263.0,370.0 263.5,370.6 264.0,371.2 264.5,371.9 265.0,372.5 265.5,373.0 266.0,373.5 266.5,374.0 267.0,374.5 267.5,375.0 268.0,375.5 268.5,376.0 269.0,376.4 269.5,376.8 270.0,377.2 270.5,377.6 271.0,378.0 271.5,378.4 272.0,378.8 272.5,379.2 273.0,379.5 273.5,379.8 274.0,380.1 274.5,380.4 275.0,380.7 275.5,381.0 276.0,381.3 276.5,381.6 277.0,382.3 277.5,383.3 278.0,384.3 278.5,385.3 279.0,386.3 279.5,387.3 280.0,388.3 280.5,389.2 281.0,390.1 281.5,391.0 282.0,391.9 282.5,392.8 283.0,393.7 283.5,394.6 284.0,395.5 284.5,396.2 285.0,396.7 285.5,397.2 286.0,397.7 286.5,398.2 287.0,398.7 287.5,399.2 288.0,399.1 288.5,399.0 289.0,399.0 289.5,398.9 290.0,398.9 290.5,398.8 291.0,398.7 291.5,398.7 292.0,398.6 292.5,398.5 293.0,398.4 293.5,398.2 294.0,398.1 294.5,398.0 295.0,397.9 295.5,397.8 296.0,397.7 296.5,397.5 297.0,397.6 297.5,397.8 298.0,397.9 298.5,398.1 299.0,398.3 299.5,398.4 300.0,398.6 300.5,398.8 301.0,398.9 301.5,399.1 302.0,399.2 302.5,399.3 303.0,399.4 303.5,399.5 304.0,399.6 304.5,399.6 305.0,399.7 305.5,399.8 306.0,399.9 306.5,400.0 307.0,399.9 307.5,399.7 308.0,399.6 308.5,399.4 309.0,399.2 309.5,399.1 310.0,398.9 310.5,398.7 311.0,398.6 311.5,398.4 312.0,398.2 312.5,397.9 313.0,397.7 313.5,397.5 314.0,397.2 314.5,397.0 315.0,396.7 315.5,396.5 316.0,396.3 316.5,396.1 317.0,396.0 317.5,395.8 318.0,395.6 318.5,395.5 319.0,395.3 319.5,395.2 320.0,395.0 320.5,394.6 321.0,394.2 321.5,393.8 322.0,393.3 322.5,392.9 323.0,392.5 323.5,392.1 324.0,391.7 324.5,391.2 325.0,390.8 325.5,390.7 326.0,390.6 326.5,390.5 327.0,390.4 327.5,390.2 328.0,390.1 328.5,390.0 329.0,389.9 329.5,389.8 330.0,389.7 330.5,389.5 331.0,389.4 331.5,389.3 332.0,389.1 332.5,389.0 333.0,388.9 333.5,388.7 334.0,388.6 334.5,388.5 335.0,388.3 335.5,388.7 336.0,389.1 336.5,389.5 337.0,389.8 337.5,390.2 338.0,390.6 338.5,391.0 339.0,391.5 339.5,392.0 340.0,392.5 340.5,393.0 341.0,393.5 341.5,394.0 342.0,394.1 342.5,394.0 343.0,394.0 343.5,393.9 344.0,393.8 344.5,393.7 345.0,393.7 345.5,393.5 346.0,393.3 346.5,393.1 347.0,392.9 347.5,392.7 348.0,392.5 348.5,392.3 349.0,392.1 349.5,391.9 350.0,391.7 350.5,391.5 351.0,391.3 351.5,391.1 352.0,390.9 352.5,390.7 353.0,390.5 353.5,390.3 354.0,390.1 354.5,389.9 355.0,389.7 355.5,389.6 356.0,389.6 356.5,389.5 357.0,389.5 357.5,389.4 358.0,389.4 358.5,389.3 359.0,389.3 359.5,389.2 360.0,389.2 360.5,389.5 361.0,389.7 361.5,390.0 362.0,390.2 362.5,390.4 363.0,390.7 363.5,390.9 364.0,391.2 364.5,391.4 365.0,391.7 365.5,392.0 366.0,392.2 366.5,392.5 367.0,392.7 367.5,393.0 368.0,393.2 368.5,393.3 369.0,393.5 369.5,393.6 370.0,393.8 370.5,393.9 371.0,394.1 371.5,394.1 372.0,393.7 372.5,393.4 373.0,393.0 373.5,392.7 374.0,392.3 374.5,392.0 375.0,391.7 375.5,391.4 376.0,391.1 376.5,390.8 377.0,390.5 377.5,390.2 378.0,389.9 378.5,389.6 379.0,389.3 379.5,389.0 380.0,388.7 380.5,388.5 381.0,388.2 381.5,388.0 382.0,387.8 382.5,387.6 383.0,387.4 383.5,387.2 384.0,387.0 384.5,386.7 385.0,386.5 385.5,386.3 386.0,386.2 386.5,386.3 387.0,386.5 387.5,386.6 388.0,386.7 388.5,386.9 389.0,387.0 389.5,387.1 390.0,387.3 390.5,387.4 391.0,387.5 391.5,387.6 392.0,387.7 392.5,387.8 393.0,387.9 393.5,388.0 394.0,388.1 394.5,388.2 395.0,388.3 395.5,388.5 396.0,388.6 396.5,388.7 397.0,388.9 397.5,389.0 398.0,389.1 398.5,389.3 399.0,389.4 399.5,389.5 400.0,389.7 400.5,389.6 401.0,389.6 401.5,389.5 402.0,389.5 402.5,389.4 403.0,389.4 403.5,389.3 404.0,389.3 404.5,389.2 405.0,389.2 405.5,389.0 406.0,388.8 406.5,388.7 407.0,388.5 407.5,388.3 408.0,388.2 408.5,388.0 409.0,387.8 409.5,387.7 410.0,387.5 410.5,387.2 411.0,387.0 411.5,386.8 412.0,386.5 412.5,386.2 413.0,386.0 413.5,385.8 414.0,385.5 414.5,385.2 415.0,385.0 415.5,384.7 416.0,384.3 416.5,384.0 417.0,383.7 417.5,383.3 418.0,383.0 418.5,382.7 419.0,382.3 419.5,382.0 420.0,381.7 420.5,381.3 421.0,381.0 421.5,380.7 422.0,380.3 422.5,380.0 423.0,379.7 423.5,379.3 424.0,379.0 424.5,378.7 425.0,378.3 425.5,377.8 426.0,377.3 426.5,376.8 427.0,376.3 427.5,375.8 428.0,375.3 428.5,374.8 429.0,374.3 429.5,373.8 430.0,373.1 430.5,372.5 431.0,371.9 431.5,371.2 432.0,370.6 432.5,370.0 433.0,369.6 433.5,369.2 434.0,368.9 434.5,368.5 435.0,368.1 435.5,367.8 436.0,367.5 436.5,367.5 437.0,367.5 437.5,367.5 438.0,367.5 438.5,367.5 439.0,367.5 439.5,367.5 440.0,367.5 440.5,367.4 441.0,367.3 441.5,367.1 442.0,367.0 442.5,366.9 443.0,366.8 443.5,366.7 444.0,366.6 444.5,366.4 445.0,366.3 445.5,366.3 446.0,366.2 446.5,366.2 447.0,366.1 447.5,366.1 448.0,366.0 448.5,366.0 449.0,365.9 449.5,365.9 450.0,365.8 450.5,365.5 451.0,365.1 451.5,364.7 452.0,364.3 452.5,364.0 453.0,363.6 453.5,363.2 454.0,362.8 454.5,362.4 455.0,362.0 455.5,361.6 456.0,361.2 456.5,360.8 457.0,360.4 457.5,360.0 458.0,359.8 458.5,359.6 459.0,359.4 459.5,359.2 460.0,359.0 460.5,358.8 461.0,358.6 461.5,358.4 462.0,358.2 462.5,357.9 463.0,357.7 463.5,357.4 464.0,357.2 464.5,356.9 465.0,356.7 465.5,356.4 466.0,356.2 466.5,355.9 467.0,355.6 467.5,355.3 468.0,354.9 468.5,354.6 469.0,354.3 469.5,353.9 470.0,353.6 470.5,353.3 471.0,352.9 471.5,352.6 472.0,352.5 472.5,352.6 473.0,352.6 473.5,352.7 474.0,352.7 474.5,352.8 475.0,352.8 475.5,352.9 476.0,352.9 476.5,353.0 477.0,352.9 477.5,352.8 478.0,352.6 478.5,352.5 479.0,352.4 479.5,352.2 480.0,352.1 480.5,352.0 481.0,351.8 481.5,351.7 482.0,351.6 482.5,351.6 483.0,351.6 483.5,351.6 484.0,351.5 484.5,351.5 485.0,351.5 485.5,351.4 486.0,351.4 486.5,351.4 487.0,351.4 487.5,351.3 488.0,351.2 488.5,351.1 489.0,351.0 489.5,350.9 490.0,350.7 490.5,350.6 491.0,350.5 491.5,350.4 492.0,350.4 492.5,350.5 493.0,350.7 493.5,350.8 494.0,350.9 494.5,351.0 495.0,351.1 495.5,351.3 496.0,351.4 496.5,351.7 497.0,352.0 497.5,352.3 498.0,352.5 498.5,352.8 499.0,353.1 499.5,353.4 500.0,353.7 500.5,354.2 501.0,354.8 501.5,355.3 502.0,355.9 502.5,356.4 503.0,357.0 503.5,357.5 504.0,358.1 504.5,358.6 505.0,359.2 505.5,359.6 506.0,360.0 506.5,360.4 507.0,360.8 507.5,361.2 508.0,361.7 508.5,362.1 509.0,362.5 509.5,362.9 510.0,363.3 510.5,363.7 511.0,364.0 511.5,364.3 512.0,364.7 512.5,365.0 513.0,365.3 513.5,365.7 514.0,366.0 514.5,366.3 515.0,366.7 515.5,367.0 516.0,367.4 516.5,367.8 517.0,368.1 517.5,368.5 518.0,368.9 518.5,369.2 519.0,369.6 519.5,370.0 520.0,370.3 520.5,370.6 521.0,370.9 521.5,371.2 522.0,371.5 522.5,371.8 523.0,372.1 523.5,372.4 524.0,372.7 524.5,372.9 525.0,373.0 525.5,373.2 526.0,373.3 526.5,373.4 527.0,373.5 527.5,373.6 528.0,373.8 528.5,373.8 529.0,373.8 529.5,373.7 530.0,373.7 530.5,373.6 531.0,373.6 531.5,373.5 532.0,373.5 532.5,373.4 533.0,373.4 533.5,373.2 534.0,373.0 534.5,372.8 535.0,372.5 535.5,372.2 536.0,372.0 536.5,371.8 537.0,371.4 537.5,370.9 538.0,370.4 538.5,369.9 539.0,369.5 539.5,369.0 540.0,368.5 540.5,367.8 541.0,367.2 541.5,366.5 542.0,365.9 542.5,365.2 543.0,364.6 543.5,364.0 544.0,363.5 544.5,363.0 545.0,362.5 545.5,362.0 546.0,361.5 546.5,361.0 547.0,360.5 547.5,360.0 548.0,359.7 548.5,359.3 549.0,359.0 549.5,358.6 550.0,358.3 550.5,358.0 551.0,357.6 551.5,357.3 552.0,357.1 552.5,357.0 553.0,356.9 553.5,356.8 554.0,356.7 554.5,356.6 555.0,356.5 555.5,356.4 556.0,356.3 556.5,356.2 557.0,356.0 557.5,355.8 558.0,355.6 558.5,355.4 559.0,355.2 559.5,355.0 560.0,354.8 560.5,354.6 561.0,354.4 561.5,354.2 562.0,354.1 562.5,354.1 563.0,354.0 563.5,353.9 564.0,353.9 564.5,353.8 565.0,353.8 565.5,353.7 566.0,353.5 566.5,353.1 567.0,352.7 567.5,352.3 568.0,351.9 568.5,351.5 569.0,351.1 569.5,350.7 570.0,350.3 570.5,350.1 571.0,349.9 571.5,349.6 572.0,349.4 572.5,349.1 573.0,348.9 573.5,348.7 574.0,348.4 574.5,348.3 575.0,348.2 575.5,348.2 576.0,348.1 576.5,348.1 577.0,348.1 577.5,348.0 578.0,348.2 578.5,348.4 579.0,348.5 579.5,348.7 580.0,348.9 580.5,349.1 581.0,349.3 581.5,349.6 582.0,349.9 582.5,350.2 583.0,350.6 583.5,350.9 584.0,351.2 584.5,351.4 585.0,351.5 585.5,351.5 586.0,351.6 586.5,351.7 587.0,351.8 587.5,351.9 588.0,351.9 588.5,352.1 589.0,352.2 589.5,352.4 590.0,352.5 590.5,352.6 591.0,352.8 591.5,352.9 592.0,352.9 592.5,352.7 593.0,352.5 593.5,352.3 594.0,352.1 594.5,351.9 595.0,351.7 595.5,351.5 596.0,351.4 596.5,351.5 597.0,351.6 597.5,351.7 598.0,351.8 598.5,351.9 599.0,352.0 599.5,352.3 600.0,352.8 600.5,353.2 601.0,353.7 601.5,354.1 602.0,354.6 602.5,355.0 603.0,355.6 603.5,356.2 604.0,356.9 604.5,357.5 605.0,358.1 605.5,358.8 606.0,359.5 606.5,360.3 607.0,361.2 607.5,362.1 608.0,363.0 608.5,363.8 609.0,364.7 609.5,365.8 610.0,366.9 610.5,368.0 611.0,369.1 611.5,370.2 612.0,371.4 612.5,372.5 613.0,373.4 613.5,374.2 614.0,375.1 614.5,376.0 615.0,376.9 615.5,377.7 616.0,378.5 616.5,378.9 617.0,379.3 617.5,379.7 618.0,380.1 618.5,380.5 619.0,380.9 619.5,381.3 620.0,381.7 620.5,382.1 621.0,382.5 621.5,383.0 622.0,383.4 622.5,383.9 623.0,384.3 623.5,384.7 624.0,385.2 624.5,385.6 625.0,385.9 625.5,386.2 626.0,386.5 626.5,386.9 627.0,387.2 627.5,387.5 628.0,387.3 628.5,387.1 629.0,386.9 629.5,386.7 630.0,386.5 630.5,386.3 631.0,386.1 631.5,385.9 632.0,385.7 632.5,385.4 633.0,385.1 633.5,384.9 634.0,384.6 634.5,384.4 635.0,384.1 635.5,383.8 636.0,383.6 636.5,383.3 637.0,383.1 637.5,382.9 638.0,382.6 638.5,382.4 639.0,382.1 639.5,381.9 640.0,381.7 640.5,381.2 641.0,380.8 641.5,380.3 642.0,379.9 642.5,379.4 643.0,379.0 643.5,378.6 644.0,378.2 644.5,377.9 645.0,377.6 645.5,377.2 646.0,377.1 646.5,377.3 647.0,377.5 647.5,377.7 648.0,377.9 648.5,378.2 649.0,378.8 649.5,379.3 650.0,379.9 650.5,380.5 651.0,380.9 651.5,381.2 652.0,381.4 652.5,381.7 653.0,382.0 653.5,382.2 654.0,382.5 654.5,382.7 655.0,383.0 655.5,383.1 656.0,383.3 656.5,383.4 657.0,383.6 657.5,383.7 658.0,383.8 658.5,384.0 659.0,384.1 659.5,384.4 660.0,384.8 660.5,385.2 661.0,385.6 661.5,386.0 662.0,386.4 662.5,386.8 663.0,387.2 663.5,387.7 664.0,388.2 664.5,388.7 665.0,389.2 665.5,389.7 666.0,390.2 666.5,390.7 667.0,391.2 667.5,391.7 668.0,392.0 668.5,392.3 669.0,392.6 669.5,392.9 670.0,393.2 670.5,393.5 671.0,393.8 671.5,394.1 672.0,394.4 672.5,394.7 673.0,395.1 673.5,395.4 674.0,395.7 674.5,396.1 675.0,396.4 675.5,396.7 676.0,397.1 676.5,397.4 677.0,397.9 677.5,398.5 678.0,399.1 678.5,399.7 679.0,400.3 679.5,400.9 680.0,401.5 680.5,402.1 681.0,402.7 681.5,403.3 682.0,403.9 682.5,404.5 683.0,405.1 683.5,405.7 684.0,406.3 684.5,406.9 685.0,407.5 685.5,407.9 686.0,408.2 686.5,408.6 687.0,409.0 687.5,409.4 688.0,409.8 688.5,410.1 689.0,410.4 689.5,410.6 690.0,410.9 690.5,410.8 691.0,410.8 691.5,410.7 692.0,410.6 692.5,410.6 693.0,410.5 693.5,410.4 694.0,410.4 694.5,410.3 695.0,410.3 695.5,410.2 696.0,410.3 696.5,410.4 697.0,410.5 697.5,410.7 698.0,410.8 698.5,411.0 699.0,411.1 699.5,411.3 700.0,411.6 700.5,411.9 701.0,412.2 701.5,412.5 702.0,412.8 702.5,413.1 703.0,413.3 703.5,413.2 704.0,413.2 704.5,413.1 705.0,413.1 705.5,413.0 706.0,412.8 706.5,412.5 707.0,412.1 707.5,411.8 708.0,411.5 708.5,411.2 709.0,410.7 709.5,410.3 710.0,409.9 710.5,409.5 711.0,409.0 711.5,408.7 712.0,408.6 712.5,408.4 713.0,408.3 713.5,408.2 714.0,408.0 714.5,407.9 715.0,407.8 715.5,407.6 716.0,407.6 716.5,407.6 717.0,407.5 717.5,407.5 718.0,407.5 718.5,407.4 719.0,407.4 719.5,407.4 720.0,407.3 720.5,407.2 721.0,407.1 721.5,407.1 722.0,407.0 722.5,406.9 723.0,406.8 723.5,406.7 724.0,406.6 724.5,406.4 725.0,406.0 725.5,405.6 726.0,405.3 726.5,404.9 727.0,404.6 727.5,404.2 728.0,403.9 728.5,403.7 729.0,403.5 729.5,403.3 730.0,403.1 730.5,402.9 731.0,402.7 731.5,402.6 732.0,402.6 732.5,402.5 733.0,402.4 733.5,402.4 734.0,402.3 734.5,402.3 735.0,402.2" fill="none" stroke="#111111" stroke-width="0.7" stroke-linejoin="round" />
<polygon points="218.5,447.7 218.8,447.1 219.0,446.9 219.2,446.7 219.5,446.5 219.8,446.4 220.0,446.2 220.2,446.0 220.5,445.8 220.8,445.6 221.0,445.4 221.2,445.2 221.5,445.2 221.8,445.3 222.0,445.4 222.2,445.5 222.5,445.6 222.8,445.7 223.0,445.8 223.2,445.9 223.5,445.9 223.8,446.1 224.0,446.3 224.2,446.5 224.5,446.8 224.8,447.0 225.0,447.2 225.2,447.5 225.5,447.7 225.8,447.9 226.0,448.0 226.2,448.0 226.5,448.1 226.8,448.1 227.0,448.1 227.2,448.2 227.5,448.2 227.8,448.2 228.0,448.3 228.2,448.3 228.2,448.3 228.0,448.3 227.8,448.3 227.5,448.3 227.2,448.3 227.0,448.3 226.8,448.3 226.5,448.3 226.2,448.3 226.0,448.3 225.8,448.3 225.5,448.3 225.2,448.3 225.0,448.3 224.8,448.3 224.5,448.3 224.2,448.3 224.0,448.3 223.8,448.3 223.5,448.3 223.2,448.3 223.0,448.3 222.8,448.3 222.5,448.3 222.2,448.3 222.0,448.3 221.8,448.3 221.5,448.3 221.2,448.3 221.0,448.3 220.8,448.3 220.5,448.3 220.2,448.3 220.0,448.3 219.8,448.3 219.5,448.3 219.2,448.3 219.0,448.3 218.8,448.3 218.5,448.3" fill="#7dd6f8" fill-opacity="0.9"/>
<polygon points="233.2,448.1 233.5,447.9 233.8,447.6 234.0,447.3 234.2,447.1 234.5,446.8 234.8,446.5 235.0,446.3 235.2,446.0 235.5,445.8 235.8,445.5 236.0,445.2 236.2,445.0 236.5,444.7 236.8,444.4 237.0,444.2 237.2,444.4 237.5,444.7 237.8,445.0 238.0,445.3 238.2,445.6 238.5,445.9 238.8,446.1 239.0,446.4 239.2,446.7 239.5,447.0 239.8,447.2 240.0,447.2 240.2,447.3 240.5,447.4 240.8,447.4 241.0,447.5 241.2,447.6 241.5,447.6 241.8,447.7 242.0,447.8 242.2,447.8 242.5,447.9 242.8,447.9 243.0,448.0 243.0,448.3 242.8,448.3 242.5,448.3 242.2,448.3 242.0,448.3 241.8,448.3 241.5,448.3 241.2,448.3 241.0,448.3 240.8,448.3 240.5,448.3 240.2,448.3 240.0,448.3 239.8,448.3 239.5,448.3 239.2,448.3 239.0,448.3 238.8,448.3 238.5,448.3 238.2,448.3 238.0,448.3 237.8,448.3 237.5,448.3 237.2,448.3 237.0,448.3 236.8,448.3 236.5,448.3 236.2,448.3 236.0,448.3 235.8,448.3 235.5,448.3 235.2,448.3 235.0,448.3 234.8,448.3 234.5,448.3 234.2,448.3 234.0,448.3 233.8,448.3 233.5,448.3 233.2,448.3" fill="#7dd6f8" fill-opacity="0.9"/>
<polygon points="429.2,448.3 429.5,448.1 429.8,447.9 430.0,447.8 430.2,447.6 430.5,447.4 430.8,447.2 431.0,447.0 431.2,446.7 431.5,446.4 431.8,446.2 432.0,445.9 432.2,445.6 432.5,445.3 432.8,445.1 433.0,444.8 433.2,444.5 433.5,444.2 433.8,444.0 434.0,443.7 434.2,443.8 434.5,444.7 434.8,445.6 435.0,446.5 435.2,447.5 435.2,448.3 435.0,448.3 434.8,448.3 434.5,448.3 434.2,448.3 434.0,448.3 433.8,448.3 433.5,448.3 433.2,448.3 433.0,448.3 432.8,448.3 432.5,448.3 432.2,448.3 432.0,448.3 431.8,448.3 431.5,448.3 431.2,448.3 431.0,448.3 430.8,448.3 430.5,448.3 430.2,448.3 430.0,448.3 429.8,448.3 429.5,448.3 429.2,448.3" fill="#7dd6f8" fill-opacity="0.9"/>
<polygon points="454.0,448.0 454.2,447.6 454.5,447.2 454.8,446.8 455.0,446.3 455.2,446.2 455.5,446.1 455.8,445.9 456.0,445.8 456.2,445.7 456.5,445.5 456.8,445.4 457.0,445.3 457.2,445.1 457.5,445.0 457.8,445.2 458.0,445.4 458.2,445.6 458.5,445.8 458.8,446.0 459.0,446.2 459.2,446.4 459.5,446.6 459.8,446.8 460.0,447.0 460.2,447.2 460.5,447.3 460.8,447.5 461.0,447.7 461.2,447.9 461.5,447.9 461.8,447.7 462.0,447.5 462.2,447.3 462.5,447.1 462.8,446.9 463.0,446.7 463.2,446.5 463.5,446.3 463.8,446.1 464.0,445.9 464.2,445.7 464.5,445.6 464.8,445.4 465.0,445.2 465.2,445.0 465.5,444.8 465.8,444.6 466.0,444.4 466.2,444.2 466.5,444.0 466.8,443.8 467.0,443.6 467.2,443.4 467.5,443.2 467.8,443.0 468.0,442.8 468.2,442.6 468.5,442.4 468.8,442.2 469.0,442.0 469.2,441.8 469.5,441.7 469.8,441.5 470.0,441.4 470.2,441.3 470.5,441.2 470.8,441.0 471.0,440.9 471.2,440.8 471.5,440.7 471.8,440.5 472.0,440.4 472.2,440.3 472.5,440.2 472.8,441.2 473.0,442.2 473.2,443.2 473.5,444.3 473.8,445.3 474.0,446.3 474.2,447.3 474.2,448.3 474.0,448.3 473.8,448.3 473.5,448.3 473.2,448.3 473.0,448.3 472.8,448.3 472.5,448.3 472.2,448.3 472.0,448.3 471.8,448.3 471.5,448.3 471.2,448.3 471.0,448.3 470.8,448.3 470.5,448.3 470.2,448.3 470.0,448.3 469.8,448.3 469.5,448.3 469.2,448.3 469.0,448.3 468.8,448.3 468.5,448.3 468.2,448.3 468.0,448.3 467.8,448.3 467.5,448.3 467.2,448.3 467.0,448.3 466.8,448.3 466.5,448.3 466.2,448.3 466.0,448.3 465.8,448.3 465.5,448.3 465.2,448.3 465.0,448.3 464.8,448.3 464.5,448.3 464.2,448.3 464.0,448.3 463.8,448.3 463.5,448.3 463.2,448.3 463.0,448.3 462.8,448.3 462.5,448.3 462.2,448.3 462.0,448.3 461.8,448.3 461.5,448.3 461.2,448.3 461.0,448.3 460.8,448.3 460.5,448.3 460.2,448.3 460.0,448.3 459.8,448.3 459.5,448.3 459.2,448.3 459.0,448.3 458.8,448.3 458.5,448.3 458.2,448.3 458.0,448.3 457.8,448.3 457.5,448.3 457.2,448.3 457.0,448.3 456.8,448.3 456.5,448.3 456.2,448.3 456.0,448.3 455.8,448.3 455.5,448.3 455.2,448.3 455.0,448.3 454.8,448.3 454.5,448.3 454.2,448.3 454.0,448.3" fill="#7dd6f8" fill-opacity="0.9"/>
<polygon points="486.5,448.3 486.8,448.1 487.0,448.0 487.2,447.8 487.5,447.7 487.8,447.5 488.0,447.4 488.2,447.2 488.5,447.0 488.8,446.8 489.0,446.5 489.2,446.3 489.5,446.0 489.8,445.8 490.0,445.5 490.2,445.3 490.5,445.0 490.8,444.8 491.0,445.2 491.2,445.9 491.5,446.7 491.8,447.4 492.0,448.2 492.0,448.3 491.8,448.3 491.5,448.3 491.2,448.3 491.0,448.3 490.8,448.3 490.5,448.3 490.2,448.3 490.0,448.3 489.8,448.3 489.5,448.3 489.2,448.3 489.0,448.3 488.8,448.3 488.5,448.3 488.2,448.3 488.0,448.3 487.8,448.3 487.5,448.3 487.2,448.3 487.0,448.3 486.8,448.3 486.5,448.3" fill="#7dd6f8" fill-opacity="0.9"/>
<polygon points="539.5,447.9 539.8,447.3 540.0,446.9 540.2,446.5 540.5,446.1 540.8,445.8 541.0,445.4 541.2,445.0 541.5,444.6 541.8,444.2 542.0,443.8 542.2,444.0 542.5,444.1 542.8,444.2 543.0,444.4 543.2,444.5 543.5,444.6 543.8,444.8 544.0,444.9 544.2,444.9 544.5,444.8 544.8,444.6 545.0,444.5 545.2,444.3 545.5,444.2 545.8,444.1 546.0,443.9 546.2,443.8 546.5,443.6 546.8,443.4 547.0,443.3 547.2,443.1 547.5,443.0 547.8,442.9 548.0,442.8 548.2,442.7 548.5,442.6 548.8,442.6 549.0,442.5 549.2,442.4 549.5,442.3 549.8,442.2 550.0,442.1 550.2,442.0 550.5,441.9 550.8,441.9 551.0,442.1 551.2,442.6 551.5,443.1 551.8,443.6 552.0,444.0 552.2,444.5 552.5,445.0 552.8,445.4 553.0,445.9 553.2,446.4 553.5,446.9 553.8,447.1 554.0,447.0 554.2,446.9 554.5,446.8 554.8,446.7 555.0,446.6 555.2,446.6 555.5,446.5 555.8,446.4 556.0,446.3 556.2,446.2 556.5,446.1 556.8,446.0 557.0,445.9 557.2,445.8 557.5,445.7 557.8,445.6 558.0,445.6 558.2,445.5 558.5,445.4 558.8,445.3 559.0,445.2 559.2,445.1 559.5,444.9 559.8,444.7 560.0,444.5 560.2,444.3 560.5,444.1 560.8,443.9 561.0,443.7 561.2,443.5 561.5,443.3 561.8,443.1 562.0,442.9 562.2,442.7 562.5,442.5 562.8,442.5 563.0,442.4 563.2,442.4 563.5,442.4 563.8,442.4 564.0,442.3 564.2,442.3 564.5,442.3 564.8,442.2 565.0,442.2 565.2,442.2 565.5,442.0 565.8,441.7 566.0,441.4 566.2,441.1 566.5,440.9 566.8,440.6 567.0,440.3 567.2,440.0 567.5,439.8 567.8,439.5 568.0,439.2 568.2,438.9 568.5,438.8 568.8,438.7 569.0,438.6 569.2,438.5 569.5,438.4 569.8,438.3 570.0,438.2 570.2,438.1 570.5,438.0 570.8,437.9 571.0,437.8 571.2,437.7 571.5,437.6 571.8,437.5 572.0,437.5 572.2,437.5 572.5,437.5 572.8,437.6 573.0,437.6 573.2,437.6 573.5,437.6 573.8,437.6 574.0,437.6 574.2,437.6 574.5,437.7 574.8,437.8 575.0,438.2 575.2,438.6 575.5,439.0 575.8,439.4 576.0,439.8 576.2,440.2 576.5,440.5 576.8,440.9 577.0,441.3 577.2,442.2 577.5,443.0 577.8,443.8 578.0,444.7 578.2,445.5 578.5,446.3 578.8,447.2 579.0,448.0 579.0,448.3 578.8,448.3 578.5,448.3 578.2,448.3 578.0,448.3 577.8,448.3 577.5,448.3 577.2,448.3 577.0,448.3 576.8,448.3 576.5,448.3 576.2,448.3 576.0,448.3 575.8,448.3 575.5,448.3 575.2,448.3 575.0,448.3 574.8,448.3 574.5,448.3 574.2,448.3 574.0,448.3 573.8,448.3 573.5,448.3 573.2,448.3 573.0,448.3 572.8,448.3 572.5,448.3 572.2,448.3 572.0,448.3 571.8,448.3 571.5,448.3 571.2,448.3 571.0,448.3 570.8,448.3 570.5,448.3 570.2,448.3 570.0,448.3 569.8,448.3 569.5,448.3 569.2,448.3 569.0,448.3 568.8,448.3 568.5,448.3 568.2,448.3 568.0,448.3 567.8,448.3 567.5,448.3 567.2,448.3 567.0,448.3 566.8,448.3 566.5,448.3 566.2,448.3 566.0,448.3 565.8,448.3 565.5,448.3 565.2,448.3 565.0,448.3 564.8,448.3 564.5,448.3 564.2,448.3 564.0,448.3 563.8,448.3 563.5,448.3 563.2,448.3 563.0,448.3 562.8,448.3 562.5,448.3 562.2,448.3 562.0,448.3 561.8,448.3 561.5,448.3 561.2,448.3 561.0,448.3 560.8,448.3 560.5,448.3 560.2,448.3 560.0,448.3 559.8,448.3 559.5,448.3 559.2,448.3 559.0,448.3 558.8,448.3 558.5,448.3 558.2,448.3 558.0,448.3 557.8,448.3 557.5,448.3 557.2,448.3 557.0,448.3 556.8,448.3 556.5,448.3 556.2,448.3 556.0,448.3 555.8,448.3 555.5,448.3 555.2,448.3 555.0,448.3 554.8,448.3 554.5,448.3 554.2,448.3 554.0,448.3 553.8,448.3 553.5,448.3 553.2,448.3 553.0,448.3 552.8,448.3 552.5,448.3 552.2,448.3 552.0,448.3 551.8,448.3 551.5,448.3 551.2,448.3 551.0,448.3 550.8,448.3 550.5,448.3 550.2,448.3 550.0,448.3 549.8,448.3 549.5,448.3 549.2,448.3 549.0,448.3 548.8,448.3 548.5,448.3 548.2,448.3 548.0,448.3 547.8,448.3 547.5,448.3 547.2,448.3 547.0,448.3 546.8,448.3 546.5,448.3 546.2,448.3 546.0,448.3 545.8,448.3 545.5,448.3 545.2,448.3 545.0,448.3 544.8,448.3 544.5,448.3 544.2,448.3 544.0,448.3 543.8,448.3 543.5,448.3 543.2,448.3 543.0,448.3 542.8,448.3 542.5,448.3 542.2,448.3 542.0,448.3 541.8,448.3 541.5,448.3 541.2,448.3 541.0,448.3 540.8,448.3 540.5,448.3 540.2,448.3 540.0,448.3 539.8,448.3 539.5,448.3" fill="#7dd6f8" fill-opacity="0.9"/>
<polygon points="591.8,448.3 592.0,448.0 592.2,447.5 592.5,447.0 592.8,446.5 593.0,446.0 593.2,445.5 593.5,445.0 593.8,444.5 594.0,444.0 594.2,443.5 594.5,443.0 594.8,442.5 595.0,442.0 595.2,441.5 595.5,442.0 595.8,443.0 596.0,444.0 596.2,445.1 596.5,446.1 596.8,447.1 597.0,448.1 597.0,448.3 596.8,448.3 596.5,448.3 596.2,448.3 596.0,448.3 595.8,448.3 595.5,448.3 595.2,448.3 595.0,448.3 594.8,448.3 594.5,448.3 594.2,448.3 594.0,448.3 593.8,448.3 593.5,448.3 593.2,448.3 593.0,448.3 592.8,448.3 592.5,448.3 592.2,448.3 592.0,448.3 591.8,448.3" fill="#7dd6f8" fill-opacity="0.9"/>
<polygon points="178.5,480.6 178.8,481.1 179.0,481.5 179.2,482.0 179.5,482.4 179.8,482.9 180.0,483.1 180.2,483.2 180.5,483.3 180.8,483.4 181.0,483.6 181.2,483.7 181.5,483.8 181.8,483.9 182.0,484.0 182.2,484.2 182.5,484.3 182.8,484.4 183.0,484.5 183.2,484.6 183.5,484.8 183.8,484.9 184.0,485.1 184.2,485.2 184.5,485.4 184.8,485.5 185.0,485.7 185.2,485.8 185.5,486.0 185.8,486.1 186.0,486.3 186.2,486.4 186.5,486.6 186.8,486.5 187.0,486.0 187.2,485.5 187.5,485.0 187.8,484.5 188.0,484.0 188.2,483.5 188.5,483.0 188.8,482.5 189.0,482.0 189.2,481.5 189.5,481.0 189.8,480.4 189.8,480.4 189.5,480.4 189.2,480.4 189.0,480.4 188.8,480.4 188.5,480.4 188.2,480.4 188.0,480.4 187.8,480.4 187.5,480.4 187.2,480.4 187.0,480.4 186.8,480.4 186.5,480.4 186.2,480.4 186.0,480.4 185.8,480.4 185.5,480.4 185.2,480.4 185.0,480.4 184.8,480.4 184.5,480.4 184.2,480.4 184.0,480.4 183.8,480.4 183.5,480.4 183.2,480.4 183.0,480.4 182.8,480.4 182.5,480.4 182.2,480.4 182.0,480.4 181.8,480.4 181.5,480.4 181.2,480.4 181.0,480.4 180.8,480.4 180.5,480.4 180.2,480.4 180.0,480.4 179.8,480.4 179.5,480.4 179.2,480.4 179.0,480.4 178.8,480.4 178.5,480.4" fill="#ffc766" fill-opacity="0.9"/>
<polygon points="279.8,480.6 280.0,481.0 280.2,481.5 280.5,481.9 280.8,482.3 281.0,482.7 281.2,483.1 281.5,483.5 281.8,483.9 282.0,484.3 282.2,484.2 282.5,484.1 282.8,483.9 283.0,483.8 283.2,483.6 283.5,483.5 283.8,483.4 284.0,483.2 284.2,483.1 284.5,482.9 284.8,482.8 285.0,482.7 285.2,482.0 285.5,481.2 285.8,480.5 285.8,480.4 285.5,480.4 285.2,480.4 285.0,480.4 284.8,480.4 284.5,480.4 284.2,480.4 284.0,480.4 283.8,480.4 283.5,480.4 283.2,480.4 283.0,480.4 282.8,480.4 282.5,480.4 282.2,480.4 282.0,480.4 281.8,480.4 281.5,480.4 281.2,480.4 281.0,480.4 280.8,480.4 280.5,480.4 280.2,480.4 280.0,480.4 279.8,480.4" fill="#ffc766" fill-opacity="0.9"/>
<polygon points="680.8,480.6 681.0,481.0 681.2,481.1 681.5,481.3 681.8,481.5 682.0,481.7 682.2,481.9 682.5,482.1 682.8,482.3 683.0,482.5 683.2,482.6 683.5,482.8 683.8,483.0 684.0,483.2 684.2,483.4 684.5,483.4 684.8,483.5 685.0,483.6 685.2,483.6 685.5,483.7 685.8,483.8 686.0,483.8 686.2,483.9 686.5,484.0 686.8,484.1 687.0,484.1 687.2,484.0 687.5,483.4 687.8,482.8 688.0,482.3 688.2,481.7 688.5,481.1 688.8,480.5 688.8,480.4 688.5,480.4 688.2,480.4 688.0,480.4 687.8,480.4 687.5,480.4 687.2,480.4 687.0,480.4 686.8,480.4 686.5,480.4 686.2,480.4 686.0,480.4 685.8,480.4 685.5,480.4 685.2,480.4 685.0,480.4 684.8,480.4 684.5,480.4 684.2,480.4 684.0,480.4 683.8,480.4 683.5,480.4 683.2,480.4 683.0,480.4 682.8,480.4 682.5,480.4 682.2,480.4 682.0,480.4 681.8,480.4 681.5,480.4 681.2,480.4 681.0,480.4 680.8,480.4" fill="#ffc766" fill-opacity="0.9"/>
<polygon points="701.2,480.8 701.5,481.3 701.8,481.8 702.0,482.3 702.2,482.9 702.5,483.4 702.8,482.4 703.0,481.4 703.0,480.4 702.8,480.4 702.5,480.4 702.2,480.4 702.0,480.4 701.8,480.4 701.5,480.4 701.2,480.4" fill="#ffc766" fill-opacity="0.9"/>
<line x1="0.00" y1="448.30" x2="1047.00" y2="448.30" stroke="#8adcf9" stroke-width="1.1" />
<line x1="0.00" y1="480.40" x2="1047.00" y2="480.40" stroke="#ffc55c" stroke-width="1.1" />
<line x1="0.00" y1="464.30" x2="1047.00" y2="464.30" stroke="#9a9a9a" stroke-width="0.6" stroke-dasharray="0.9 1.6"/>
<polyline points="0.0,469.7 2.0,468.0 4.7,468.0 7.5,460.5 10.0,461.3 13.3,458.0 16.2,456.7 18.7,458.8 20.8,460.8 23.0,461.3 25.5,456.3 27.5,463.8 29.7,472.2 31.3,476.7 34.2,474.3 37.0,474.7 40.0,471.0 43.0,470.5 45.8,462.2 48.3,460.0 52.5,455.0 55.0,458.8 58.0,453.8 61.3,460.5 64.2,457.7 67.5,454.7 70.0,455.5 74.2,460.5 76.7,460.2 79.2,458.0 81.7,463.8 85.0,469.7 87.8,465.5 90.8,471.0 93.3,473.5 97.5,480.2 100.0,473.0 103.0,465.0 106.3,462.5 109.2,464.3 112.0,459.2 115.0,461.3 118.7,462.5 121.7,463.0 124.2,465.5 126.7,470.0 129.7,467.2 132.5,471.0 136.2,477.2 139.2,470.5 142.0,467.5 144.7,468.8 147.5,465.5 151.7,461.3 154.2,460.8 157.2,454.7 159.7,453.3 162.5,465.5 165.0,467.2 168.3,470.5 171.3,467.2 174.2,472.2 177.5,478.8 179.8,483.0 183.3,484.7 186.7,486.7 189.2,481.7 191.7,476.3 195.0,473.8 198.3,474.7 201.3,475.5 204.2,463.0 207.0,460.5 210.0,462.7 213.0,458.8 215.8,455.5 218.7,447.2 221.3,445.2 223.7,446.0 225.8,448.0 228.7,448.3 231.3,450.2 234.2,447.2 237.0,444.2 239.7,447.2 243.0,448.0 245.8,453.8 249.2,456.3 252.5,463.8 255.3,468.8 258.3,466.0 261.2,463.5 264.2,470.5 266.7,476.7 270.0,474.7 273.0,467.7 275.8,470.5 279.2,479.7 282.0,484.3 285.0,482.7 287.5,475.5 290.0,470.5 293.7,467.5 296.7,469.2 300.0,472.7 303.0,475.5 305.8,471.3 308.3,472.2 311.7,466.3 315.0,467.5 318.3,468.0 320.8,466.3 323.7,461.3 326.3,460.0 329.5,468.5 332.5,464.7 335.8,464.3 338.3,473.0 341.2,478.5 344.2,470.5 347.5,465.0 350.8,464.3 353.3,465.5 356.7,463.3 359.8,467.2 362.5,469.3 365.3,477.2 368.3,470.0 370.8,471.3 374.7,465.0 377.5,462.2 380.3,463.0 383.3,465.0 385.8,460.2 389.2,468.8 392.5,469.2 395.3,469.7 398.3,473.5 401.7,468.8 406.7,464.2 410.0,465.0 413.3,460.8 416.3,458.3 419.2,457.2 422.0,451.7 425.0,454.2 428.0,449.2 430.8,447.2 434.2,443.5 437.0,453.8 440.0,459.2 443.3,454.2 446.7,456.0 450.0,454.2 452.5,450.5 455.0,446.3 457.5,445.0 461.3,448.0 465.0,445.2 469.2,441.8 472.5,440.2 476.2,455.2 479.2,449.7 481.7,448.3 485.0,449.2 488.3,447.2 490.8,444.7 493.3,452.2 496.7,452.7 500.0,456.3 503.0,463.0 505.8,468.8 509.2,465.0 511.7,461.8 515.0,465.0 518.3,468.8 520.8,471.7 524.2,469.7 526.7,464.7 529.2,464.2 532.5,458.5 535.8,455.5 539.8,447.2 542.0,443.8 544.2,445.0 547.5,443.0 550.8,441.8 553.7,447.2 556.7,446.0 559.2,445.2 562.5,442.5 565.3,442.2 568.3,438.8 571.7,437.5 574.7,437.7 577.0,441.3 580.0,451.3 583.0,450.0 585.8,448.3 588.8,451.7 592.0,448.0 595.3,441.3 598.0,452.2 600.8,458.0 603.7,466.3 606.3,463.5 609.2,473.8 612.0,479.7 615.3,480.2 618.3,468.8 620.8,468.5 623.3,471.3 625.8,475.2 627.8,473.8 630.8,462.5 633.7,464.2 636.7,462.5 639.7,460.2 643.0,456.3 645.8,458.8 649.2,466.3 651.7,471.7 654.7,467.5 657.5,471.0 660.3,467.2 663.3,471.7 666.7,474.7 669.7,476.3 672.5,471.3 675.3,473.8 678.3,474.7 680.8,480.8 684.2,483.3 687.2,484.2 690.0,477.7 692.3,474.4 694.6,473.0 697.0,474.4 700.4,479.0 702.5,483.4 704.5,475.0 707.4,470.3 710.6,468.4 713.8,470.3 717.2,472.3 720.4,475.3 723.0,475.3 725.9,469.8 729.6,465.1 732.3,471.5 735.2,470.1" fill="none" stroke="#111" stroke-width="0.85" stroke-linejoin="round" />
</g>
<rect x="0.00" y="338.70" width="1080.00" height="1.40" fill="#dcdcdc" />
<rect x="0.00" y="429.60" width="1080.00" height="1.50" fill="#dcdcdc" />
<rect x="0.60" y="53.60" width="28.40" height="7.00" fill="#ffffff" stroke="#3f4753" stroke-width="0.85"/>
<rect x="0.10" y="53.30" width="1.30" height="7.60" fill="#222" />
<text x="1.70" y="58.80" font-size="5.7" fill="#ee22ee" textLength="26.20" lengthAdjust="spacingAndGlyphs">SMA (5, 0)</text>
<rect x="0.60" y="341.90" width="45.40" height="6.90" fill="#ffffff" stroke="#3f4753" stroke-width="0.85"/>
<rect x="0.10" y="341.60" width="1.30" height="7.50" fill="#222" />
<text x="1.70" y="347.00" font-size="5.7" fill="#333" textLength="43.20" lengthAdjust="spacingAndGlyphs">MACD (12, 26, 9)</text>
<rect x="0.60" y="432.90" width="28.90" height="7.20" fill="#ffffff" stroke="#3f4753" stroke-width="0.85"/>
<rect x="0.10" y="432.60" width="1.30" height="7.80" fill="#222" />
<text x="1.70" y="438.30" font-size="5.7" fill="#333" textLength="26.50" lengthAdjust="spacingAndGlyphs">RSI (10, 0)</text>
<text x="-0.30" y="49.90" font-size="6.3" fill="#ff2a2a" textLength="12.60" lengthAdjust="spacingAndGlyphs">6580</text>
<text x="16.20" y="49.90" font-size="6.3" fill="#222" font-weight="bold" textLength="5.40" lengthAdjust="spacingAndGlyphs">H:</text>
<text x="23.00" y="49.90" font-size="6.3" fill="#ff2a2a" textLength="20.50" lengthAdjust="spacingAndGlyphs">80.7900</text>
<text x="47.00" y="49.90" font-size="6.3" fill="#222" font-weight="bold" textLength="5.00" lengthAdjust="spacingAndGlyphs">L:</text>
<text x="54.00" y="49.90" font-size="6.3" fill="#ff2a2a" textLength="20.50" lengthAdjust="spacingAndGlyphs">79.8750</text>
<text x="78.00" y="49.90" font-size="6.3" fill="#222" font-weight="bold" textLength="5.60" lengthAdjust="spacingAndGlyphs">C:</text>
<text x="85.00" y="49.90" font-size="6.3" fill="#ff2a2a" textLength="20.50" lengthAdjust="spacingAndGlyphs">80.0500</text>
<path d="M737.9 37.6L741.7 41.2V44.7H734.2V41.2Z" fill="#c2c2c2" stroke="#7d7d7d" stroke-width="0.7" stroke-linejoin="round"/>
<text x="1050.20" y="52.55" font-size="5.7" fill="#222" stroke="#222" stroke-width="0.2" stroke-linejoin="round" textLength="23.70" lengthAdjust="spacingAndGlyphs">100.0000</text>
<text x="1050.20" y="121.55" font-size="5.7" fill="#222" stroke="#222" stroke-width="0.2" stroke-linejoin="round" textLength="20.54" lengthAdjust="spacingAndGlyphs">90.0000</text>
<text x="1050.20" y="257.55" font-size="5.7" fill="#222" stroke="#222" stroke-width="0.2" stroke-linejoin="round" textLength="20.54" lengthAdjust="spacingAndGlyphs">70.0000</text>
<text x="1050.20" y="327.05" font-size="5.7" fill="#222" stroke="#222" stroke-width="0.2" stroke-linejoin="round" textLength="20.54" lengthAdjust="spacingAndGlyphs">60.0000</text>
<text x="1050.20" y="348.05" font-size="5.7" fill="#222" stroke="#222" stroke-width="0.2" stroke-linejoin="round" textLength="17.38" lengthAdjust="spacingAndGlyphs">3.0000</text>
<text x="1050.20" y="382.35" font-size="5.7" fill="#222" stroke="#222" stroke-width="0.2" stroke-linejoin="round" textLength="17.38" lengthAdjust="spacingAndGlyphs">0.0000</text>
<text x="1050.20" y="394.65" font-size="5.7" fill="#222" stroke="#222" stroke-width="0.2" stroke-linejoin="round" textLength="18.96" lengthAdjust="spacingAndGlyphs">-1.0000</text>
<text x="1050.20" y="406.05" font-size="5.7" fill="#222" stroke="#222" stroke-width="0.2" stroke-linejoin="round" textLength="18.96" lengthAdjust="spacingAndGlyphs">-2.0000</text>
<text x="1050.20" y="417.55" font-size="5.7" fill="#222" stroke="#222" stroke-width="0.2" stroke-linejoin="round" textLength="18.96" lengthAdjust="spacingAndGlyphs">-3.0000</text>
<text x="1050.20" y="429.05" font-size="5.7" fill="#222" stroke="#222" stroke-width="0.2" stroke-linejoin="round" textLength="18.96" lengthAdjust="spacingAndGlyphs">-4.0000</text>
<text x="1054.00" y="450.90" font-size="5.7" fill="#555" textLength="19.00" lengthAdjust="spacingAndGlyphs">70.00%</text>
<text x="1054.00" y="483.40" font-size="5.7" fill="#555" textLength="19.00" lengthAdjust="spacingAndGlyphs">30.00%</text>
<rect x="1048" y="178" width="22" height="8" rx="1.5" fill="#ff0000"/>
<rect x="1050" y="180" width="26" height="11.7" rx="1" fill="#ff00ff"/>
<circle cx="1046.3" cy="186" r="0.9" fill="#ff00ff"/>
<rect x="1047.00" y="182.30" width="33.00" height="8.40" fill="#050505" />
<text x="1049.60" y="188.80" font-size="5.8" fill="#fff" font-weight="bold" textLength="20.40" lengthAdjust="spacingAndGlyphs">80.0500</text>
<rect x="1048" y="219.5" width="22" height="5.6" rx="1" fill="#0a8a0a"/>
<text x="1049.20" y="224.30" font-size="5.2" fill="#fff" font-weight="bold" textLength="19.80" lengthAdjust="spacingAndGlyphs">74.9822</text>
<rect x="1047" y="209" width="36" height="10.8" rx="1.2" fill="#b00000"/>
<text x="1047.80" y="216.90" font-size="6.6" fill="#fff" font-weight="bold" textLength="22.20" lengthAdjust="spacingAndGlyphs">76.0980</text>
<rect x="1047.00" y="294.00" width="33.00" height="9.00" fill="#050505" />
<text x="1049.60" y="300.90" font-size="5.8" fill="#fff" font-weight="bold" textLength="20.40" lengthAdjust="spacingAndGlyphs">63.6152</text>
<path d="M1045.5 367.8L1051 365.8H1072.5V373H1051Z" fill="#050505"/>
<text x="1052.50" y="370.00" font-size="5.7" fill="#fff" font-weight="bold" textLength="16.50" lengthAdjust="spacingAndGlyphs">1.1200</text>
<path d="M1045.5 361L1051 355H1072.5V365.8H1051Z" fill="#ff0000"/>
<text x="1052.50" y="362.50" font-size="5.7" fill="#fff" font-weight="bold" textLength="16.50" lengthAdjust="spacingAndGlyphs">1.7057</text>
<path d="M1045.5 387.5L1051 381.3H1074V393H1051Z" fill="#00bfff"/>
<text x="1052.00" y="389.25" font-size="5.7" fill="#0a1a2a" textLength="19.00" lengthAdjust="spacingAndGlyphs">-0.5858</text>
<path d="M1045.5 466.3L1051 460.2H1074V471.7H1051Z" fill="#050505"/>
<text x="1052.30" y="468.05" font-size="5.7" fill="#fff" font-weight="bold" textLength="19.20" lengthAdjust="spacingAndGlyphs">47.25%</text>
<g font-weight="bold" font-size="49.6">
<text x="819.3" y="451.5" textLength="199.6" lengthAdjust="spacingAndGlyphs" fill="#000" stroke="#000" stroke-width="2.2" opacity="0.11" filter="url(#wmblur)">FastBull</text>
<text x="817.8" y="449" textLength="199.6" lengthAdjust="spacingAndGlyphs" fill="#fafafa" stroke="#fafafa" stroke-width="2.2" stroke-linejoin="round" opacity="0.93">FastBull</text>
</g>
<rect x="0.00" y="29.60" width="1080.00" height="7.90" fill="#ececec" />
<line x1="0.00" y1="37.60" x2="1080.00" y2="37.60" stroke="#f6f6f6" stroke-width="0.6" />
<rect x="0.00" y="29.60" width="1080.00" height="1.30" fill="#f8f8f8" />
<text x="30.00" y="35.90" font-size="6.5" fill="#3a3a3a" textLength="12.50" lengthAdjust="spacingAndGlyphs">2023</text>
<text x="93.00" y="35.90" font-size="6.5" fill="#3a3a3a" textLength="10.00" lengthAdjust="spacingAndGlyphs">Feb</text>
<text x="153.00" y="35.90" font-size="6.5" fill="#3a3a3a" textLength="9.60" lengthAdjust="spacingAndGlyphs">Mar</text>
<text x="221.00" y="35.90" font-size="6.5" fill="#3a3a3a" textLength="9.40" lengthAdjust="spacingAndGlyphs">Apr</text>
<text x="278.00" y="35.90" font-size="6.5" fill="#3a3a3a" textLength="10.60" lengthAdjust="spacingAndGlyphs">May</text>
<text x="346.00" y="35.90" font-size="6.5" fill="#3a3a3a" textLength="9.20" lengthAdjust="spacingAndGlyphs">Jun</text>
<text x="411.00" y="35.90" font-size="6.5" fill="#3a3a3a" textLength="7.60" lengthAdjust="spacingAndGlyphs">Jul</text>
<text x="474.20" y="35.90" font-size="6.5" fill="#3a3a3a" textLength="9.80" lengthAdjust="spacingAndGlyphs">Aug</text>
<text x="543.00" y="35.90" font-size="6.5" fill="#3a3a3a" textLength="10.00" lengthAdjust="spacingAndGlyphs">Sep</text>
<text x="606.00" y="35.90" font-size="6.5" fill="#3a3a3a" textLength="9.60" lengthAdjust="spacingAndGlyphs">Oct</text>
<text x="671.50" y="35.90" font-size="6.5" fill="#3a3a3a" textLength="10.20" lengthAdjust="spacingAndGlyphs">Nov</text>
<text x="737.00" y="35.90" font-size="6.5" fill="#3a3a3a" textLength="10.00" lengthAdjust="spacingAndGlyphs">Dec</text>
<text x="829.00" y="35.90" font-size="6.5" fill="#3a3a3a" textLength="12.50" lengthAdjust="spacingAndGlyphs">2024</text>
<text x="921.00" y="35.90" font-size="6.5" fill="#3a3a3a" textLength="10.00" lengthAdjust="spacingAndGlyphs">Feb</text>
<text x="1008.00" y="35.90" font-size="6.5" fill="#3a3a3a" textLength="9.60" lengthAdjust="spacingAndGlyphs">Mar</text>
<rect x="493.80" y="29.60" width="47.00" height="7.10" fill="#050505" />
<text x="495.60" y="35.30" font-size="6.4" fill="#fff" stroke="#fff" stroke-width="0.32" stroke-linejoin="round" textLength="44.00" lengthAdjust="spacingAndGlyphs">Tue, 22 Aug 2023</text>
<rect x="0.00" y="0.00" width="1080.00" height="17.40" fill="url(#tabg)" />
<rect x="0.00" y="1.40" width="122.60" height="16.00" fill="#2b3037" />
<rect x="0.00" y="0.00" width="122.60" height="1.40" fill="#3f464f" />
<line x1="122.90" y1="0.50" x2="122.90" y2="17.40" stroke="#23272d" stroke-width="0.8" />
<rect x="0.00" y="17.20" width="1080.00" height="12.60" fill="#2b3037" />
<line x1="0.00" y1="17.50" x2="1080.00" y2="17.50" stroke="#1a1d21" stroke-width="1" />
<line x1="0.00" y1="29.50" x2="1080.00" y2="29.50" stroke="#17191c" stroke-width="0.9" />
<line x1="0.60" y1="18.00" x2="0.60" y2="29.30" stroke="#15171a" stroke-width="1" />
<line x1="1.50" y1="18.00" x2="1.50" y2="29.30" stroke="#363c44" stroke-width="0.6" />
<line x1="19.20" y1="18.00" x2="19.20" y2="29.30" stroke="#15171a" stroke-width="1" />
<line x1="20.10" y1="18.00" x2="20.10" y2="29.30" stroke="#363c44" stroke-width="0.6" />
<line x1="67.20" y1="18.00" x2="67.20" y2="29.30" stroke="#15171a" stroke-width="1" />
<line x1="68.10" y1="18.00" x2="68.10" y2="29.30" stroke="#363c44" stroke-width="0.6" />
<line x1="119.20" y1="18.00" x2="119.20" y2="29.30" stroke="#15171a" stroke-width="1" />
<line x1="120.10" y1="18.00" x2="120.10" y2="29.30" stroke="#363c44" stroke-width="0.6" />
<line x1="175.40" y1="18.00" x2="175.40" y2="29.30" stroke="#15171a" stroke-width="1" />
<line x1="176.30" y1="18.00" x2="176.30" y2="29.30" stroke="#363c44" stroke-width="0.6" />
<line x1="211.20" y1="18.00" x2="211.20" y2="29.30" stroke="#15171a" stroke-width="1" />
<line x1="212.10" y1="18.00" x2="212.10" y2="29.30" stroke="#363c44" stroke-width="0.6" />
<line x1="255.40" y1="18.00" x2="255.40" y2="29.30" stroke="#15171a" stroke-width="1" />
<line x1="256.30" y1="18.00" x2="256.30" y2="29.30" stroke="#363c44" stroke-width="0.6" />
<line x1="304.60" y1="18.00" x2="304.60" y2="29.30" stroke="#15171a" stroke-width="1" />
<line x1="305.50" y1="18.00" x2="305.50" y2="29.30" stroke="#363c44" stroke-width="0.6" />
<line x1="1033.60" y1="18.00" x2="1033.60" y2="29.30" stroke="#15171a" stroke-width="1" />
<line x1="1034.50" y1="18.00" x2="1034.50" y2="29.30" stroke="#363c44" stroke-width="0.6" />
<circle cx="8.9" cy="8.4" r="4.3" fill="none" stroke="#c9ccd0" stroke-width="0.6"/>
<text x="7.40" y="10.80" font-size="6.4" fill="#d4d7da" textLength="3.00" lengthAdjust="spacingAndGlyphs">1</text>
<text x="17.00" y="11.50" font-size="8.4" fill="#fff" stroke="#fff" stroke-width="0.32" stroke-linejoin="round" textLength="89.00" lengthAdjust="spacingAndGlyphs">Crude Oil West Texas - Cash</text>
<circle cx="112.4" cy="7.9" r="3.0" fill="none" stroke="#b4b8bd" stroke-width="0.65"/><path d="M114.6 10.1L116.9 12.7" stroke="#b4b8bd" stroke-width="0.8"/>
<path d="M128.2 8.5H134.6M131.4 5.4V11.6" stroke="#7b8189" stroke-width="0.6"/>
<path d="M5.3 19.6H14.7V27.7H5.3ZM10 19.6V27.7M5.3 23.6H14.7" fill="none" stroke="#5d636b" stroke-width="0.7"/>
<text x="23.30" y="25.60" font-size="7.8" fill="#fff" stroke="#fff" stroke-width="0.32" stroke-linejoin="round" textLength="18.00" lengthAdjust="spacingAndGlyphs">1 Day</text>
<text x="72.00" y="25.60" font-size="7.8" fill="#fff" stroke="#fff" stroke-width="0.32" stroke-linejoin="round" textLength="31.70" lengthAdjust="spacingAndGlyphs">12 Months</text>
<path d="M126.5 20.4H134M126.5 23.4H134M126.5 26.4H134" stroke="#aeb3b9" stroke-width="0.55" stroke-dasharray="3 1"/><path d="M127 19.7L128.2 20.4L127 21.1ZM132.6 22.7L133.8 23.4L132.6 24.1ZM129 25.7L130.2 26.4L129 27.1Z" fill="#cfd3d7"/>
<text x="139.00" y="25.60" font-size="7.8" fill="#fff" stroke="#fff" stroke-width="0.32" stroke-linejoin="round" textLength="30.50" lengthAdjust="spacingAndGlyphs">Templates</text>
<path d="M183.6 22.6V27.6M186.7 20.6V26.6M189.9 19.2V24.6" stroke="#b9bdc2" stroke-width="0.6"/><path d="M182.9 24.6h1.4v1.9h-1.4zM186 21.9h1.4v2.9h-1.4zM189.2 20.2h1.4v2.7h-1.4z" fill="#2b3037" stroke="#b4b9be" stroke-width="0.5"/>
<text x="194.00" y="25.60" font-size="7.8" fill="#fff" stroke="#fff" stroke-width="0.32" stroke-linejoin="round" textLength="11.50" lengthAdjust="spacingAndGlyphs">Mid</text>
<path d="M218.3 20.6H225.4V25.2H221.4L220 26.9V25.2H218.3Z" fill="none" stroke="#aeb3b9" stroke-width="0.6" stroke-linejoin="round"/>
<text x="230.00" y="25.60" font-size="7.8" fill="#fff" stroke="#fff" stroke-width="0.32" stroke-linejoin="round" textLength="20.00" lengthAdjust="spacingAndGlyphs">Forum</text>
<ellipse cx="266.5" cy="23.5" rx="3.55" ry="2.45" fill="#2b3037" stroke="#bcc0c5" stroke-width="0.9"/><circle cx="265.5" cy="23.2" r="1.15" fill="#bcc0c5"/>
<text x="274.50" y="25.60" font-size="7.8" fill="#fff" stroke="#fff" stroke-width="0.32" stroke-linejoin="round" textLength="24.00" lengthAdjust="spacingAndGlyphs">Related</text>
<circle cx="1044" cy="23.6" r="2.3" fill="none" stroke="#c4c8cc" stroke-width="0.65"/><path d="M1044 19.9V21M1044 26.2V27.3M1040.3 23.6H1041.4M1046.6 23.6H1047.7M1041.4 21L1042.2 21.8M1045.8 25.4L1046.6 26.2M1041.4 26.2L1042.2 25.4M1045.8 21.8L1046.6 21" stroke="#c4c8cc" stroke-width="0.6"/>
<text x="1052.50" y="25.60" font-size="7.8" fill="#fff" stroke="#fff" stroke-width="0.32" stroke-linejoin="round" textLength="24.60" lengthAdjust="spacingAndGlyphs">Settings</text>
<rect x="933.80" y="0.00" width="34.80" height="17.20" fill="#2b3037" />
<line x1="933.60" y1="0.00" x2="933.60" y2="17.20" stroke="#23272d" stroke-width="0.7" />
<rect x="968.60" y="0.00" width="32.60" height="17.20" fill="#4a3a22" />
<rect x="1001.20" y="0.00" width="32.90" height="17.20" fill="#15495a" />
<line x1="968.50" y1="0.00" x2="968.50" y2="17.20" stroke="#1d2024" stroke-width="0.8" />
<line x1="1001.20" y1="0.00" x2="1001.20" y2="17.20" stroke="#1d2024" stroke-width="0.5" />
<line x1="1034.30" y1="0.00" x2="1034.30" y2="17.20" stroke="#1d2024" stroke-width="0.9" />
<path d="M941.8 3.2L944.2 7.3H939.4Z" fill="#2de62d"/>
<text x="946.50" y="7.60" font-size="7.2" fill="#2de62d" stroke="#2de62d" stroke-width="0.32" stroke-linejoin="round" textLength="19.60" lengthAdjust="spacingAndGlyphs">0.39%</text>
<text x="943.00" y="15.10" font-size="7.2" fill="#2de62d" stroke="#2de62d" stroke-width="0.32" stroke-linejoin="round" textLength="23.00" lengthAdjust="spacingAndGlyphs">30.1 pts</text>
<text x="975.00" y="8.60" font-size="7.9" fill="#fff" stroke="#fff" stroke-width="0.32" stroke-linejoin="round" textLength="21.20" lengthAdjust="spacingAndGlyphs">76.083</text>
<text x="1007.40" y="8.60" font-size="7.9" fill="#fff" stroke="#fff" stroke-width="0.32" stroke-linejoin="round" textLength="21.00" lengthAdjust="spacingAndGlyphs">76.113</text>
<path d="M994.9 17.5V12.8Q994.9 11.3 996.4 11.3H1006.2Q1007.7 11.3 1007.7 12.8V17.5Z" fill="#29303a"/>
<text x="997.20" y="16.90" font-size="6.7" fill="#fff" stroke="#fff" stroke-width="0.32" stroke-linejoin="round" textLength="8.80" lengthAdjust="spacingAndGlyphs">3.0</text>
<line x1="1036.20" y1="1.60" x2="1041.60" y2="1.60" stroke="#0e1012" stroke-width="0.8" />
<line x1="1036.20" y1="5.60" x2="1041.60" y2="5.60" stroke="#0e1012" stroke-width="0.8" />
<line x1="1036.20" y1="9.60" x2="1041.60" y2="9.60" stroke="#0e1012" stroke-width="0.8" />
<line x1="1036.20" y1="13.60" x2="1041.60" y2="13.60" stroke="#0e1012" stroke-width="0.8" />
<path d="M1047.3 9.6h1.6v1.6h-1.6zM1050.2 6.6h1.4v1.4h-1.4z" fill="#9aa0a7"/><path d="M1049 9.5L1050.4 8.1" stroke="#7d838a" stroke-width="0.5"/>
<path d="M1062.2 6.5H1060.2V10.9H1064.6V8.9M1062.4 8.7L1065 6.1M1063.3 6H1065.1V7.8" fill="none" stroke="#8e949b" stroke-width="0.6"/>
<path d="M1072.2 6.1L1076.8 10.7M1076.8 6.1L1072.2 10.7" stroke="#9aa0a7" stroke-width="0.7"/>
</svg>
</body></html>
